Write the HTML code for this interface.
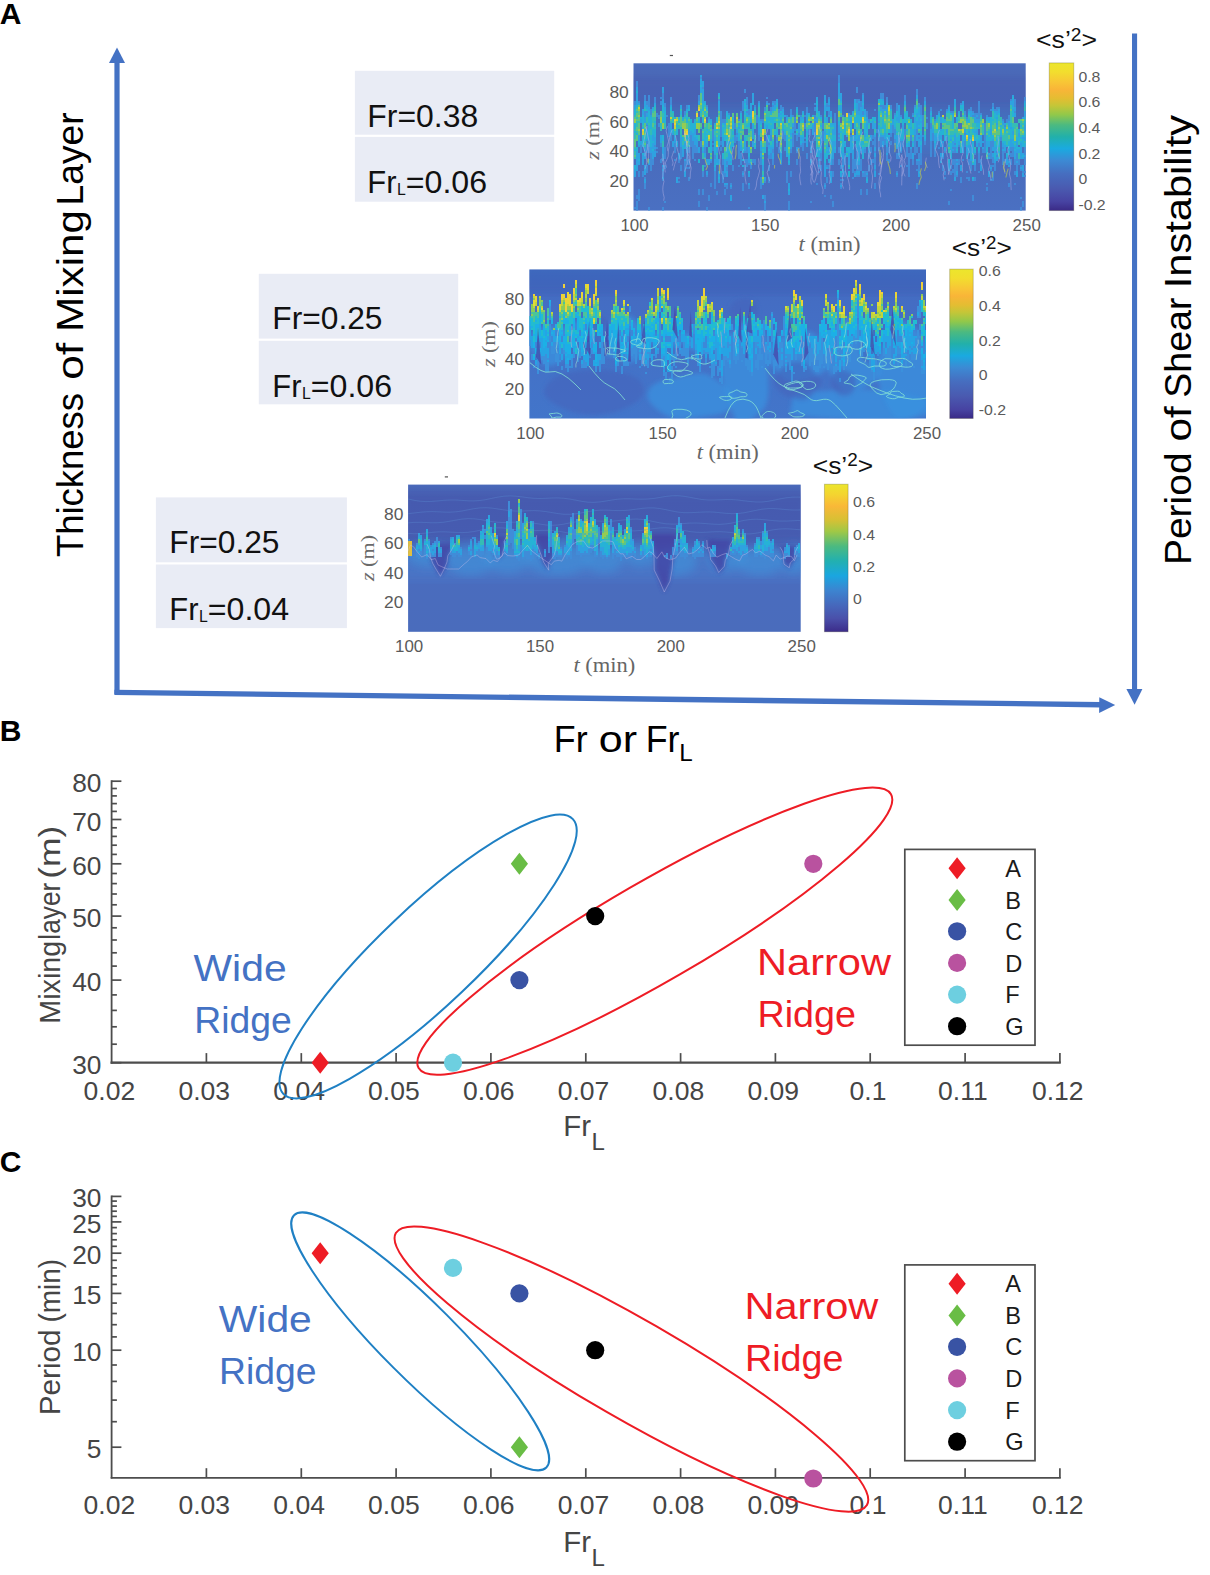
<!DOCTYPE html>
<html lang="en"><head><meta charset="utf-8"><title>Figure</title>
<style>html,body{margin:0;padding:0;background:#fff;}body{width:1210px;height:1575px;overflow:hidden;}svg{display:block;font-family:"Liberation Sans",sans-serif;}</style>
</head><body>
<svg width="1210" height="1575" viewBox="0 0 1210 1575">
<rect width="1210" height="1575" fill="#fff"/>
<defs>
<linearGradient id="cb1" x1="0" y1="0" x2="0" y2="1">
<stop offset="0%" stop-color="#ece62c"/>
<stop offset="6%" stop-color="#f2de2e"/>
<stop offset="13%" stop-color="#f8c636"/>
<stop offset="18%" stop-color="#f9b538"/>
<stop offset="24%" stop-color="#e4bd32"/>
<stop offset="29%" stop-color="#c4c638"/>
<stop offset="35%" stop-color="#92c84a"/>
<stop offset="42%" stop-color="#4cba80"/>
<stop offset="50%" stop-color="#22b0aa"/>
<stop offset="58%" stop-color="#1aaae0"/>
<stop offset="66%" stop-color="#3c8ad4"/>
<stop offset="75%" stop-color="#466ec0"/>
<stop offset="85%" stop-color="#4a5ab0"/>
<stop offset="94%" stop-color="#4743a2"/>
<stop offset="100%" stop-color="#3a2a86"/>
</linearGradient>
<linearGradient id="cb2" x1="0" y1="0" x2="0" y2="1">
<stop offset="0%" stop-color="#ece62c"/>
<stop offset="6%" stop-color="#f2de2e"/>
<stop offset="13%" stop-color="#f8c636"/>
<stop offset="18%" stop-color="#f9b538"/>
<stop offset="24%" stop-color="#e4bd32"/>
<stop offset="29%" stop-color="#c4c638"/>
<stop offset="35%" stop-color="#92c84a"/>
<stop offset="42%" stop-color="#4cba80"/>
<stop offset="50%" stop-color="#22b0aa"/>
<stop offset="58%" stop-color="#1aaae0"/>
<stop offset="66%" stop-color="#3c8ad4"/>
<stop offset="75%" stop-color="#466ec0"/>
<stop offset="85%" stop-color="#4a5ab0"/>
<stop offset="94%" stop-color="#4743a2"/>
<stop offset="100%" stop-color="#3a2a86"/>
</linearGradient>
<linearGradient id="cb3" x1="0" y1="0" x2="0" y2="1">
<stop offset="0%" stop-color="#ece62c"/>
<stop offset="7%" stop-color="#f4d430"/>
<stop offset="15%" stop-color="#f9b838"/>
<stop offset="24%" stop-color="#d8c034"/>
<stop offset="32%" stop-color="#a0c846"/>
<stop offset="42%" stop-color="#4cba80"/>
<stop offset="52%" stop-color="#22b0b0"/>
<stop offset="62%" stop-color="#1aa6e0"/>
<stop offset="72%" stop-color="#3c84d0"/>
<stop offset="82%" stop-color="#4668bc"/>
<stop offset="91%" stop-color="#4a50aa"/>
<stop offset="100%" stop-color="#3c2c8a"/>
</linearGradient>
<filter id="soft" x="-5%" y="-5%" width="110%" height="110%"><feGaussianBlur stdDeviation="0.7"/></filter>
<filter id="soft2" x="-5%" y="-5%" width="110%" height="110%"><feGaussianBlur stdDeviation="2.2"/></filter>
<filter id="soft3" x="-10%" y="-10%" width="120%" height="120%"><feGaussianBlur stdDeviation="5"/></filter>
</defs>
<text x="-0.3" y="24" font-size="30" fill="#000" font-weight="bold">A</text>
<text x="-0.2" y="740.9" font-size="30" fill="#000" font-weight="bold">B</text>
<text x="-0.3" y="1172.3" font-size="30" fill="#000" font-weight="bold">C</text>
<rect x="114.4" y="60" width="5.2" height="634" fill="#4472c4"/>
<polygon points="117,47.5 109,63 125,63" fill="#4472c4"/>
<line x1="114.4" y1="692.4" x2="1101" y2="704.7" stroke="#4472c4" stroke-width="5.4"/>
<polygon points="1115.2,705.1 1099.3,697.2 1099.1,712.9" fill="#4472c4"/>
<rect x="1132" y="33.5" width="5.1" height="657" fill="#4472c4"/>
<polygon points="1134.6,704.8 1126.4,689 1142.4,689" fill="#4472c4"/>
<text x="83.3" y="557.0" font-size="37" fill="#000" textLength="164.0" lengthAdjust="spacingAndGlyphs" transform="rotate(-90 83.3 557.0)">Thickness</text>
<text x="83.3" y="379.8" font-size="37" fill="#000" textLength="37.0" lengthAdjust="spacingAndGlyphs" transform="rotate(-90 83.3 379.8)">of</text>
<text x="83.3" y="332.0" font-size="37" fill="#000" textLength="122.0" lengthAdjust="spacingAndGlyphs" transform="rotate(-90 83.3 332.0)">Mixing</text>
<text x="83.3" y="205.4" font-size="37" fill="#000" textLength="93.0" lengthAdjust="spacingAndGlyphs" transform="rotate(-90 83.3 205.4)">Layer</text>
<text x="1191" y="565.1" font-size="37" fill="#000" textLength="112.7" lengthAdjust="spacingAndGlyphs" transform="rotate(-90 1191 565.1)">Period</text>
<text x="1191" y="441.6" font-size="37" fill="#000" textLength="35.4" lengthAdjust="spacingAndGlyphs" transform="rotate(-90 1191 441.6)">of</text>
<text x="1191" y="397.8" font-size="37" fill="#000" textLength="100.2" lengthAdjust="spacingAndGlyphs" transform="rotate(-90 1191 397.8)">Shear</text>
<text x="1191" y="288.3" font-size="37" fill="#000" textLength="173.4" lengthAdjust="spacingAndGlyphs" transform="rotate(-90 1191 288.3)">Instability</text>
<text x="553.8" y="752.3" font-size="36.2" fill="#000" textLength="33.8" lengthAdjust="spacingAndGlyphs">Fr</text>
<text x="598.8" y="752.3" font-size="36.2" fill="#000" textLength="38.3" lengthAdjust="spacingAndGlyphs">or</text>
<text x="645.7" y="752.3" font-size="36.2" fill="#000" textLength="33.8" lengthAdjust="spacingAndGlyphs">Fr</text>
<text x="679.3" y="761.2" font-size="24.2" fill="#000">L</text>
<rect x="354.9" y="70.8" width="199.3" height="63.9" fill="#e9ecf5"/>
<rect x="354.9" y="136.89999999999998" width="199.3" height="64.8" fill="#e9ecf5"/>
<text x="367.3" y="127" font-size="31.2" fill="#111" textLength="110.9" lengthAdjust="spacingAndGlyphs">Fr=0.38</text>
<text x="367.3" y="193.2" font-size="31.2" fill="#111" textLength="29.2" lengthAdjust="spacingAndGlyphs">Fr</text>
<text x="396.90000000000003" y="194.79999999999998" font-size="15.8" fill="#111">L</text>
<text x="405.8" y="193.2" font-size="31.2" fill="#111" textLength="81.3" lengthAdjust="spacingAndGlyphs">=0.06</text>
<rect x="258.8" y="273.8" width="199.4" height="64.8" fill="#e9ecf5"/>
<rect x="258.8" y="340.8" width="199.4" height="63.5" fill="#e9ecf5"/>
<text x="272.3" y="328.7" font-size="31.2" fill="#111" textLength="110.2" lengthAdjust="spacingAndGlyphs">Fr=0.25</text>
<text x="272.3" y="397.2" font-size="31.2" fill="#111" textLength="29.2" lengthAdjust="spacingAndGlyphs">Fr</text>
<text x="301.90000000000003" y="398.8" font-size="15.8" fill="#111">L</text>
<text x="310.8" y="397.2" font-size="31.2" fill="#111" textLength="81.3" lengthAdjust="spacingAndGlyphs">=0.06</text>
<rect x="155.9" y="497.4" width="191.0" height="64.9" fill="#e9ecf5"/>
<rect x="155.9" y="564.5" width="191.0" height="63.6" fill="#e9ecf5"/>
<text x="169.3" y="553.3" font-size="31.2" fill="#111" textLength="110.2" lengthAdjust="spacingAndGlyphs">Fr=0.25</text>
<text x="169.3" y="620.2" font-size="31.2" fill="#111" textLength="29.2" lengthAdjust="spacingAndGlyphs">Fr</text>
<text x="198.9" y="621.8000000000001" font-size="15.8" fill="#111">L</text>
<text x="207.8" y="620.2" font-size="31.2" fill="#111" textLength="81.3" lengthAdjust="spacingAndGlyphs">=0.04</text>
<clipPath id="clip1"><rect x="633.5" y="63.3" width="392.2" height="147.3"/></clipPath>
<linearGradient id="bg1" x1="0" y1="0" x2="0" y2="1">
<stop offset="0%" stop-color="#4a6cba"/>
<stop offset="12%" stop-color="#4a66b6"/>
<stop offset="40%" stop-color="#4966b8"/>
<stop offset="60%" stop-color="#496bbc"/>
<stop offset="100%" stop-color="#4a70c2"/>
</linearGradient>
<rect x="633.5" y="63.3" width="392.2" height="147.3" fill="url(#bg1)"/>
<g clip-path="url(#clip1)"><g transform="translate(634 63)">
<rect x="-8" y="14" width="408" height="40" fill="#4356ac" fill-opacity="0.28" filter="url(#soft3)"/>
<rect x="-8" y="44" width="408" height="44" fill="#3a90d4" fill-opacity="0.22" filter="url(#soft3)"/>
<g filter="url(#soft)">
<path d="M0 38h2v4h-2zM0 144h2v2h-2zM2 18h2v6h-2zM2 132h2v4h-2zM2 138h2v10h-2zM4 38h2v2h-2zM4 108h2v6h-2zM4 126h2v12h-2zM6 82h2v8h-2zM8 108h2v6h-2zM10 32h2v6h-2zM10 48h2v6h-2zM10 88h2v2h-2zM10 114h2v2h-2zM10 120h2v6h-2zM12 38h2v4h-2zM12 48h2v2h-2zM12 62h2v4h-2zM12 78h2v12h-2zM12 102h2v8h-2zM14 32h2v12h-2zM14 84h2v6h-2zM14 144h2v4h-2zM16 46h2v6h-2zM16 90h2v18h-2zM18 96h2v6h-2zM20 34h2v6h-2zM20 82h2v2h-2zM20 86h2v2h-2zM22 50h2v4h-2zM22 84h2v2h-2zM22 88h2v2h-2zM24 52h2v4h-2zM24 60h2v4h-2zM26 34h2v2h-2zM26 38h2v4h-2zM26 80h2v4h-2zM26 96h2v4h-2zM28 30h2v6h-2zM28 96h2v2h-2zM28 104h2v2h-2zM28 108h2v6h-2zM28 116h2v2h-2zM28 144h2v4h-2zM30 40h2v4h-2zM30 84h2v12h-2zM30 102h2v4h-2zM30 138h2v2h-2zM32 52h2v2h-2zM34 60h2v14h-2zM36 34h2v8h-2zM36 70h2v8h-2zM40 80h2v10h-2zM40 96h2v2h-2zM44 96h2v4h-2zM44 114h2v2h-2zM44 118h2v2h-2zM46 84h2v12h-2zM46 102h2v6h-2zM50 48h2v4h-2zM50 98h2v10h-2zM52 42h2v4h-2zM52 90h2v12h-2zM52 104h2v2h-2zM54 84h2v6h-2zM54 96h2v6h-2zM54 104h2v2h-2zM54 114h2v4h-2zM56 72h2v12h-2zM58 78h2v18h-2zM60 82h2v8h-2zM60 96h2v2h-2zM62 84h2v6h-2zM64 32h2v6h-2zM64 126h2v6h-2zM64 138h2v6h-2zM66 14h2v2h-2zM66 78h2v6h-2zM68 24h2v2h-2zM68 108h2v6h-2zM68 126h2v6h-2zM70 84h2v6h-2zM70 102h2v2h-2zM72 42h2v2h-2zM72 112h2v2h-2zM72 144h2v4h-2zM74 54h2v2h-2zM74 132h2v6h-2zM76 98h2v2h-2zM76 120h2v4h-2zM78 66h2v12h-2zM78 80h2v2h-2zM78 84h2v4h-2zM80 92h2v4h-2zM80 108h2v18h-2zM82 128h2v4h-2zM84 36h2v2h-2zM86 48h2v26h-2zM86 78h2v4h-2zM86 84h2v4h-2zM88 56h2v4h-2zM88 96h2v6h-2zM88 108h2v12h-2zM90 56h2v4h-2zM90 110h2v4h-2zM90 122h2v2h-2zM90 126h2v6h-2zM92 98h2v4h-2zM92 104h2v4h-2zM92 122h2v4h-2zM94 50h2v2h-2zM96 120h2v2h-2zM96 124h2v2h-2zM98 102h2v6h-2zM100 60h2v6h-2zM100 72h2v8h-2zM102 70h2v2h-2zM102 74h2v4h-2zM104 56h2v2h-2zM104 78h2v18h-2zM104 102h2v2h-2zM106 48h2v2h-2zM106 90h2v12h-2zM108 38h2v10h-2zM108 108h2v2h-2zM108 112h2v2h-2zM108 120h2v8h-2zM110 26h2v4h-2zM110 88h2v2h-2zM110 96h2v4h-2zM110 102h2v6h-2zM112 34h2v8h-2zM112 48h2v2h-2zM112 84h2v6h-2zM112 96h2v8h-2zM114 46h2v6h-2zM114 100h2v2h-2zM114 122h2v4h-2zM114 144h2v2h-2zM116 102h2v4h-2zM118 96h2v4h-2zM120 42h2v2h-2zM120 96h2v6h-2zM122 52h2v8h-2zM124 38h2v2h-2zM124 72h2v6h-2zM126 56h2v2h-2zM126 88h2v2h-2zM126 94h2v8h-2zM126 114h2v12h-2zM128 56h2v4h-2zM130 44h2v4h-2zM130 118h2v2h-2zM130 132h2v6h-2zM130 140h2v8h-2zM132 34h2v2h-2zM132 38h2v2h-2zM132 72h2v12h-2zM134 40h2v2h-2zM134 80h2v2h-2zM134 92h2v4h-2zM134 102h2v6h-2zM134 114h2v6h-2zM136 44h2v4h-2zM136 72h2v6h-2zM136 90h2v6h-2zM138 38h2v2h-2zM138 42h2v2h-2zM138 86h2v4h-2zM138 96h2v6h-2zM140 38h2v4h-2zM142 74h2v4h-2zM142 80h2v4h-2zM144 46h2v4h-2zM144 84h2v6h-2zM146 42h2v6h-2zM146 100h2v2h-2zM148 44h2v2h-2zM148 68h2v8h-2zM150 72h2v6h-2zM150 84h2v4h-2zM152 52h2v2h-2zM152 108h2v12h-2zM154 138h2v10h-2zM156 46h2v6h-2zM156 86h2v4h-2zM156 108h2v6h-2zM158 52h2v2h-2zM158 64h2v2h-2zM158 70h2v14h-2zM160 54h2v14h-2zM160 70h2v2h-2zM162 72h2v6h-2zM162 88h2v2h-2zM162 96h2v6h-2zM164 70h2v4h-2zM164 84h2v2h-2zM166 52h2v2h-2zM166 82h2v2h-2zM168 80h2v8h-2zM170 52h2v2h-2zM170 60h2v6h-2zM170 74h2v2h-2zM170 78h2v2h-2zM172 44h2v6h-2zM172 90h2v6h-2zM174 66h2v6h-2zM176 78h2v6h-2zM176 86h2v2h-2zM176 100h2v2h-2zM176 138h2v2h-2zM178 78h2v2h-2zM180 40h2v2h-2zM180 44h2v4h-2zM180 52h2v4h-2zM180 58h2v20h-2zM182 120h2v2h-2zM184 94h2v2h-2zM184 98h2v4h-2zM184 104h2v2h-2zM184 108h2v2h-2zM186 52h2v2h-2zM186 90h2v8h-2zM186 102h2v6h-2zM188 60h2v6h-2zM188 68h2v10h-2zM190 120h2v2h-2zM190 124h2v2h-2zM190 132h2v2h-2zM192 40h2v4h-2zM192 102h2v2h-2zM192 114h2v6h-2zM194 34h2v2h-2zM194 42h2v2h-2zM194 48h2v4h-2zM194 102h2v4h-2zM194 108h2v2h-2zM196 132h2v4h-2zM198 96h2v6h-2zM198 108h2v6h-2zM198 138h2v6h-2zM200 50h2v10h-2zM204 12h2v8h-2zM204 70h2v2h-2zM204 74h2v2h-2zM204 84h2v6h-2zM204 96h2v6h-2zM206 102h2v4h-2zM206 116h2v2h-2zM206 120h2v2h-2zM206 124h2v2h-2zM208 52h2v2h-2zM208 96h2v6h-2zM208 104h2v2h-2zM208 110h2v4h-2zM208 116h2v2h-2zM210 90h2v12h-2zM210 108h2v6h-2zM214 50h2v2h-2zM216 68h2v2h-2zM216 72h2v2h-2zM218 96h2v14h-2zM218 114h2v2h-2zM220 96h2v10h-2zM220 108h2v2h-2zM222 24h2v6h-2zM222 36h2v4h-2zM222 88h2v8h-2zM222 102h2v6h-2zM222 112h2v2h-2zM224 36h2v2h-2zM224 40h2v8h-2zM224 102h2v6h-2zM224 112h2v2h-2zM226 38h2v6h-2zM226 84h2v2h-2zM226 88h2v2h-2zM226 96h2v12h-2zM226 126h2v6h-2zM228 30h2v2h-2zM228 48h2v4h-2zM228 110h2v4h-2zM230 86h2v4h-2zM230 108h2v6h-2zM232 48h2v6h-2zM232 108h2v2h-2zM232 112h2v2h-2zM232 126h2v6h-2zM234 56h2v4h-2zM234 90h2v6h-2zM234 102h2v6h-2zM236 84h2v6h-2zM236 96h2v6h-2zM238 72h2v4h-2zM238 78h2v4h-2zM238 96h2v4h-2zM240 46h2v2h-2zM240 74h2v10h-2zM240 88h2v2h-2zM240 94h2v8h-2zM240 106h2v2h-2zM240 120h2v6h-2zM242 66h2v4h-2zM244 84h2v4h-2zM244 110h2v2h-2zM246 30h2v6h-2zM246 42h2v2h-2zM246 74h2v10h-2zM248 30h2v6h-2zM248 42h2v4h-2zM248 74h2v4h-2zM250 42h2v4h-2zM250 76h2v6h-2zM252 34h2v6h-2zM252 84h2v6h-2zM252 92h2v6h-2zM254 84h2v6h-2zM254 96h2v4h-2zM256 42h2v4h-2zM256 70h2v4h-2zM256 78h2v4h-2zM258 62h2v8h-2zM260 50h2v2h-2zM260 66h2v6h-2zM260 76h2v6h-2zM262 40h2v8h-2zM262 90h2v6h-2zM262 108h2v2h-2zM262 112h2v2h-2zM264 84h2v6h-2zM264 92h2v4h-2zM266 52h2v2h-2zM266 78h2v6h-2zM266 88h2v2h-2zM266 102h2v2h-2zM268 78h2v6h-2zM270 32h2v6h-2zM270 66h2v6h-2zM272 84h2v10h-2zM272 102h2v2h-2zM274 90h2v24h-2zM276 72h2v6h-2zM276 86h2v10h-2zM278 50h2v2h-2zM278 96h2v6h-2zM280 42h2v2h-2zM280 72h2v20h-2zM282 26h2v6h-2zM282 66h2v6h-2zM282 84h2v6h-2zM282 98h2v4h-2zM282 106h2v2h-2zM282 120h2v6h-2zM284 40h2v4h-2zM284 74h2v2h-2zM284 90h2v6h-2zM284 98h2v10h-2zM286 42h2v10h-2zM286 90h2v12h-2zM288 52h2v12h-2zM288 72h2v2h-2zM290 34h2v4h-2zM290 78h2v4h-2zM292 54h2v2h-2zM292 60h2v6h-2zM296 44h2v4h-2zM296 60h2v6h-2zM296 78h2v16h-2zM298 70h2v8h-2zM300 56h2v2h-2zM300 86h2v8h-2zM302 78h2v4h-2zM304 48h2v2h-2zM304 84h2v2h-2zM306 46h2v2h-2zM306 94h2v4h-2zM308 80h2v4h-2zM308 94h2v2h-2zM308 102h2v6h-2zM310 88h2v2h-2zM310 108h2v4h-2zM310 114h2v2h-2zM312 46h2v2h-2zM312 74h2v4h-2zM314 42h2v2h-2zM314 138h2v4h-2zM316 48h2v2h-2zM316 102h2v4h-2zM316 108h2v4h-2zM316 126h2v2h-2zM318 48h2v2h-2zM318 84h2v2h-2zM318 88h2v2h-2zM318 96h2v6h-2zM318 106h2v4h-2zM320 80h2v2h-2zM320 84h2v6h-2zM320 96h2v18h-2zM322 98h2v2h-2zM322 102h2v6h-2zM322 112h2v2h-2zM324 82h2v2h-2zM324 96h2v6h-2zM326 40h2v2h-2zM326 114h2v6h-2zM328 96h2v2h-2zM330 48h2v4h-2zM330 70h2v2h-2zM330 78h2v6h-2zM332 54h2v2h-2zM332 108h2v2h-2zM332 114h2v2h-2zM334 46h2v2h-2zM334 96h2v6h-2zM334 114h2v4h-2zM336 44h2v4h-2zM336 78h2v6h-2zM336 98h2v10h-2zM338 48h2v2h-2zM338 52h2v2h-2zM338 132h2v6h-2zM340 50h2v4h-2zM340 90h2v2h-2zM340 102h2v6h-2zM340 114h2v4h-2zM342 50h2v2h-2zM342 54h2v2h-2zM344 38h2v18h-2zM344 80h2v4h-2zM344 90h2v10h-2zM344 108h2v2h-2zM346 50h2v2h-2zM346 96h2v6h-2zM348 86h2v4h-2zM350 60h2v30h-2zM352 52h2v2h-2zM352 120h2v2h-2zM352 124h2v4h-2zM354 92h2v2h-2zM356 46h2v2h-2zM356 78h2v18h-2zM356 102h2v2h-2zM356 106h2v2h-2zM356 116h2v2h-2zM358 40h2v4h-2zM358 78h2v6h-2zM358 94h2v6h-2zM358 102h2v2h-2zM358 108h2v10h-2zM360 46h2v2h-2zM360 100h2v8h-2zM362 44h2v4h-2zM362 88h2v2h-2zM362 92h2v2h-2zM364 44h2v2h-2zM366 74h2v4h-2zM368 56h2v2h-2zM368 84h2v2h-2zM368 88h2v14h-2zM370 62h2v2h-2zM370 88h2v2h-2zM370 96h2v4h-2zM372 56h2v4h-2zM374 52h2v6h-2zM374 96h2v2h-2zM374 100h2v2h-2zM374 120h2v4h-2zM376 36h2v2h-2zM376 84h2v4h-2zM376 90h2v4h-2zM376 96h2v6h-2zM378 84h2v10h-2zM380 36h2v8h-2zM380 48h2v2h-2zM380 96h2v6h-2zM380 108h2v4h-2zM380 120h2v2h-2zM382 90h2v8h-2zM382 100h2v8h-2zM384 96h2v6h-2zM386 102h2v2h-2zM386 106h2v2h-2zM386 134h2v2h-2zM386 144h2v4h-2zM388 108h2v2h-2zM388 138h2v6h-2zM390 34h2v4h-2zM390 84h2v8h-2zM390 94h2v8h-2zM390 108h2v2h-2zM390 112h2v2h-2z" fill="#3f8cd8"/>
<path d="M0 42h2v4h-2zM0 106h2v8h-2zM2 24h2v4h-2zM2 30h2v12h-2zM2 88h2v20h-2zM4 40h2v2h-2zM4 72h2v6h-2zM4 82h2v2h-2zM4 90h2v6h-2zM4 98h2v4h-2zM6 56h2v4h-2zM6 78h2v4h-2zM8 46h2v6h-2zM8 92h2v10h-2zM10 38h2v6h-2zM10 54h2v6h-2zM10 84h2v4h-2zM10 90h2v6h-2zM10 102h2v10h-2zM10 116h2v4h-2zM12 42h2v4h-2zM12 50h2v4h-2zM12 60h2v2h-2zM12 66h2v6h-2zM12 76h2v2h-2zM14 44h2v4h-2zM14 72h2v12h-2zM14 96h2v6h-2zM16 52h2v2h-2zM16 84h2v6h-2zM18 44h2v2h-2zM18 72h2v6h-2zM18 80h2v6h-2zM18 88h2v8h-2zM20 40h2v2h-2zM20 74h2v8h-2zM20 84h2v2h-2zM20 88h2v6h-2zM26 72h2v8h-2zM28 24h2v6h-2zM28 36h2v6h-2zM28 84h2v12h-2zM28 102h2v2h-2zM28 106h2v2h-2zM28 114h2v2h-2zM30 44h2v4h-2zM36 42h2v2h-2zM36 60h2v10h-2zM38 70h2v2h-2zM38 78h2v6h-2zM40 72h2v8h-2zM42 78h2v2h-2zM42 82h2v2h-2zM42 114h2v6h-2zM44 90h2v6h-2zM46 42h2v4h-2zM46 74h2v10h-2zM48 54h2v2h-2zM48 86h2v8h-2zM50 52h2v2h-2zM50 80h2v4h-2zM50 96h2v2h-2zM50 108h2v6h-2zM52 46h2v2h-2zM52 84h2v6h-2zM54 42h2v4h-2zM54 66h2v6h-2zM54 74h2v4h-2zM56 68h2v4h-2zM58 70h2v8h-2zM60 56h2v2h-2zM60 66h2v6h-2zM60 74h2v8h-2zM62 76h2v8h-2zM64 38h2v4h-2zM64 84h2v6h-2zM66 12h2v2h-2zM66 16h2v6h-2zM66 24h2v6h-2zM68 18h2v6h-2zM68 26h2v14h-2zM68 88h2v2h-2zM70 38h2v2h-2zM70 78h2v6h-2zM70 90h2v6h-2zM72 44h2v2h-2zM72 80h2v4h-2zM72 96h2v6h-2zM72 108h2v4h-2zM74 56h2v2h-2zM74 96h2v6h-2zM76 56h2v2h-2zM76 96h2v2h-2zM80 60h2v2h-2zM80 74h2v4h-2zM80 90h2v2h-2zM80 96h2v6h-2zM80 104h2v4h-2zM82 84h2v6h-2zM82 96h2v4h-2zM84 30h2v2h-2zM84 38h2v10h-2zM84 96h2v6h-2zM84 108h2v6h-2zM84 116h2v4h-2zM88 74h2v10h-2zM90 60h2v2h-2zM90 96h2v14h-2zM90 120h2v2h-2zM92 48h2v2h-2zM92 82h2v2h-2zM92 96h2v2h-2zM92 102h2v2h-2zM92 108h2v6h-2zM92 120h2v2h-2zM94 78h2v6h-2zM94 90h2v12h-2zM96 90h2v6h-2zM96 98h2v2h-2zM96 122h2v2h-2zM96 132h2v6h-2zM98 62h2v4h-2zM102 66h2v4h-2zM102 72h2v2h-2zM104 60h2v2h-2zM104 64h2v2h-2zM106 82h2v6h-2zM108 110h2v2h-2zM110 38h2v2h-2zM110 78h2v10h-2zM112 42h2v4h-2zM112 50h2v4h-2zM114 52h2v2h-2zM114 84h2v6h-2zM114 94h2v6h-2zM114 110h2v4h-2zM114 120h2v2h-2zM116 40h2v12h-2zM116 54h2v2h-2zM116 58h2v2h-2zM116 100h2v2h-2zM118 30h2v10h-2zM118 62h2v14h-2zM118 78h2v6h-2zM120 44h2v2h-2zM124 40h2v2h-2zM124 54h2v18h-2zM126 58h2v2h-2zM126 82h2v6h-2zM126 90h2v4h-2zM128 102h2v6h-2zM128 120h2v2h-2zM128 132h2v4h-2zM130 114h2v4h-2zM130 138h2v2h-2zM132 40h2v2h-2zM132 62h2v4h-2zM134 78h2v2h-2zM134 82h2v4h-2zM134 88h2v4h-2zM136 48h2v2h-2zM136 66h2v6h-2zM136 84h2v6h-2zM138 40h2v2h-2zM138 44h2v4h-2zM138 84h2v2h-2zM138 90h2v6h-2zM140 42h2v4h-2zM142 36h2v4h-2zM142 72h2v2h-2zM142 78h2v2h-2zM144 50h2v4h-2zM146 50h2v2h-2zM146 54h2v4h-2zM146 90h2v10h-2zM148 46h2v4h-2zM148 66h2v2h-2zM150 52h2v2h-2zM150 70h2v2h-2zM152 54h2v4h-2zM152 90h2v4h-2zM154 96h2v2h-2zM154 100h2v2h-2zM154 120h2v6h-2zM154 128h2v4h-2zM156 52h2v2h-2zM156 70h2v2h-2zM156 76h2v2h-2zM156 84h2v2h-2zM158 60h2v4h-2zM158 66h2v4h-2zM162 44h2v2h-2zM162 84h2v4h-2zM164 60h2v10h-2zM166 54h2v4h-2zM166 74h2v4h-2zM166 80h2v2h-2zM168 48h2v2h-2zM168 54h2v2h-2zM168 74h2v6h-2zM172 50h2v10h-2zM172 68h2v2h-2zM172 78h2v6h-2zM174 50h2v2h-2zM176 84h2v2h-2zM176 88h2v2h-2zM176 96h2v4h-2zM178 62h2v10h-2zM180 56h2v2h-2zM182 34h2v4h-2zM182 42h2v2h-2zM182 54h2v6h-2zM182 86h2v4h-2zM184 48h2v2h-2zM184 88h2v6h-2zM184 96h2v2h-2zM184 102h2v2h-2zM186 74h2v10h-2zM186 88h2v2h-2zM190 32h2v6h-2zM190 42h2v6h-2zM190 68h2v4h-2zM190 100h2v14h-2zM190 122h2v2h-2zM192 44h2v4h-2zM192 54h2v6h-2zM192 84h2v2h-2zM192 88h2v2h-2zM192 94h2v2h-2zM192 104h2v2h-2zM194 36h2v6h-2zM194 44h2v4h-2zM194 52h2v2h-2zM194 84h2v6h-2zM194 98h2v2h-2zM196 48h2v6h-2zM196 96h2v6h-2zM196 108h2v12h-2zM198 60h2v2h-2zM198 66h2v6h-2zM198 78h2v18h-2zM200 60h2v12h-2zM200 78h2v6h-2zM200 86h2v4h-2zM204 20h2v14h-2zM204 62h2v8h-2zM204 72h2v2h-2zM204 76h2v2h-2zM206 30h2v8h-2zM206 42h2v6h-2zM206 88h2v2h-2zM206 110h2v4h-2zM206 122h2v2h-2zM208 90h2v6h-2zM208 102h2v2h-2zM208 106h2v4h-2zM210 80h2v4h-2zM212 72h2v2h-2zM212 88h2v2h-2zM214 52h2v2h-2zM214 90h2v12h-2zM216 54h2v6h-2zM216 64h2v4h-2zM216 74h2v16h-2zM218 48h2v2h-2zM218 72h2v2h-2zM218 76h2v2h-2zM218 84h2v12h-2zM220 36h2v4h-2zM220 72h2v6h-2zM220 110h2v4h-2zM222 40h2v12h-2zM222 76h2v2h-2zM222 84h2v4h-2zM222 96h2v6h-2zM222 108h2v4h-2zM224 38h2v2h-2zM224 48h2v4h-2zM224 72h2v6h-2zM224 82h2v12h-2zM224 98h2v4h-2zM224 108h2v4h-2zM226 44h2v10h-2zM226 86h2v2h-2zM228 32h2v8h-2zM228 42h2v4h-2zM228 52h2v2h-2zM228 86h2v4h-2zM228 108h2v2h-2zM230 46h2v6h-2zM230 70h2v4h-2zM230 84h2v2h-2zM232 54h2v4h-2zM232 60h2v6h-2zM232 110h2v2h-2zM232 114h2v2h-2zM232 118h2v2h-2zM234 84h2v6h-2zM236 72h2v6h-2zM238 58h2v8h-2zM240 60h2v6h-2zM240 72h2v2h-2zM240 84h2v4h-2zM240 90h2v4h-2zM240 102h2v4h-2zM240 108h2v6h-2zM244 58h2v2h-2zM244 66h2v6h-2zM244 74h2v4h-2zM246 44h2v4h-2zM246 72h2v2h-2zM248 36h2v2h-2zM248 46h2v4h-2zM248 52h2v2h-2zM248 72h2v2h-2zM248 78h2v6h-2zM250 46h2v2h-2zM250 70h2v6h-2zM252 40h2v14h-2zM252 76h2v2h-2zM252 80h2v4h-2zM252 90h2v2h-2zM254 74h2v4h-2zM256 62h2v8h-2zM258 56h2v6h-2zM260 52h2v2h-2zM260 64h2v2h-2zM260 72h2v4h-2zM262 54h2v4h-2zM262 72h2v10h-2zM262 84h2v2h-2zM262 110h2v2h-2zM264 42h2v18h-2zM264 72h2v12h-2zM264 90h2v2h-2zM266 76h2v2h-2zM266 84h2v4h-2zM268 62h2v4h-2zM268 76h2v2h-2zM270 38h2v4h-2zM272 48h2v2h-2zM274 80h2v4h-2zM276 64h2v2h-2zM276 84h2v2h-2zM278 52h2v2h-2zM278 78h2v2h-2zM278 90h2v6h-2zM280 44h2v2h-2zM280 54h2v6h-2zM280 66h2v6h-2zM282 32h2v4h-2zM282 50h2v4h-2zM282 58h2v8h-2zM282 72h2v6h-2zM282 96h2v2h-2zM284 44h2v8h-2zM284 54h2v8h-2zM284 64h2v2h-2zM284 72h2v2h-2zM284 76h2v8h-2zM284 96h2v2h-2zM284 108h2v6h-2zM286 52h2v4h-2zM286 58h2v2h-2zM286 72h2v6h-2zM286 82h2v8h-2zM290 38h2v4h-2zM290 76h2v2h-2zM296 48h2v2h-2zM296 52h2v2h-2zM296 66h2v12h-2zM298 66h2v4h-2zM300 58h2v2h-2zM300 72h2v6h-2zM300 80h2v6h-2zM302 52h2v4h-2zM302 74h2v4h-2zM304 50h2v2h-2zM304 72h2v6h-2zM306 54h2v6h-2zM306 66h2v2h-2zM306 72h2v4h-2zM306 78h2v6h-2zM306 90h2v4h-2zM306 98h2v2h-2zM308 78h2v2h-2zM308 90h2v4h-2zM310 56h2v2h-2zM310 84h2v4h-2zM312 48h2v2h-2zM312 66h2v4h-2zM312 72h2v2h-2zM314 44h2v4h-2zM314 100h2v8h-2zM316 76h2v2h-2zM316 86h2v2h-2zM316 94h2v2h-2zM318 50h2v2h-2zM318 78h2v6h-2zM318 86h2v2h-2zM320 36h2v6h-2zM320 72h2v8h-2zM320 82h2v2h-2zM320 114h2v4h-2zM322 56h2v2h-2zM322 84h2v2h-2zM322 88h2v2h-2zM322 96h2v2h-2zM322 100h2v2h-2zM322 108h2v4h-2zM324 48h2v2h-2zM324 78h2v4h-2zM326 102h2v6h-2zM328 38h2v4h-2zM328 78h2v12h-2zM330 52h2v2h-2zM330 66h2v4h-2zM330 72h2v6h-2zM332 56h2v2h-2zM332 84h2v8h-2zM332 94h2v2h-2zM334 48h2v2h-2zM334 68h2v2h-2zM334 74h2v4h-2zM334 82h2v8h-2zM336 48h2v6h-2zM336 84h2v14h-2zM338 50h2v2h-2zM338 84h2v6h-2zM338 116h2v2h-2zM340 54h2v6h-2zM340 68h2v2h-2zM340 96h2v6h-2zM342 52h2v2h-2zM342 56h2v4h-2zM342 66h2v6h-2zM342 80h2v4h-2zM344 56h2v4h-2zM344 78h2v2h-2zM344 88h2v2h-2zM346 72h2v12h-2zM346 102h2v6h-2zM348 78h2v2h-2zM348 84h2v2h-2zM352 54h2v2h-2zM352 78h2v6h-2zM354 54h2v4h-2zM354 78h2v6h-2zM354 90h2v2h-2zM354 94h2v2h-2zM354 108h2v6h-2zM356 66h2v6h-2zM356 104h2v2h-2zM358 44h2v4h-2zM358 76h2v2h-2zM358 84h2v4h-2zM358 90h2v4h-2zM360 48h2v2h-2zM360 84h2v6h-2zM360 96h2v4h-2zM362 48h2v4h-2zM362 54h2v2h-2zM362 60h2v2h-2zM362 84h2v4h-2zM362 90h2v2h-2zM362 94h2v4h-2zM364 46h2v4h-2zM366 72h2v2h-2zM368 58h2v4h-2zM368 80h2v4h-2zM368 86h2v2h-2zM370 60h2v2h-2zM370 64h2v2h-2zM370 82h2v6h-2zM372 94h2v8h-2zM374 58h2v6h-2zM374 86h2v2h-2zM374 90h2v2h-2zM374 98h2v2h-2zM374 102h2v2h-2zM376 38h2v4h-2zM376 64h2v2h-2zM376 76h2v8h-2zM378 32h2v2h-2zM378 36h2v8h-2zM378 46h2v2h-2zM378 68h2v4h-2zM378 76h2v2h-2zM378 80h2v4h-2zM380 44h2v4h-2zM380 50h2v4h-2zM380 84h2v2h-2zM380 88h2v8h-2zM382 78h2v6h-2zM382 86h2v4h-2zM382 98h2v2h-2zM382 108h2v6h-2zM384 70h2v4h-2zM384 86h2v4h-2zM386 80h2v16h-2zM386 104h2v2h-2zM388 54h2v2h-2zM388 74h2v2h-2zM388 90h2v2h-2zM388 94h2v2h-2zM388 102h2v6h-2zM388 110h2v4h-2zM390 38h2v2h-2zM390 48h2v6h-2zM390 62h2v6h-2zM390 74h2v4h-2zM390 92h2v2h-2z" fill="#2ea2e0"/>
<path d="M0 46h2v6h-2zM0 60h2v6h-2zM0 68h2v2h-2zM0 86h2v2h-2zM0 102h2v4h-2zM2 28h2v2h-2zM2 42h2v2h-2zM2 70h2v2h-2zM2 84h2v4h-2zM4 78h2v4h-2zM4 96h2v2h-2zM6 54h2v2h-2zM8 52h2v10h-2zM8 64h2v2h-2zM8 74h2v10h-2zM8 90h2v2h-2zM10 44h2v2h-2zM10 66h2v2h-2zM10 76h2v2h-2zM12 46h2v2h-2zM12 72h2v4h-2zM14 48h2v12h-2zM14 62h2v10h-2zM16 54h2v12h-2zM16 72h2v12h-2zM18 46h2v2h-2zM18 66h2v6h-2zM18 78h2v2h-2zM18 86h2v2h-2zM20 42h2v2h-2zM20 58h2v2h-2zM20 62h2v2h-2zM20 66h2v8h-2zM26 64h2v2h-2zM28 42h2v8h-2zM28 54h2v6h-2zM28 72h2v6h-2zM30 48h2v12h-2zM36 44h2v4h-2zM38 48h2v2h-2zM38 56h2v2h-2zM38 66h2v4h-2zM40 54h2v2h-2zM42 62h2v2h-2zM42 66h2v6h-2zM42 80h2v2h-2zM44 54h2v2h-2zM44 58h2v2h-2zM46 48h2v4h-2zM46 72h2v2h-2zM48 56h2v2h-2zM48 74h2v4h-2zM48 82h2v4h-2zM50 78h2v2h-2zM50 84h2v2h-2zM52 48h2v2h-2zM52 54h2v6h-2zM52 74h2v2h-2zM54 46h2v2h-2zM54 72h2v2h-2zM54 80h2v2h-2zM56 56h2v12h-2zM58 60h2v10h-2zM60 58h2v8h-2zM60 72h2v2h-2zM62 72h2v4h-2zM64 54h2v6h-2zM64 96h2v4h-2zM66 22h2v2h-2zM66 48h2v2h-2zM68 40h2v8h-2zM68 56h2v4h-2zM68 76h2v2h-2zM68 84h2v4h-2zM70 40h2v2h-2zM70 48h2v2h-2zM70 52h2v2h-2zM70 68h2v10h-2zM72 46h2v2h-2zM72 66h2v2h-2zM72 70h2v2h-2zM72 74h2v2h-2zM72 78h2v2h-2zM74 58h2v2h-2zM74 68h2v2h-2zM76 58h2v4h-2zM76 76h2v14h-2zM80 66h2v2h-2zM80 72h2v2h-2zM80 78h2v12h-2zM80 102h2v2h-2zM82 54h2v4h-2zM82 92h2v4h-2zM82 100h2v2h-2zM84 32h2v2h-2zM84 72h2v12h-2zM84 114h2v2h-2zM88 60h2v2h-2zM88 64h2v10h-2zM88 90h2v6h-2zM90 62h2v4h-2zM90 72h2v6h-2zM92 50h2v4h-2zM92 74h2v2h-2zM92 78h2v4h-2zM92 84h2v6h-2zM92 94h2v2h-2zM94 52h2v4h-2zM94 86h2v4h-2zM96 76h2v12h-2zM96 96h2v2h-2zM96 100h2v2h-2zM98 54h2v8h-2zM98 68h2v4h-2zM98 74h2v4h-2zM98 80h2v4h-2zM104 62h2v2h-2zM104 70h2v8h-2zM106 50h2v6h-2zM106 78h2v4h-2zM108 86h2v4h-2zM108 96h2v2h-2zM108 102h2v2h-2zM110 36h2v2h-2zM110 40h2v6h-2zM110 48h2v4h-2zM110 54h2v6h-2zM110 74h2v4h-2zM112 46h2v2h-2zM112 62h2v2h-2zM114 60h2v4h-2zM114 90h2v4h-2zM114 108h2v2h-2zM116 52h2v2h-2zM116 56h2v2h-2zM116 98h2v2h-2zM118 40h2v2h-2zM118 60h2v2h-2zM120 46h2v2h-2zM120 80h2v2h-2zM120 84h2v2h-2zM124 42h2v2h-2zM126 60h2v2h-2zM126 64h2v2h-2zM126 78h2v4h-2zM128 84h2v2h-2zM128 96h2v6h-2zM128 112h2v2h-2zM130 60h2v6h-2zM130 84h2v6h-2zM132 54h2v8h-2zM134 54h2v4h-2zM134 60h2v6h-2zM134 72h2v6h-2zM134 86h2v2h-2zM136 50h2v2h-2zM136 54h2v6h-2zM136 62h2v4h-2zM136 82h2v2h-2zM138 54h2v12h-2zM138 78h2v6h-2zM140 46h2v2h-2zM140 54h2v2h-2zM140 58h2v2h-2zM140 68h2v4h-2zM142 40h2v4h-2zM142 66h2v6h-2zM144 54h2v2h-2zM144 58h2v2h-2zM146 48h2v2h-2zM146 52h2v2h-2zM146 58h2v2h-2zM146 88h2v2h-2zM148 50h2v4h-2zM148 60h2v6h-2zM150 66h2v4h-2zM152 58h2v2h-2zM152 72h2v18h-2zM154 60h2v2h-2zM154 92h2v4h-2zM154 98h2v2h-2zM154 126h2v2h-2zM156 54h2v2h-2zM156 66h2v4h-2zM156 72h2v2h-2zM156 78h2v6h-2zM162 46h2v4h-2zM162 66h2v2h-2zM162 70h2v2h-2zM166 58h2v2h-2zM166 72h2v2h-2zM166 78h2v2h-2zM168 50h2v2h-2zM168 56h2v4h-2zM168 72h2v2h-2zM172 66h2v2h-2zM172 70h2v8h-2zM176 64h2v2h-2zM178 52h2v2h-2zM178 60h2v2h-2zM182 38h2v4h-2zM182 44h2v6h-2zM182 84h2v2h-2zM182 90h2v4h-2zM184 50h2v4h-2zM184 84h2v4h-2zM186 54h2v2h-2zM186 62h2v2h-2zM186 72h2v2h-2zM186 84h2v4h-2zM190 38h2v4h-2zM190 48h2v4h-2zM190 54h2v6h-2zM190 66h2v2h-2zM190 72h2v6h-2zM190 90h2v10h-2zM192 70h2v2h-2zM192 82h2v2h-2zM192 86h2v2h-2zM192 90h2v4h-2zM194 66h2v6h-2zM194 90h2v2h-2zM194 96h2v2h-2zM196 60h2v4h-2zM196 76h2v6h-2zM196 90h2v6h-2zM198 62h2v2h-2zM198 72h2v6h-2zM200 72h2v6h-2zM200 84h2v2h-2zM204 34h2v2h-2zM204 42h2v6h-2zM204 58h2v4h-2zM206 38h2v2h-2zM206 48h2v2h-2zM206 68h2v2h-2zM206 76h2v2h-2zM206 84h2v4h-2zM206 90h2v4h-2zM206 108h2v2h-2zM208 70h2v20h-2zM210 62h2v10h-2zM210 78h2v2h-2zM212 84h2v4h-2zM212 92h2v2h-2zM214 54h2v2h-2zM214 58h2v2h-2zM214 84h2v6h-2zM214 104h2v2h-2zM214 108h2v6h-2zM216 60h2v4h-2zM218 50h2v2h-2zM218 74h2v2h-2zM218 80h2v4h-2zM220 40h2v6h-2zM220 54h2v12h-2zM222 52h2v8h-2zM222 68h2v8h-2zM222 78h2v6h-2zM224 52h2v10h-2zM224 78h2v4h-2zM224 94h2v4h-2zM226 54h2v4h-2zM226 68h2v4h-2zM226 78h2v6h-2zM228 40h2v2h-2zM228 46h2v2h-2zM228 78h2v4h-2zM228 84h2v2h-2zM228 90h2v6h-2zM230 52h2v2h-2zM230 56h2v2h-2zM230 60h2v10h-2zM230 74h2v4h-2zM232 58h2v2h-2zM232 66h2v8h-2zM232 76h2v2h-2zM232 116h2v2h-2zM234 60h2v2h-2zM234 82h2v2h-2zM236 58h2v2h-2zM238 54h2v4h-2zM240 54h2v4h-2zM240 70h2v2h-2zM244 36h2v2h-2zM244 42h2v2h-2zM244 48h2v10h-2zM244 62h2v4h-2zM244 72h2v2h-2zM246 36h2v6h-2zM246 64h2v2h-2zM246 70h2v2h-2zM248 38h2v4h-2zM248 50h2v2h-2zM248 56h2v10h-2zM250 62h2v8h-2zM252 70h2v6h-2zM252 78h2v2h-2zM254 66h2v4h-2zM254 72h2v2h-2zM256 46h2v2h-2zM256 60h2v2h-2zM260 54h2v10h-2zM262 48h2v6h-2zM262 58h2v2h-2zM262 68h2v2h-2zM262 82h2v2h-2zM266 54h2v2h-2zM266 68h2v8h-2zM268 56h2v6h-2zM268 66h2v10h-2zM270 50h2v10h-2zM272 50h2v6h-2zM272 58h2v2h-2zM272 66h2v2h-2zM272 80h2v4h-2zM274 54h2v2h-2zM274 60h2v6h-2zM274 78h2v2h-2zM276 56h2v8h-2zM276 66h2v6h-2zM278 66h2v6h-2zM278 80h2v4h-2zM280 46h2v6h-2zM280 60h2v6h-2zM282 46h2v4h-2zM282 54h2v4h-2zM284 52h2v2h-2zM284 62h2v2h-2zM286 56h2v2h-2zM286 60h2v6h-2zM286 68h2v4h-2zM286 78h2v4h-2zM290 72h2v4h-2zM296 50h2v2h-2zM296 54h2v6h-2zM298 64h2v2h-2zM300 70h2v2h-2zM300 78h2v2h-2zM302 56h2v2h-2zM302 70h2v4h-2zM304 52h2v2h-2zM304 64h2v8h-2zM306 68h2v4h-2zM306 76h2v2h-2zM308 56h2v4h-2zM308 66h2v6h-2zM310 58h2v2h-2zM310 72h2v6h-2zM312 70h2v2h-2zM314 48h2v2h-2zM314 78h2v2h-2zM314 82h2v2h-2zM314 96h2v4h-2zM316 50h2v2h-2zM316 72h2v4h-2zM316 80h2v6h-2zM316 88h2v6h-2zM318 52h2v14h-2zM318 72h2v2h-2zM320 42h2v2h-2zM320 70h2v2h-2zM322 54h2v2h-2zM322 58h2v2h-2zM322 74h2v10h-2zM322 86h2v2h-2zM324 50h2v2h-2zM324 72h2v6h-2zM326 42h2v4h-2zM326 84h2v6h-2zM328 42h2v6h-2zM328 72h2v6h-2zM332 58h2v2h-2zM332 70h2v2h-2zM332 82h2v2h-2zM332 92h2v2h-2zM334 50h2v2h-2zM334 56h2v4h-2zM334 66h2v2h-2zM334 70h2v4h-2zM334 78h2v4h-2zM336 72h2v6h-2zM338 66h2v4h-2zM338 78h2v6h-2zM338 96h2v2h-2zM338 100h2v2h-2zM338 114h2v2h-2zM340 66h2v2h-2zM340 70h2v8h-2zM340 86h2v4h-2zM342 60h2v4h-2zM342 76h2v4h-2zM344 60h2v6h-2zM344 72h2v6h-2zM344 84h2v4h-2zM346 52h2v2h-2zM348 60h2v2h-2zM352 56h2v2h-2zM352 72h2v6h-2zM352 84h2v6h-2zM354 58h2v2h-2zM354 68h2v4h-2zM354 74h2v4h-2zM356 54h2v12h-2zM356 72h2v6h-2zM358 56h2v2h-2zM358 72h2v4h-2zM360 50h2v6h-2zM360 78h2v6h-2zM360 90h2v6h-2zM362 52h2v2h-2zM362 56h2v4h-2zM362 62h2v4h-2zM362 76h2v2h-2zM362 82h2v2h-2zM364 50h2v2h-2zM364 74h2v2h-2zM364 78h2v6h-2zM364 88h2v2h-2zM364 94h2v2h-2zM366 62h2v2h-2zM366 66h2v6h-2zM368 78h2v2h-2zM370 66h2v4h-2zM370 78h2v4h-2zM372 82h2v2h-2zM372 90h2v4h-2zM374 64h2v2h-2zM374 70h2v2h-2zM374 78h2v8h-2zM374 88h2v2h-2zM376 60h2v4h-2zM376 66h2v10h-2zM378 34h2v2h-2zM378 44h2v2h-2zM378 48h2v6h-2zM378 64h2v4h-2zM378 72h2v4h-2zM378 78h2v2h-2zM380 78h2v2h-2zM380 82h2v2h-2zM380 86h2v2h-2zM382 74h2v4h-2zM382 84h2v2h-2zM384 66h2v4h-2zM384 74h2v4h-2zM384 84h2v2h-2zM386 62h2v2h-2zM386 74h2v2h-2zM386 78h2v2h-2zM388 72h2v2h-2zM388 76h2v8h-2zM388 92h2v2h-2zM390 40h2v4h-2zM390 54h2v2h-2zM390 58h2v4h-2zM390 68h2v6h-2zM390 80h2v4h-2z" fill="#25b2d6"/>
<path d="M0 52h2v2h-2zM0 66h2v2h-2zM0 70h2v6h-2zM0 84h2v2h-2zM0 88h2v4h-2zM0 94h2v2h-2zM2 44h2v2h-2zM2 48h2v2h-2zM2 54h2v2h-2zM2 58h2v6h-2zM2 68h2v2h-2zM4 58h2v2h-2zM8 62h2v2h-2zM8 72h2v2h-2zM10 46h2v2h-2zM10 68h2v2h-2zM10 72h2v4h-2zM10 78h2v2h-2zM10 82h2v2h-2zM12 54h2v6h-2zM14 60h2v2h-2zM16 66h2v6h-2zM18 48h2v2h-2zM18 54h2v6h-2zM18 64h2v2h-2zM20 44h2v4h-2zM20 54h2v4h-2zM20 60h2v2h-2zM20 64h2v2h-2zM26 60h2v4h-2zM26 66h2v2h-2zM28 50h2v4h-2zM28 78h2v6h-2zM30 60h2v6h-2zM36 48h2v6h-2zM36 58h2v2h-2zM38 50h2v6h-2zM38 58h2v2h-2zM40 68h2v4h-2zM42 60h2v2h-2zM42 64h2v2h-2zM44 56h2v2h-2zM44 62h2v4h-2zM46 46h2v2h-2zM46 52h2v2h-2zM46 64h2v8h-2zM48 78h2v4h-2zM50 54h2v2h-2zM52 50h2v4h-2zM52 72h2v2h-2zM52 76h2v2h-2zM52 82h2v2h-2zM54 54h2v2h-2zM54 58h2v8h-2zM54 78h2v2h-2zM54 82h2v2h-2zM62 58h2v2h-2zM64 72h2v6h-2zM66 46h2v2h-2zM66 50h2v4h-2zM66 64h2v2h-2zM68 54h2v2h-2zM68 66h2v2h-2zM68 70h2v6h-2zM68 90h2v6h-2zM68 102h2v6h-2zM70 42h2v2h-2zM70 50h2v2h-2zM70 64h2v4h-2zM72 50h2v4h-2zM72 60h2v6h-2zM72 68h2v2h-2zM72 72h2v2h-2zM72 76h2v2h-2zM74 66h2v2h-2zM74 70h2v2h-2zM74 84h2v6h-2zM76 64h2v2h-2zM76 68h2v8h-2zM76 92h2v2h-2zM80 62h2v4h-2zM80 68h2v4h-2zM82 58h2v2h-2zM82 66h2v2h-2zM82 70h2v2h-2zM82 74h2v4h-2zM82 90h2v2h-2zM84 34h2v2h-2zM84 50h2v2h-2zM84 66h2v6h-2zM88 62h2v2h-2zM90 66h2v4h-2zM90 88h2v8h-2zM92 54h2v6h-2zM92 72h2v2h-2zM92 76h2v2h-2zM92 90h2v4h-2zM94 62h2v4h-2zM94 84h2v2h-2zM96 66h2v10h-2zM96 88h2v2h-2zM98 66h2v2h-2zM98 72h2v2h-2zM98 78h2v2h-2zM102 64h2v2h-2zM104 66h2v4h-2zM106 56h2v12h-2zM106 70h2v2h-2zM106 76h2v2h-2zM108 66h2v2h-2zM108 84h2v2h-2zM110 46h2v2h-2zM110 52h2v2h-2zM110 60h2v6h-2zM110 72h2v2h-2zM112 60h2v2h-2zM112 64h2v2h-2zM112 72h2v6h-2zM114 54h2v6h-2zM114 64h2v6h-2zM114 72h2v2h-2zM114 78h2v4h-2zM116 66h2v2h-2zM116 96h2v2h-2zM120 48h2v2h-2zM120 52h2v2h-2zM120 62h2v4h-2zM120 72h2v8h-2zM120 82h2v2h-2zM124 44h2v10h-2zM126 62h2v2h-2zM126 66h2v4h-2zM128 86h2v4h-2zM128 92h2v2h-2zM128 108h2v4h-2zM130 48h2v2h-2zM130 58h2v2h-2zM130 80h2v4h-2zM132 44h2v10h-2zM134 48h2v6h-2zM134 58h2v2h-2zM136 60h2v2h-2zM136 78h2v4h-2zM138 48h2v2h-2zM138 76h2v2h-2zM140 56h2v2h-2zM140 66h2v2h-2zM142 44h2v2h-2zM142 54h2v2h-2zM142 58h2v2h-2zM142 64h2v2h-2zM144 56h2v2h-2zM144 60h2v4h-2zM146 84h2v4h-2zM148 54h2v2h-2zM148 58h2v2h-2zM150 62h2v4h-2zM152 64h2v4h-2zM154 54h2v2h-2zM154 62h2v10h-2zM154 74h2v2h-2zM154 78h2v6h-2zM154 90h2v2h-2zM156 56h2v8h-2zM156 74h2v2h-2zM162 50h2v2h-2zM162 68h2v2h-2zM164 52h2v2h-2zM166 66h2v2h-2zM168 52h2v2h-2zM168 68h2v4h-2zM172 64h2v2h-2zM174 52h2v2h-2zM174 58h2v2h-2zM174 62h2v4h-2zM176 60h2v4h-2zM182 50h2v4h-2zM182 72h2v2h-2zM182 76h2v8h-2zM184 54h2v2h-2zM184 72h2v2h-2zM184 76h2v2h-2zM186 56h2v2h-2zM186 60h2v2h-2zM186 64h2v2h-2zM186 68h2v4h-2zM190 52h2v2h-2zM190 78h2v2h-2zM190 82h2v2h-2zM190 86h2v4h-2zM192 66h2v4h-2zM192 76h2v6h-2zM194 72h2v2h-2zM196 54h2v2h-2zM196 64h2v6h-2zM196 72h2v4h-2zM196 82h2v8h-2zM198 64h2v2h-2zM204 54h2v4h-2zM206 40h2v2h-2zM206 52h2v2h-2zM206 64h2v4h-2zM206 70h2v6h-2zM206 80h2v4h-2zM208 66h2v4h-2zM210 54h2v8h-2zM212 58h2v2h-2zM212 90h2v2h-2zM214 56h2v2h-2zM214 102h2v2h-2zM216 52h2v2h-2zM218 52h2v2h-2zM218 78h2v2h-2zM220 46h2v2h-2zM222 64h2v4h-2zM224 62h2v4h-2zM226 58h2v2h-2zM226 66h2v2h-2zM228 82h2v2h-2zM230 54h2v2h-2zM230 80h2v4h-2zM232 74h2v2h-2zM232 80h2v4h-2zM234 62h2v4h-2zM234 74h2v8h-2zM236 56h2v2h-2zM240 58h2v2h-2zM240 66h2v4h-2zM244 38h2v2h-2zM244 44h2v4h-2zM244 60h2v2h-2zM246 48h2v2h-2zM246 54h2v10h-2zM246 66h2v4h-2zM248 54h2v2h-2zM248 70h2v2h-2zM250 50h2v2h-2zM250 60h2v2h-2zM252 54h2v2h-2zM252 66h2v4h-2zM256 48h2v10h-2zM262 60h2v8h-2zM262 70h2v2h-2zM264 60h2v12h-2zM266 56h2v4h-2zM266 66h2v2h-2zM270 42h2v2h-2zM270 48h2v2h-2zM272 56h2v2h-2zM272 60h2v2h-2zM272 68h2v4h-2zM272 76h2v4h-2zM278 60h2v6h-2zM278 74h2v4h-2zM280 52h2v2h-2zM282 36h2v2h-2zM282 42h2v4h-2zM284 68h2v2h-2zM286 66h2v2h-2zM290 42h2v2h-2zM290 48h2v4h-2zM290 64h2v2h-2zM290 68h2v4h-2zM298 54h2v2h-2zM298 62h2v2h-2zM300 60h2v2h-2zM300 66h2v4h-2zM302 58h2v2h-2zM302 66h2v4h-2zM304 54h2v10h-2zM308 54h2v2h-2zM308 62h2v2h-2zM310 66h2v6h-2zM312 50h2v4h-2zM312 58h2v4h-2zM314 50h2v6h-2zM314 58h2v4h-2zM314 72h2v6h-2zM314 80h2v2h-2zM314 86h2v4h-2zM316 58h2v8h-2zM316 68h2v4h-2zM316 78h2v2h-2zM318 68h2v4h-2zM318 74h2v4h-2zM320 44h2v4h-2zM320 66h2v4h-2zM322 64h2v10h-2zM324 52h2v6h-2zM324 70h2v2h-2zM326 46h2v2h-2zM326 80h2v4h-2zM328 48h2v2h-2zM328 52h2v2h-2zM330 54h2v2h-2zM332 66h2v4h-2zM332 78h2v4h-2zM334 52h2v4h-2zM336 66h2v6h-2zM338 54h2v2h-2zM338 60h2v4h-2zM338 70h2v2h-2zM338 90h2v6h-2zM338 98h2v2h-2zM340 60h2v6h-2zM340 84h2v2h-2zM342 64h2v2h-2zM342 72h2v4h-2zM346 54h2v4h-2zM348 62h2v10h-2zM352 58h2v2h-2zM352 68h2v2h-2zM352 90h2v2h-2zM352 94h2v2h-2zM354 66h2v2h-2zM354 72h2v2h-2zM358 48h2v8h-2zM358 58h2v4h-2zM360 56h2v4h-2zM362 66h2v2h-2zM362 72h2v4h-2zM362 78h2v4h-2zM364 52h2v6h-2zM364 72h2v2h-2zM364 76h2v2h-2zM364 84h2v4h-2zM364 90h2v4h-2zM366 54h2v6h-2zM366 64h2v2h-2zM368 62h2v4h-2zM368 72h2v6h-2zM370 70h2v8h-2zM372 60h2v2h-2zM372 66h2v2h-2zM372 70h2v12h-2zM374 66h2v4h-2zM374 76h2v2h-2zM376 42h2v4h-2zM376 48h2v12h-2zM378 60h2v4h-2zM380 60h2v6h-2zM380 80h2v2h-2zM382 60h2v4h-2zM382 66h2v8h-2zM384 56h2v4h-2zM384 78h2v4h-2zM384 90h2v6h-2zM386 58h2v4h-2zM386 64h2v2h-2zM386 72h2v2h-2zM386 76h2v2h-2zM388 60h2v2h-2zM388 64h2v2h-2zM390 44h2v4h-2zM390 56h2v2h-2zM390 78h2v2h-2z" fill="#34bcb4"/>
<path d="M0 54h2v2h-2zM0 76h2v8h-2zM0 92h2v2h-2zM2 46h2v2h-2zM2 50h2v4h-2zM2 56h2v2h-2zM2 64h2v4h-2zM2 72h2v6h-2zM4 42h2v2h-2zM4 48h2v4h-2zM4 54h2v4h-2zM4 60h2v6h-2zM4 68h2v4h-2zM10 60h2v6h-2zM10 70h2v2h-2zM10 80h2v2h-2zM18 50h2v4h-2zM18 60h2v4h-2zM20 48h2v6h-2zM26 48h2v6h-2zM36 56h2v2h-2zM40 66h2v2h-2zM42 58h2v2h-2zM44 60h2v2h-2zM46 54h2v10h-2zM48 58h2v2h-2zM48 72h2v2h-2zM50 56h2v4h-2zM50 74h2v4h-2zM52 60h2v6h-2zM52 80h2v2h-2zM54 56h2v2h-2zM62 48h2v2h-2zM62 54h2v4h-2zM64 66h2v4h-2zM66 30h2v10h-2zM66 42h2v4h-2zM66 60h2v4h-2zM68 48h2v4h-2zM68 68h2v2h-2zM68 82h2v2h-2zM70 44h2v2h-2zM70 60h2v4h-2zM72 48h2v2h-2zM74 60h2v6h-2zM76 62h2v2h-2zM76 66h2v2h-2zM76 90h2v2h-2zM76 94h2v2h-2zM82 68h2v2h-2zM82 72h2v2h-2zM84 48h2v2h-2zM84 52h2v2h-2zM84 62h2v2h-2zM90 70h2v2h-2zM90 84h2v4h-2zM92 62h2v4h-2zM94 56h2v6h-2zM94 66h2v6h-2zM94 74h2v4h-2zM98 50h2v4h-2zM102 50h2v4h-2zM102 60h2v4h-2zM104 58h2v2h-2zM106 68h2v2h-2zM106 72h2v4h-2zM108 60h2v2h-2zM108 68h2v4h-2zM108 80h2v4h-2zM112 54h2v2h-2zM112 58h2v2h-2zM114 70h2v2h-2zM114 74h2v4h-2zM114 82h2v2h-2zM116 68h2v6h-2zM116 86h2v4h-2zM120 50h2v2h-2zM120 54h2v8h-2zM126 70h2v4h-2zM128 80h2v4h-2zM128 94h2v2h-2zM128 116h2v4h-2zM130 52h2v4h-2zM130 70h2v2h-2zM130 78h2v2h-2zM132 42h2v2h-2zM136 52h2v2h-2zM138 50h2v4h-2zM138 66h2v6h-2zM138 74h2v2h-2zM140 48h2v6h-2zM142 46h2v8h-2zM142 56h2v2h-2zM142 60h2v4h-2zM144 64h2v2h-2zM144 72h2v2h-2zM146 66h2v4h-2zM146 72h2v2h-2zM146 76h2v4h-2zM146 82h2v2h-2zM148 56h2v2h-2zM150 60h2v2h-2zM152 60h2v4h-2zM152 68h2v4h-2zM154 56h2v4h-2zM154 72h2v2h-2zM154 76h2v2h-2zM154 86h2v4h-2zM156 64h2v2h-2zM158 54h2v6h-2zM162 52h2v2h-2zM162 56h2v2h-2zM166 60h2v6h-2zM166 68h2v4h-2zM172 60h2v4h-2zM174 54h2v2h-2zM176 54h2v4h-2zM178 56h2v2h-2zM182 74h2v2h-2zM184 56h2v2h-2zM184 66h2v6h-2zM184 82h2v2h-2zM186 58h2v2h-2zM186 66h2v2h-2zM190 60h2v6h-2zM190 80h2v2h-2zM190 84h2v2h-2zM192 60h2v2h-2zM194 62h2v2h-2zM194 74h2v4h-2zM196 56h2v4h-2zM196 70h2v2h-2zM204 36h2v6h-2zM206 50h2v2h-2zM206 60h2v2h-2zM206 78h2v2h-2zM208 54h2v4h-2zM212 54h2v4h-2zM212 62h2v6h-2zM212 70h2v2h-2zM214 60h2v4h-2zM220 48h2v2h-2zM220 52h2v2h-2zM222 60h2v4h-2zM224 66h2v2h-2zM224 70h2v2h-2zM226 72h2v2h-2zM226 76h2v2h-2zM228 60h2v6h-2zM228 72h2v6h-2zM230 58h2v2h-2zM230 78h2v2h-2zM232 78h2v2h-2zM234 72h2v2h-2zM246 50h2v2h-2zM248 66h2v4h-2zM250 48h2v2h-2zM250 52h2v4h-2zM250 58h2v2h-2zM252 56h2v10h-2zM254 52h2v4h-2zM254 58h2v2h-2zM256 58h2v2h-2zM270 44h2v4h-2zM272 62h2v4h-2zM272 74h2v2h-2zM274 56h2v2h-2zM274 66h2v6h-2zM274 74h2v4h-2zM278 72h2v2h-2zM282 38h2v4h-2zM284 66h2v2h-2zM290 44h2v4h-2zM290 52h2v12h-2zM290 66h2v2h-2zM298 56h2v6h-2zM300 62h2v4h-2zM308 60h2v2h-2zM308 64h2v2h-2zM310 60h2v6h-2zM312 54h2v4h-2zM312 62h2v4h-2zM314 56h2v2h-2zM314 62h2v10h-2zM314 84h2v2h-2zM316 52h2v6h-2zM316 66h2v2h-2zM318 66h2v2h-2zM320 48h2v2h-2zM320 60h2v6h-2zM322 60h2v4h-2zM324 58h2v2h-2zM324 68h2v2h-2zM326 54h2v2h-2zM326 68h2v4h-2zM326 78h2v2h-2zM328 50h2v2h-2zM328 54h2v2h-2zM328 58h2v4h-2zM328 64h2v2h-2zM328 70h2v2h-2zM330 56h2v2h-2zM330 64h2v2h-2zM332 60h2v2h-2zM334 62h2v4h-2zM336 54h2v10h-2zM338 56h2v4h-2zM338 64h2v2h-2zM346 58h2v4h-2zM346 64h2v6h-2zM352 60h2v8h-2zM352 70h2v2h-2zM352 92h2v2h-2zM354 64h2v2h-2zM358 62h2v6h-2zM358 70h2v2h-2zM360 60h2v6h-2zM360 70h2v2h-2zM360 74h2v4h-2zM362 68h2v4h-2zM364 58h2v6h-2zM364 66h2v6h-2zM366 60h2v2h-2zM368 70h2v2h-2zM372 62h2v2h-2zM372 68h2v2h-2zM374 72h2v4h-2zM376 46h2v2h-2zM378 54h2v6h-2zM380 66h2v6h-2zM382 64h2v2h-2zM386 56h2v2h-2zM386 68h2v4h-2zM388 58h2v2h-2zM388 62h2v2h-2zM388 66h2v2h-2zM388 70h2v2h-2z" fill="#5cc486"/>
<path d="M0 56h2v4h-2zM4 46h2v2h-2zM4 52h2v2h-2zM4 66h2v2h-2zM26 54h2v6h-2zM28 60h2v6h-2zM42 54h2v2h-2zM48 60h2v6h-2zM50 60h2v6h-2zM50 72h2v2h-2zM52 78h2v2h-2zM62 60h2v6h-2zM64 42h2v2h-2zM64 60h2v6h-2zM66 40h2v2h-2zM68 52h2v2h-2zM68 78h2v4h-2zM70 46h2v2h-2zM70 54h2v2h-2zM74 76h2v2h-2zM82 62h2v2h-2zM82 78h2v4h-2zM84 54h2v4h-2zM84 60h2v2h-2zM84 64h2v2h-2zM92 60h2v2h-2zM92 66h2v4h-2zM96 58h2v2h-2zM96 62h2v2h-2zM102 56h2v4h-2zM108 62h2v4h-2zM108 78h2v2h-2zM112 56h2v2h-2zM116 74h2v2h-2zM116 84h2v2h-2zM118 56h2v4h-2zM128 72h2v2h-2zM128 78h2v2h-2zM128 90h2v2h-2zM128 114h2v2h-2zM130 50h2v2h-2zM130 56h2v2h-2zM130 66h2v4h-2zM138 72h2v2h-2zM144 74h2v4h-2zM146 62h2v4h-2zM146 70h2v2h-2zM146 74h2v2h-2zM146 80h2v2h-2zM154 84h2v2h-2zM162 54h2v2h-2zM162 58h2v2h-2zM168 60h2v2h-2zM168 64h2v4h-2zM174 56h2v2h-2zM174 60h2v2h-2zM178 58h2v2h-2zM182 60h2v2h-2zM184 58h2v4h-2zM184 64h2v2h-2zM184 74h2v2h-2zM184 80h2v2h-2zM192 62h2v4h-2zM192 72h2v4h-2zM194 60h2v2h-2zM194 64h2v2h-2zM204 48h2v6h-2zM206 62h2v2h-2zM208 58h2v2h-2zM208 62h2v2h-2zM212 60h2v2h-2zM212 68h2v2h-2zM214 64h2v2h-2zM214 72h2v6h-2zM218 54h2v4h-2zM218 68h2v2h-2zM220 50h2v2h-2zM224 68h2v2h-2zM226 74h2v2h-2zM244 40h2v2h-2zM246 52h2v2h-2zM250 56h2v2h-2zM254 42h2v2h-2zM254 48h2v4h-2zM254 56h2v2h-2zM254 60h2v6h-2zM272 72h2v2h-2zM274 58h2v2h-2zM274 72h2v2h-2zM302 60h2v6h-2zM320 50h2v2h-2zM326 56h2v4h-2zM326 66h2v2h-2zM328 56h2v2h-2zM328 62h2v2h-2zM330 58h2v6h-2zM332 62h2v4h-2zM332 76h2v2h-2zM334 60h2v2h-2zM336 64h2v2h-2zM338 72h2v2h-2zM346 62h2v2h-2zM346 70h2v2h-2zM348 56h2v4h-2zM354 60h2v4h-2zM358 68h2v2h-2zM360 68h2v2h-2zM360 72h2v2h-2zM364 64h2v2h-2zM368 66h2v4h-2zM372 64h2v2h-2zM380 72h2v6h-2zM386 66h2v2h-2zM388 56h2v2h-2zM388 68h2v2h-2z" fill="#94cc52"/>
<path d="M4 44h2v2h-2zM8 68h2v4h-2zM36 54h2v2h-2zM40 58h2v2h-2zM40 62h2v4h-2zM42 56h2v2h-2zM50 66h2v4h-2zM52 66h2v2h-2zM64 44h2v2h-2zM70 58h2v2h-2zM74 72h2v4h-2zM82 60h2v2h-2zM82 82h2v2h-2zM84 58h2v2h-2zM92 70h2v2h-2zM94 72h2v2h-2zM96 54h2v4h-2zM96 60h2v2h-2zM96 64h2v2h-2zM102 54h2v2h-2zM116 76h2v2h-2zM118 54h2v2h-2zM128 74h2v2h-2zM146 60h2v2h-2zM168 62h2v2h-2zM178 54h2v2h-2zM182 62h2v4h-2zM184 62h2v2h-2zM184 78h2v2h-2zM208 60h2v2h-2zM208 64h2v2h-2zM214 70h2v2h-2zM218 58h2v2h-2zM218 66h2v2h-2zM218 70h2v2h-2zM228 54h2v2h-2zM228 58h2v2h-2zM254 44h2v4h-2zM308 52h2v2h-2zM320 52h2v2h-2zM324 66h2v2h-2zM328 66h2v4h-2zM332 74h2v2h-2zM338 74h2v2h-2zM360 66h2v2h-2z" fill="#c8d23c"/>
<path d="M8 66h2v2h-2zM40 56h2v2h-2zM40 60h2v2h-2zM50 70h2v2h-2zM52 68h2v4h-2zM62 50h2v4h-2zM64 46h2v2h-2zM70 56h2v2h-2zM82 64h2v2h-2zM118 48h2v6h-2zM128 66h2v6h-2zM128 76h2v2h-2zM182 66h2v6h-2zM212 50h2v4h-2zM214 66h2v4h-2zM228 56h2v2h-2zM332 72h2v2h-2zM338 76h2v2h-2z" fill="#ecd03a"/>
</g>
<g filter="url(#soft)">
<path d="M55.5,81.9 L55.8,86.5 L55.8,90.3 L56.1,96.0 L55.7,99.5 L57.2,104.9 L56.4,109.9 L56.1,115.8" fill="none" stroke="#b9b4e6" stroke-width="0.9" stroke-opacity="0.5"/>
<path d="M371.8,95.7 L371.3,99.7 L369.9,105.0 L371.1,110.7" fill="none" stroke="#b9b4e6" stroke-width="0.9" stroke-opacity="0.5"/>
<path d="M314.0,94.4 L313.6,98.6 L313.8,102.0 L314.4,105.9 L314.9,111.8" fill="none" stroke="#b9b4e6" stroke-width="0.9" stroke-opacity="0.5"/>
<path d="M176.0,66.5 L175.9,72.2 L174.9,76.1 L176.3,79.5" fill="none" stroke="#b9b4e6" stroke-width="0.9" stroke-opacity="0.5"/>
<path d="M185.9,95.7 L186.0,100.9 L186.1,105.1 L187.4,109.6 L186.9,115.0 L187.3,120.9 L189.1,126.9 L188.7,131.0" fill="none" stroke="#b9b4e6" stroke-width="0.9" stroke-opacity="0.5"/>
<path d="M178.5,80.0 L179.1,84.4 L180.4,87.4 L181.1,92.9 L182.7,97.3 L183.0,100.6 L184.5,106.6 L184.0,111.8" fill="none" stroke="#b9b4e6" stroke-width="0.9" stroke-opacity="0.5"/>
<path d="M84.1,83.1 L85.2,88.9 L86.4,93.0 L86.2,96.2 L86.0,100.4 L86.6,104.0 L87.1,109.4 L88.8,112.5 L89.5,116.4" fill="none" stroke="#b9b4e6" stroke-width="0.9" stroke-opacity="0.5"/>
<path d="M40.0,87.8 L38.6,91.4 L37.7,94.4 L39.1,99.8 L38.3,102.8" fill="none" stroke="#b9b4e6" stroke-width="0.9" stroke-opacity="0.5"/>
<path d="M306.7,76.9 L308.4,82.2 L308.9,87.9 L308.4,92.7 L307.0,98.1 L308.8,101.7 L310.4,106.7 L309.2,111.9 L310.1,117.3" fill="none" stroke="#b9b4e6" stroke-width="0.9" stroke-opacity="0.5"/>
<path d="M185.7,63.4 L185.8,66.7 L187.3,69.8 L186.8,74.1 L188.0,79.1 L186.6,83.8 L185.4,87.2" fill="none" stroke="#b9b4e6" stroke-width="0.9" stroke-opacity="0.5"/>
<path d="M28.7,90.8 L29.1,94.7 L30.2,99.9 L29.4,104.9 L29.0,109.9 L28.7,114.9 L30.0,118.3 L29.0,123.0 L28.8,126.6 L29.2,130.3 L30.2,134.5 L29.7,137.7" fill="none" stroke="#b9b4e6" stroke-width="0.9" stroke-opacity="0.5"/>
<path d="M236.4,74.7 L234.9,80.6 L234.6,84.1 L235.5,88.5 L234.5,91.8 L234.2,97.6 L235.2,103.0 L235.0,108.8" fill="none" stroke="#b9b4e6" stroke-width="0.9" stroke-opacity="0.5"/>
<path d="M249.0,95.6 L247.7,100.5 L247.1,104.3" fill="none" stroke="#b9b4e6" stroke-width="0.9" stroke-opacity="0.5"/>
<path d="M178.8,92.2 L179.5,95.4 L178.6,98.5 L180.2,102.0 L181.9,107.0 L183.1,110.0 L181.7,115.9 L180.4,119.6" fill="none" stroke="#b9b4e6" stroke-width="0.9" stroke-opacity="0.5"/>
<path d="M364.0,72.7 L364.4,78.4 L363.8,83.8 L363.2,86.9 L364.6,92.1 L365.4,95.4 L364.3,99.3" fill="none" stroke="#b9b4e6" stroke-width="0.9" stroke-opacity="0.5"/>
<path d="M236.7,88.7 L235.6,93.3 L237.3,97.4 L237.7,100.8 L238.2,105.0 L237.5,108.3 L238.5,112.9 L238.3,117.8 L237.8,121.3 L237.4,125.4" fill="none" stroke="#b9b4e6" stroke-width="0.9" stroke-opacity="0.5"/>
<path d="M95.6,64.0 L95.9,67.1 L96.1,72.0 L95.6,75.1 L94.2,79.2 L93.1,82.8 L92.2,88.6" fill="none" stroke="#b9b4e6" stroke-width="0.9" stroke-opacity="0.5"/>
<path d="M12.9,63.0 L12.6,66.3 L11.3,71.1 L10.1,76.7 L8.9,82.5 L10.0,86.0 L11.2,89.4 L10.9,93.3" fill="none" stroke="#b9b4e6" stroke-width="0.9" stroke-opacity="0.5"/>
<path d="M247.4,89.4 L247.8,92.6 L246.6,97.4 L247.6,101.9 L246.3,106.6 L245.9,111.4 L247.6,114.5 L246.0,120.3 L245.7,124.7 L245.7,127.8 L246.5,131.0 L246.7,134.3" fill="none" stroke="#b9b4e6" stroke-width="0.9" stroke-opacity="0.5"/>
<path d="M41.4,72.4 L42.5,77.7 L42.4,82.6 L43.8,88.1 L45.5,93.3 L46.2,97.4" fill="none" stroke="#b9b4e6" stroke-width="0.9" stroke-opacity="0.5"/>
<path d="M211.3,92.4 L210.7,95.9 L210.8,99.6 L211.5,103.7 L211.6,108.4 L213.0,112.5 L214.6,117.9 L215.7,123.3 L215.6,127.2" fill="none" stroke="#b9b4e6" stroke-width="0.9" stroke-opacity="0.5"/>
<path d="M109.5,86.0 L108.0,90.0 L109.3,95.0 L111.0,100.7 L111.4,105.9 L110.7,110.0 L111.3,115.7 L112.3,121.3" fill="none" stroke="#b9b4e6" stroke-width="0.9" stroke-opacity="0.5"/>
<path d="M53.8,70.5 L54.9,75.7 L53.8,79.7 L54.1,82.8" fill="none" stroke="#b9b4e6" stroke-width="0.9" stroke-opacity="0.5"/>
<path d="M305.4,66.9 L303.9,71.1 L303.8,74.7 L304.1,78.0 L302.6,82.8 L301.4,86.6 L303.2,90.4 L304.4,94.0 L304.6,99.3 L305.6,105.1" fill="none" stroke="#b9b4e6" stroke-width="0.9" stroke-opacity="0.5"/>
<path d="M336.0,75.9 L336.6,80.3 L338.2,84.8 L338.2,89.9 L339.9,92.9 L339.1,98.9" fill="none" stroke="#b9b4e6" stroke-width="0.9" stroke-opacity="0.5"/>
<path d="M183.8,85.9 L182.3,91.7 L180.9,94.8 L179.7,98.4 L178.6,102.4 L178.0,107.1 L178.9,110.1 L178.2,115.0 L179.7,119.3" fill="none" stroke="#b9b4e6" stroke-width="0.9" stroke-opacity="0.5"/>
<path d="M207.8,80.5 L206.4,85.5 L206.5,89.9 L207.9,95.2 L206.9,98.6 L207.6,101.8 L208.2,105.5 L209.4,110.7 L208.3,114.1 L208.8,118.0 L208.2,121.4 L209.5,125.6" fill="none" stroke="#b9b4e6" stroke-width="0.9" stroke-opacity="0.5"/>
<path d="M180.7,69.2 L180.7,72.8 L179.1,76.3 L178.3,80.8 L177.1,85.8 L177.1,90.4 L176.5,96.1 L177.7,100.3 L176.6,103.5 L177.7,109.1 L176.4,112.4" fill="none" stroke="#b9b4e6" stroke-width="0.9" stroke-opacity="0.5"/>
<path d="M316.4,87.1 L315.9,90.1 L316.4,94.4 L317.6,97.8 L316.9,102.5 L315.6,107.8 L314.3,111.5" fill="none" stroke="#b9b4e6" stroke-width="0.9" stroke-opacity="0.5"/>
<path d="M268.1,91.4 L267.5,95.7 L266.9,99.5 L268.1,104.2 L268.1,108.1 L267.9,113.2 L267.8,116.7 L267.7,122.4" fill="none" stroke="#b9b4e6" stroke-width="0.9" stroke-opacity="0.5"/>
<path d="M327.7,77.8 L327.4,81.5 L328.6,86.7 L328.9,90.6 L327.6,93.8 L327.1,97.3 L328.5,100.3 L328.4,104.8 L328.4,109.4" fill="none" stroke="#b9b4e6" stroke-width="0.9" stroke-opacity="0.5"/>
<path d="M38.0,66.9 L36.9,70.0 L35.8,73.7 L35.1,78.2 L35.3,82.4 L34.4,87.7 L34.2,93.4 L32.8,96.8 L31.3,99.9 L32.5,104.6" fill="none" stroke="#b9b4e6" stroke-width="0.9" stroke-opacity="0.5"/>
<path d="M11.7,64.0 L13.3,69.6 L14.0,73.9 L15.1,78.7 L14.8,84.6 L14.7,90.3 L14.5,95.3 L13.8,98.8" fill="none" stroke="#b9b4e6" stroke-width="0.9" stroke-opacity="0.5"/>
<path d="M100.2,82.7 L98.7,87.3 L98.1,91.4 L99.1,97.1" fill="none" stroke="#b9b4e6" stroke-width="0.9" stroke-opacity="0.5"/>
<path d="M195.3,74.6 L197.0,79.7 L196.4,84.1 L195.6,87.7 L197.1,90.8 L196.5,96.5 L195.9,100.7 L196.0,105.1 L195.2,111.0 L196.3,116.2 L195.5,120.9" fill="none" stroke="#b9b4e6" stroke-width="0.9" stroke-opacity="0.5"/>
<path d="M253.0,74.2 L254.6,77.8 L255.7,81.4 L255.4,85.6 L255.3,89.2 L257.1,94.4 L256.5,98.5" fill="none" stroke="#b9b4e6" stroke-width="0.9" stroke-opacity="0.5"/>
<path d="M27.9,95.3 L29.1,99.3 L30.6,104.6 L31.3,109.4" fill="none" stroke="#b9b4e6" stroke-width="0.9" stroke-opacity="0.5"/>
<path d="M51.3,70.8 L51.7,76.2 L52.6,80.5 L53.8,85.5 L53.7,90.6 L53.0,96.4 L53.4,100.1 L52.1,103.9 L50.6,108.5" fill="none" stroke="#b9b4e6" stroke-width="0.9" stroke-opacity="0.5"/>
<path d="M178.1,82.6 L177.9,86.4 L178.6,91.3 L177.7,96.1 L178.1,100.1 L176.8,103.9 L178.4,108.4 L177.2,113.1 L176.8,117.9 L177.4,121.5" fill="none" stroke="#b9b4e6" stroke-width="0.9" stroke-opacity="0.5"/>
<path d="M312.1,73.1 L312.0,77.0 L313.3,82.4 L312.3,88.4 L313.5,94.1" fill="none" stroke="#b9b4e6" stroke-width="0.9" stroke-opacity="0.5"/>
<path d="M267.1,91.7 L268.7,95.2 L268.9,99.9 L268.5,103.4 L269.2,107.7 L267.9,113.3" fill="none" stroke="#b9b4e6" stroke-width="0.9" stroke-opacity="0.5"/>
<path d="M134.0,95.7 L135.7,101.6 L134.5,105.9 L133.1,109.6 L134.4,113.9 L135.7,118.2" fill="none" stroke="#b9b4e6" stroke-width="0.9" stroke-opacity="0.5"/>
<path d="M147.7,67.5 L148.2,71.0 L147.5,75.2 L145.9,80.7 L145.9,85.6 L147.2,89.9" fill="none" stroke="#b9b4e6" stroke-width="0.9" stroke-opacity="0.5"/>
<path d="M248.4,82.0 L249.3,87.2 L249.6,90.8 L248.9,96.3 L247.8,102.1 L247.3,106.8 L246.3,111.7 L245.4,115.0 L244.9,120.6 L245.8,125.6" fill="none" stroke="#b9b4e6" stroke-width="0.9" stroke-opacity="0.5"/>
<path d="M348.1,92.6 L347.0,98.1 L348.4,103.8 L349.4,107.5 L349.6,111.8" fill="none" stroke="#b9b4e6" stroke-width="0.9" stroke-opacity="0.5"/>
<path d="M244.4,66.5 L245.4,72.1 L244.6,76.0 L244.9,79.2 L244.9,84.5 L244.7,87.7 L245.8,92.2 L246.0,98.0 L245.0,103.3" fill="none" stroke="#b9b4e6" stroke-width="0.9" stroke-opacity="0.5"/>
<path d="M374.8,83.2 L373.7,86.4 L374.4,91.5 L375.9,97.4 L376.6,101.3 L376.3,106.2 L375.4,110.9 L376.8,116.7 L376.9,122.2 L377.2,127.1" fill="none" stroke="#b9b4e6" stroke-width="0.9" stroke-opacity="0.5"/>
<path d="M50.4,68.0 L50.8,73.3 L52.6,79.0 L52.3,84.4 L53.2,89.6 L55.0,93.2 L55.0,97.8 L56.5,101.1 L55.8,105.4" fill="none" stroke="#b9b4e6" stroke-width="0.9" stroke-opacity="0.5"/>
<path d="M42.8,94.5 L42.2,97.5 L40.7,101.5 L39.3,107.4" fill="none" stroke="#b9b4e6" stroke-width="0.9" stroke-opacity="0.5"/>
<path d="M13.5,81.2 L13.4,86.1 L12.3,89.8 L12.2,93.8 L12.8,99.0 L12.2,102.0 L10.9,106.2" fill="none" stroke="#b9b4e6" stroke-width="0.9" stroke-opacity="0.5"/>
<path d="M292.3,94.7 L291.5,99.8 L293.3,104.9" fill="none" stroke="#b9b4e6" stroke-width="0.9" stroke-opacity="0.5"/>
<path d="M163.2,86.4 L164.7,90.1 L166.3,94.3 L166.2,99.6 L166.2,102.6 L166.6,108.6 L165.6,112.2 L165.9,116.4 L166.9,122.2" fill="none" stroke="#b9b4e6" stroke-width="0.9" stroke-opacity="0.5"/>
<path d="M333.9,84.5 L335.2,88.9 L333.7,93.4 L333.2,97.3 L335.0,102.2 L336.1,107.0 L336.9,110.5" fill="none" stroke="#b9b4e6" stroke-width="0.9" stroke-opacity="0.5"/>
<path d="M228.9,68.7 L227.4,72.5 L226.6,76.7 L225.7,81.1 L226.7,85.3 L227.5,91.3" fill="none" stroke="#b9b4e6" stroke-width="0.9" stroke-opacity="0.5"/>
<path d="M219.4,73.0 L219.2,79.0 L219.9,82.7 L219.1,86.6" fill="none" stroke="#b9b4e6" stroke-width="0.9" stroke-opacity="0.5"/>
<path d="M270.9,71.9 L270.5,75.5 L268.9,80.9 L270.0,86.2 L270.9,89.3 L271.6,94.2 L270.1,97.3 L271.2,101.2 L269.9,105.2 L269.5,109.8 L271.1,113.4" fill="none" stroke="#b9b4e6" stroke-width="0.9" stroke-opacity="0.5"/>
<path d="M33.4,63.2 L32.1,67.9 L33.3,72.4 L34.6,78.3 L33.1,83.3 L33.8,88.2" fill="none" stroke="#b9b4e6" stroke-width="0.9" stroke-opacity="0.5"/>
<path d="M124.5,95.4 L125.1,100.3 L124.5,103.4 L125.6,108.1 L124.4,112.8 L122.8,117.9 L122.3,123.1 L120.8,127.2" fill="none" stroke="#b9b4e6" stroke-width="0.9" stroke-opacity="0.5"/>
<path d="M264.9,69.0 L264.4,73.6 L264.8,76.8 L266.3,80.7 L266.6,85.0 L266.7,88.8" fill="none" stroke="#b9b4e6" stroke-width="0.9" stroke-opacity="0.5"/>
<path d="M267.3,64.6 L267.4,68.7 L265.9,74.2 L264.6,79.2 L263.8,82.5 L264.5,87.3 L265.2,92.7 L267.0,96.2 L265.9,99.3 L265.4,105.0" fill="none" stroke="#b9b4e6" stroke-width="0.9" stroke-opacity="0.5"/>
<path d="M354.0,89.0 L352.7,92.2 L353.9,97.2 L355.6,102.8 L354.5,106.5 L356.2,112.0 L357.1,117.3" fill="none" stroke="#b9b4e6" stroke-width="0.9" stroke-opacity="0.5"/>
<path d="M121.0,69.9 L121.7,74.6 L120.6,80.0" fill="none" stroke="#b9b4e6" stroke-width="0.9" stroke-opacity="0.5"/>
<path d="M133.8,65.9 L132.2,71.5 L133.5,74.9 L135.2,79.2" fill="none" stroke="#b9b4e6" stroke-width="0.9" stroke-opacity="0.5"/>
<path d="M221.5,80.9 L222.0,84.3 L223.8,89.4 L224.1,94.0 L223.2,98.7 L223.0,101.8 L223.8,106.4" fill="none" stroke="#b9b4e6" stroke-width="0.9" stroke-opacity="0.5"/>
<path d="M85.5,101.6 L85.3,105.8 L85.7,110.7" fill="none" stroke="#c4d048" stroke-width="1.1" stroke-opacity="0.6"/>
<path d="M70.8,94.6 L71.9,99.5 L73.5,103.6 L71.9,107.0" fill="none" stroke="#c4d048" stroke-width="1.1" stroke-opacity="0.6"/>
<path d="M140.6,101.9 L140.5,105.5" fill="none" stroke="#c4d048" stroke-width="1.1" stroke-opacity="0.6"/>
<path d="M96.8,78.8 L95.3,83.4 L96.0,87.6 L97.6,91.2" fill="none" stroke="#c4d048" stroke-width="1.1" stroke-opacity="0.6"/>
<path d="M358.3,108.7 L358.2,114.4" fill="none" stroke="#c4d048" stroke-width="1.1" stroke-opacity="0.6"/>
<path d="M374.2,105.7 L373.1,109.1 L371.9,114.5" fill="none" stroke="#c4d048" stroke-width="1.1" stroke-opacity="0.6"/>
<path d="M291.4,98.8 L292.0,103.3 L290.5,107.8" fill="none" stroke="#c4d048" stroke-width="1.1" stroke-opacity="0.6"/>
<path d="M102.6,81.8 L101.9,85.8 L102.0,91.2 L101.1,96.1" fill="none" stroke="#c4d048" stroke-width="1.1" stroke-opacity="0.6"/>
<path d="M164.6,85.3 L165.2,90.7 L164.6,95.7" fill="none" stroke="#c4d048" stroke-width="1.1" stroke-opacity="0.6"/>
<path d="M261.0,80.0 L261.2,85.5 L260.8,89.3" fill="none" stroke="#c4d048" stroke-width="1.1" stroke-opacity="0.6"/>
<path d="M287.4,105.3 L286.2,109.6 L287.3,114.3 L285.8,117.6 L284.8,121.8" fill="none" stroke="#c4d048" stroke-width="1.1" stroke-opacity="0.6"/>
<path d="M245.9,86.7 L246.2,92.5 L246.0,98.0 L247.2,101.5" fill="none" stroke="#c4d048" stroke-width="1.1" stroke-opacity="0.6"/>
<path d="M370.2,98.4 L369.5,104.1 L371.0,109.0" fill="none" stroke="#c4d048" stroke-width="1.1" stroke-opacity="0.6"/>
<path d="M116.9,98.8 L118.0,101.9" fill="none" stroke="#c4d048" stroke-width="1.1" stroke-opacity="0.6"/>
<path d="M14.0,95.6 L14.2,100.5" fill="none" stroke="#c4d048" stroke-width="1.1" stroke-opacity="0.6"/>
<path d="M253.7,98.1 L254.6,101.9 L255.8,105.7 L256.4,111.0" fill="none" stroke="#c4d048" stroke-width="1.1" stroke-opacity="0.6"/>
<path d="M144.1,90.7 L144.5,94.2 L146.1,97.3 L146.7,101.0" fill="none" stroke="#c4d048" stroke-width="1.1" stroke-opacity="0.6"/>
<path d="M194.2,76.5 L195.7,80.4 L197.3,86.1 L196.0,91.1" fill="none" stroke="#c4d048" stroke-width="1.1" stroke-opacity="0.6"/>
</g>
</g></g>
<rect x="1049.2" y="62.9" width="24.6" height="147.7" fill="url(#cb1)" stroke="#3a3a20" stroke-opacity="0.28" stroke-width="0.9"/>
<text x="1078.4" y="82.1" font-size="14.4" fill="#5a5a5a" textLength="22.0" lengthAdjust="spacingAndGlyphs">0.8</text>
<text x="1078.4" y="107.4" font-size="14.4" fill="#5a5a5a" textLength="22.0" lengthAdjust="spacingAndGlyphs">0.6</text>
<text x="1078.4" y="133.1" font-size="14.4" fill="#5a5a5a" textLength="22.0" lengthAdjust="spacingAndGlyphs">0.4</text>
<text x="1078.4" y="158.5" font-size="14.4" fill="#5a5a5a" textLength="22.0" lengthAdjust="spacingAndGlyphs">0.2</text>
<text x="1078.4" y="183.9" font-size="14.4" fill="#5a5a5a" textLength="8.8" lengthAdjust="spacingAndGlyphs">0</text>
<text x="1078.4" y="209.7" font-size="14.4" fill="#5a5a5a" textLength="27.3" lengthAdjust="spacingAndGlyphs">-0.2</text>
<text x="1036" y="48.3" font-size="24.5" fill="#111" textLength="61" lengthAdjust="spacingAndGlyphs">&lt;s&#8217;<tspan dy="-7.5" font-size="17.5">2</tspan><tspan dy="7.5">&gt;</tspan></text>
<text x="628.8000000000001" y="98.2" font-size="15.6" fill="#5a5a5a" text-anchor="end" textLength="19.4" lengthAdjust="spacingAndGlyphs">80</text>
<text x="628.8000000000001" y="127.8" font-size="15.6" fill="#5a5a5a" text-anchor="end" textLength="19.4" lengthAdjust="spacingAndGlyphs">60</text>
<text x="628.8000000000001" y="157.3" font-size="15.6" fill="#5a5a5a" text-anchor="end" textLength="19.4" lengthAdjust="spacingAndGlyphs">40</text>
<text x="628.8000000000001" y="186.9" font-size="15.6" fill="#5a5a5a" text-anchor="end" textLength="19.4" lengthAdjust="spacingAndGlyphs">20</text>
<text x="634.5" y="230.6" font-size="15.6" fill="#5a5a5a" text-anchor="middle" textLength="28.2" lengthAdjust="spacingAndGlyphs">100</text>
<text x="765.2" y="230.6" font-size="15.6" fill="#5a5a5a" text-anchor="middle" textLength="28.2" lengthAdjust="spacingAndGlyphs">150</text>
<text x="896.0" y="230.6" font-size="15.6" fill="#5a5a5a" text-anchor="middle" textLength="28.2" lengthAdjust="spacingAndGlyphs">200</text>
<text x="1026.7" y="230.6" font-size="15.6" fill="#5a5a5a" text-anchor="middle" textLength="28.2" lengthAdjust="spacingAndGlyphs">250</text>
<text x='798.6' y='250.9' font-size='20' fill='#666' font-family='"Liberation Serif", serif' textLength='62' lengthAdjust='spacingAndGlyphs'><tspan font-style='italic'>t</tspan> (min)</text>
<text x='599.3' y='159.8' font-size='19' fill='#6a6a6a' font-family='"Liberation Serif", serif' textLength='46' lengthAdjust='spacingAndGlyphs' transform='rotate(-90 599.3 159.8)'><tspan font-style='italic'>z</tspan> (m)</text>
<rect x="669.8" y="54.9" width="3.2" height="1.2" fill="#555"/>
<clipPath id="clip2"><rect x="529.4" y="269.5" width="396.6" height="149.0"/></clipPath>
<linearGradient id="bg2" x1="0" y1="0" x2="0" y2="1">
<stop offset="0%" stop-color="#3f72c6"/>
<stop offset="15%" stop-color="#446cc2"/>
<stop offset="45%" stop-color="#4470c6"/>
<stop offset="100%" stop-color="#4275ca"/>
</linearGradient>
<rect x="529.4" y="269.5" width="396.6" height="149.0" fill="url(#bg2)"/>
<g clip-path="url(#clip2)"><g transform="translate(529 270)">
<rect x="-8" y="-6" width="413" height="30" fill="#3d58ae" fill-opacity="0.38" filter="url(#soft3)"/>
<g filter="url(#soft2)">
<path d="M38.4,66.0 Q40.0,74.0 37.9,81.5 Q35.8,89.1 30.0,92.6 Q24.2,96.1 18.3,95.2 Q12.4,94.3 8.5,89.8 Q4.6,85.4 1.8,79.7 Q-1.0,74.0 0.8,67.4 Q2.5,60.9 7.7,58.2 Q12.9,55.6 18.0,55.6 Q23.1,55.6 30.0,56.8 Q36.9,58.0 38.4,66.0Z" fill="#3a94e2" fill-opacity="0.68"/>
<path d="M71.2,57.4 Q74.9,60.0 71.7,62.8 Q68.5,65.6 64.2,67.7 Q60.0,69.8 53.4,70.7 Q46.8,71.7 41.3,69.4 Q35.7,67.1 33.7,63.5 Q31.7,60.0 35.2,57.0 Q38.6,54.1 43.2,52.1 Q47.9,50.0 54.2,49.7 Q60.5,49.4 64.0,52.1 Q67.5,54.8 71.2,57.4Z" fill="#3a94e2" fill-opacity="0.68"/>
<path d="M116.4,64.4 Q120.8,70.0 117.3,76.2 Q113.8,82.5 108.8,88.7 Q103.9,95.0 96.1,91.7 Q88.4,88.5 80.8,86.5 Q73.2,84.5 69.8,77.2 Q66.3,70.0 71.4,63.9 Q76.5,57.8 81.3,51.3 Q86.1,44.9 95.0,45.0 Q103.9,45.1 107.9,51.9 Q111.9,58.8 116.4,64.4Z" fill="#3a94e2" fill-opacity="0.68"/>
<path d="M159.4,66.0 Q161.6,69.0 157.1,71.3 Q152.6,73.6 148.7,75.8 Q144.8,78.0 138.1,77.9 Q131.4,77.8 126.7,75.9 Q122.1,74.0 119.7,71.5 Q117.4,69.0 117.8,65.9 Q118.2,62.8 124.9,61.7 Q131.7,60.6 137.8,60.9 Q143.9,61.1 150.5,62.1 Q157.1,63.0 159.4,66.0Z" fill="#3a94e2" fill-opacity="0.68"/>
<path d="M201.1,65.0 Q201.7,70.0 200.7,74.8 Q199.7,79.6 192.6,81.1 Q185.5,82.6 178.9,82.9 Q172.3,83.1 165.3,81.3 Q158.3,79.6 157.1,74.8 Q155.8,70.0 158.1,65.7 Q160.3,61.3 166.4,59.3 Q172.5,57.3 178.7,57.9 Q184.9,58.5 192.7,59.2 Q200.6,60.0 201.1,65.0Z" fill="#3a94e2" fill-opacity="0.68"/>
<path d="M238.7,83.6 Q238.6,100.0 239.3,117.3 Q240.0,134.7 232.6,141.1 Q225.1,147.6 217.2,152.8 Q209.3,158.0 204.2,143.9 Q199.1,129.7 194.6,114.9 Q190.0,100.0 194.0,84.3 Q198.0,68.5 204.6,61.6 Q211.2,54.7 218.7,50.2 Q226.1,45.7 232.5,56.5 Q238.8,67.2 238.7,83.6Z" fill="#3a94e2" fill-opacity="0.68"/>
<path d="M299.5,80.1 Q305.2,87.0 300.8,94.6 Q296.3,102.2 287.8,105.8 Q279.2,109.5 269.2,111.3 Q259.3,113.2 253.2,106.7 Q247.1,100.2 240.9,93.6 Q234.7,87.0 238.4,78.9 Q242.0,70.8 251.1,67.0 Q260.3,63.1 270.8,61.2 Q281.3,59.4 287.5,66.3 Q293.8,73.3 299.5,80.1Z" fill="#3a94e2" fill-opacity="0.68"/>
<path d="M349.9,75.5 Q353.5,85.0 352.5,97.0 Q351.6,108.9 343.0,113.7 Q334.5,118.4 325.5,120.5 Q316.5,122.6 309.2,115.1 Q301.9,107.5 297.4,96.2 Q292.9,85.0 295.8,72.3 Q298.8,59.6 307.6,53.4 Q316.5,47.2 326.1,46.7 Q335.8,46.2 341.0,56.1 Q346.2,66.1 349.9,75.5Z" fill="#3a94e2" fill-opacity="0.68"/>
<path d="M400.6,82.4 Q404.4,98.0 402.2,116.1 Q400.0,134.1 391.9,141.1 Q383.9,148.1 375.8,149.5 Q367.7,150.9 361.2,140.4 Q354.8,129.9 350.0,113.9 Q345.2,98.0 350.6,83.0 Q356.0,68.0 362.1,58.0 Q368.1,47.9 375.4,51.7 Q382.7,55.4 389.7,61.1 Q396.7,66.8 400.6,82.4Z" fill="#3a94e2" fill-opacity="0.68"/>
<path d="M396.7,129.8 Q410.5,134.0 406.3,139.7 Q402.0,145.4 380.0,148.9 Q358.0,152.4 333.5,150.7 Q309.0,149.0 283.9,147.3 Q258.8,145.6 261.2,139.8 Q263.6,134.0 263.0,128.5 Q262.4,123.0 286.4,121.5 Q310.4,120.0 332.0,119.3 Q353.7,118.6 368.3,122.1 Q383.0,125.6 396.7,129.8Z" fill="#3a94e2" fill-opacity="0.68"/>
<path d="M201.2,120.5 Q209.7,127.0 204.7,134.9 Q199.8,142.9 185.8,144.9 Q171.8,147.0 159.1,148.6 Q146.3,150.2 136.9,145.1 Q127.5,140.0 121.8,133.5 Q116.1,127.0 119.9,119.8 Q123.7,112.5 136.0,109.9 Q148.3,107.3 161.9,104.2 Q175.4,101.0 184.1,107.5 Q192.8,113.9 201.2,120.5Z" fill="#3a94e2" fill-opacity="0.68"/>
<path d="M114.1,115.8 Q117.0,124.0 109.3,130.3 Q101.6,136.6 91.4,140.2 Q81.1,143.8 68.4,144.8 Q55.7,145.7 43.8,142.0 Q31.9,138.3 21.7,131.2 Q11.6,124.0 17.4,115.2 Q23.2,106.3 38.6,102.9 Q54.0,99.5 68.9,99.6 Q83.9,99.7 97.6,103.7 Q111.3,107.7 114.1,115.8Z" fill="#4562ba" fill-opacity="0.6"/>
<path d="M289.6,106.5 Q295.3,111.0 290.8,116.2 Q286.4,121.4 281.7,126.3 Q276.9,131.2 269.6,129.8 Q262.2,128.3 255.9,125.5 Q249.7,122.6 246.8,116.8 Q243.8,111.0 247.1,105.4 Q250.4,99.8 255.9,95.7 Q261.4,91.6 269.0,91.5 Q276.7,91.5 280.3,96.8 Q283.9,102.0 289.6,106.5Z" fill="#4562ba" fill-opacity="0.6"/>
<path d="M326.9,110.1 Q327.2,114.0 326.3,117.5 Q325.4,121.1 322.3,123.4 Q319.1,125.8 315.0,125.8 Q310.9,125.7 308.0,123.2 Q305.1,120.7 303.4,117.4 Q301.7,114.0 302.0,109.7 Q302.4,105.4 306.0,102.0 Q309.6,98.6 314.5,100.1 Q319.4,101.5 322.9,103.8 Q326.5,106.2 326.9,110.1Z" fill="#4562ba" fill-opacity="0.6"/>
<path d="M81.4,57.2 Q81.6,64.0 81.1,70.3 Q80.5,76.6 77.7,80.9 Q74.8,85.2 70.9,85.8 Q67.0,86.4 64.8,80.8 Q62.5,75.2 60.8,69.6 Q59.1,64.0 60.9,58.5 Q62.7,53.0 64.9,47.8 Q67.2,42.5 70.6,44.8 Q74.0,47.0 77.6,48.8 Q81.2,50.5 81.4,57.2Z" fill="#4562ba" fill-opacity="0.6"/>
<path d="M351.6,66.7 Q352.0,74.0 351.4,81.0 Q350.7,88.1 347.6,91.7 Q344.4,95.2 341.1,94.3 Q337.9,93.4 335.0,90.1 Q332.1,86.9 332.0,80.5 Q332.0,74.0 332.9,68.7 Q333.7,63.4 335.6,58.1 Q337.6,52.8 341.0,53.0 Q344.4,53.3 347.7,56.3 Q351.1,59.3 351.6,66.7Z" fill="#4562ba" fill-opacity="0.6"/>
<path d="M228.3,36.8 Q228.9,40.0 229.1,43.6 Q229.2,47.2 225.1,49.3 Q220.9,51.4 215.9,51.6 Q210.9,51.9 206.4,49.8 Q201.9,47.7 200.9,43.9 Q199.8,40.0 201.3,36.4 Q202.7,32.8 206.9,30.7 Q211.1,28.6 216.1,28.3 Q221.2,28.1 224.4,30.9 Q227.6,33.7 228.3,36.8Z" fill="#4562ba" fill-opacity="0.6"/>
</g>
<g filter="url(#soft)">
<path d="M0 70h2v6h-2zM2 84h2v6h-2zM4 96h2v2h-2zM6 94h2v2h-2zM8 90h2v14h-2zM10 84h2v6h-2zM12 86h2v4h-2zM14 86h2v8h-2zM16 84h2v18h-2zM18 88h2v2h-2zM18 92h2v10h-2zM20 36h2v14h-2zM20 54h2v6h-2zM20 66h2v6h-2zM22 76h2v8h-2zM24 72h2v12h-2zM26 72h2v6h-2zM26 84h2v8h-2zM28 72h2v6h-2zM28 84h2v12h-2zM30 90h2v2h-2zM32 96h2v4h-2zM34 80h2v4h-2zM36 94h2v4h-2zM38 94h2v8h-2zM40 96h2v2h-2zM42 88h2v10h-2zM44 82h2v6h-2zM48 86h2v6h-2zM50 78h2v10h-2zM52 94h2v4h-2zM54 90h2v8h-2zM56 92h2v6h-2zM60 84h2v4h-2zM62 72h2v6h-2zM62 80h2v4h-2zM66 96h2v6h-2zM70 90h2v12h-2zM72 72h2v22h-2zM74 78h2v16h-2zM78 66h2v4h-2zM80 76h2v8h-2zM84 82h2v6h-2zM86 88h2v2h-2zM86 96h2v6h-2zM88 92h2v4h-2zM90 84h2v6h-2zM92 96h2v8h-2zM94 92h2v4h-2zM96 80h2v2h-2zM96 84h2v12h-2zM98 90h2v6h-2zM100 36h2v6h-2zM100 48h2v8h-2zM102 78h2v8h-2zM104 76h2v8h-2zM106 76h2v18h-2zM110 78h2v2h-2zM110 82h2v2h-2zM110 96h2v2h-2zM112 70h2v2h-2zM112 84h2v12h-2zM114 66h2v28h-2zM116 88h2v2h-2zM116 94h2v2h-2zM116 102h2v2h-2zM118 82h2v2h-2zM118 90h2v8h-2zM120 82h2v6h-2zM122 90h2v6h-2zM124 84h2v2h-2zM126 84h2v4h-2zM128 80h2v4h-2zM130 34h2v2h-2zM130 48h2v24h-2zM132 88h2v8h-2zM134 86h2v4h-2zM134 98h2v2h-2zM134 102h2v4h-2zM136 102h2v8h-2zM140 108h2v4h-2zM142 86h2v4h-2zM142 96h2v16h-2zM144 84h2v12h-2zM146 64h2v2h-2zM146 78h2v12h-2zM146 96h2v2h-2zM148 76h2v2h-2zM148 84h2v2h-2zM150 72h2v6h-2zM150 80h2v4h-2zM152 78h2v8h-2zM154 72h2v14h-2zM156 78h2v12h-2zM158 78h2v16h-2zM160 66h2v4h-2zM160 72h2v4h-2zM162 84h2v6h-2zM164 54h2v10h-2zM166 80h2v8h-2zM168 88h2v8h-2zM170 96h2v6h-2zM172 84h2v2h-2zM174 80h2v4h-2zM176 82h2v2h-2zM176 88h2v6h-2zM178 82h2v2h-2zM180 88h2v2h-2zM180 96h2v2h-2zM182 94h2v14h-2zM184 92h2v14h-2zM186 78h2v14h-2zM186 94h2v2h-2zM188 96h2v10h-2zM190 90h2v8h-2zM190 100h2v2h-2zM190 108h2v4h-2zM192 106h2v8h-2zM194 76h2v2h-2zM194 86h2v10h-2zM196 86h2v4h-2zM198 72h2v6h-2zM198 88h2v4h-2zM200 74h2v2h-2zM200 82h2v8h-2zM200 94h2v4h-2zM202 54h2v6h-2zM204 72h2v18h-2zM206 86h2v8h-2zM208 84h2v6h-2zM212 66h2v6h-2zM212 76h2v2h-2zM212 90h2v2h-2zM216 72h2v6h-2zM216 80h2v16h-2zM218 90h2v10h-2zM220 90h2v12h-2zM222 102h2v4h-2zM226 72h2v6h-2zM226 90h2v8h-2zM228 72h2v2h-2zM228 76h2v2h-2zM228 84h2v16h-2zM230 78h2v12h-2zM232 72h2v6h-2zM232 84h2v6h-2zM232 96h2v2h-2zM234 50h2v16h-2zM236 74h2v20h-2zM238 66h2v10h-2zM238 80h2v4h-2zM238 90h2v6h-2zM240 78h2v2h-2zM240 82h2v12h-2zM242 42h2v2h-2zM242 46h2v26h-2zM244 90h2v14h-2zM246 78h2v18h-2zM248 78h2v2h-2zM248 82h2v10h-2zM250 72h2v26h-2zM252 72h2v6h-2zM252 82h2v2h-2zM252 90h2v6h-2zM254 46h2v20h-2zM256 84h2v2h-2zM256 88h2v2h-2zM256 92h2v2h-2zM256 96h2v6h-2zM258 84h2v8h-2zM260 84h2v16h-2zM262 102h2v10h-2zM264 102h2v2h-2zM266 84h2v6h-2zM272 90h2v6h-2zM274 84h2v6h-2zM274 98h2v4h-2zM276 78h2v6h-2zM276 86h2v4h-2zM276 96h2v4h-2zM278 76h2v8h-2zM280 72h2v2h-2zM280 78h2v18h-2zM282 78h2v14h-2zM284 84h2v16h-2zM286 74h2v10h-2zM286 86h2v4h-2zM286 96h2v6h-2zM288 84h2v6h-2zM288 96h2v6h-2zM290 80h2v18h-2zM292 68h2v26h-2zM294 96h2v2h-2zM296 86h2v4h-2zM298 90h2v10h-2zM300 82h2v2h-2zM300 90h2v2h-2zM302 86h2v6h-2zM304 96h2v8h-2zM306 92h2v2h-2zM306 96h2v6h-2zM308 28h2v2h-2zM308 40h2v40h-2zM308 82h2v6h-2zM308 96h2v4h-2zM310 108h2v4h-2zM312 86h2v2h-2zM312 90h2v6h-2zM314 96h2v4h-2zM316 82h2v2h-2zM316 86h2v6h-2zM318 74h2v14h-2zM320 82h2v10h-2zM322 74h2v4h-2zM324 66h2v4h-2zM326 68h2v6h-2zM328 30h2v18h-2zM328 54h2v18h-2zM330 84h2v4h-2zM332 80h2v6h-2zM334 78h2v4h-2zM338 82h2v2h-2zM338 86h2v2h-2zM340 86h2v10h-2zM342 100h2v2h-2zM344 86h2v4h-2zM344 102h2v8h-2zM346 90h2v8h-2zM348 82h2v4h-2zM354 78h2v8h-2zM356 84h2v4h-2zM358 78h2v10h-2zM360 76h2v12h-2zM362 50h2v12h-2zM364 94h2v2h-2zM366 86h2v6h-2zM368 76h2v8h-2zM368 90h2v6h-2zM370 78h2v6h-2zM370 90h2v2h-2zM372 94h2v8h-2zM374 82h2v2h-2zM376 82h2v2h-2zM376 86h2v12h-2zM378 84h2v6h-2zM380 76h2v2h-2zM380 90h2v2h-2zM382 78h2v2h-2zM382 82h2v8h-2zM384 76h2v2h-2zM384 84h2v6h-2zM384 96h2v2h-2zM386 68h2v10h-2zM386 84h2v6h-2zM388 36h2v6h-2zM388 46h2v2h-2zM388 60h2v10h-2zM390 36h2v12h-2zM390 54h2v6h-2zM390 66h2v2h-2zM390 70h2v4h-2zM390 80h2v4h-2zM392 90h2v6h-2zM392 98h2v6h-2zM394 100h2v4h-2zM396 80h2v2h-2zM396 88h2v2h-2zM396 96h2v4h-2zM398 78h2v8h-2z" fill="#3a90dc"/>
<path d="M0 56h2v14h-2zM2 66h2v12h-2zM6 90h2v4h-2zM8 66h2v24h-2zM10 54h2v6h-2zM10 68h2v4h-2zM10 82h2v2h-2zM12 68h2v18h-2zM14 78h2v8h-2zM16 60h2v6h-2zM16 70h2v2h-2zM16 76h2v8h-2zM18 66h2v4h-2zM18 78h2v10h-2zM18 90h2v2h-2zM20 32h2v4h-2zM22 60h2v2h-2zM22 64h2v2h-2zM22 72h2v4h-2zM24 60h2v12h-2zM26 58h2v2h-2zM26 66h2v6h-2zM28 66h2v6h-2zM30 70h2v2h-2zM30 74h2v10h-2zM32 60h2v2h-2zM32 64h2v2h-2zM32 84h2v6h-2zM34 74h2v6h-2zM36 82h2v2h-2zM36 86h2v8h-2zM38 84h2v4h-2zM38 90h2v4h-2zM40 84h2v6h-2zM42 84h2v4h-2zM44 76h2v6h-2zM46 76h2v2h-2zM48 66h2v2h-2zM48 70h2v2h-2zM48 78h2v8h-2zM50 72h2v6h-2zM52 82h2v4h-2zM52 90h2v4h-2zM54 58h2v2h-2zM54 64h2v2h-2zM54 68h2v4h-2zM54 78h2v12h-2zM56 72h2v6h-2zM56 84h2v8h-2zM58 72h2v6h-2zM58 84h2v12h-2zM60 66h2v4h-2zM60 74h2v4h-2zM62 64h2v8h-2zM62 78h2v2h-2zM64 66h2v8h-2zM64 82h2v2h-2zM64 90h2v6h-2zM66 82h2v2h-2zM66 92h2v2h-2zM68 84h2v12h-2zM70 62h2v2h-2zM70 72h2v6h-2zM70 84h2v6h-2zM72 60h2v6h-2zM72 70h2v2h-2zM74 70h2v2h-2zM76 72h2v6h-2zM80 66h2v10h-2zM82 60h2v6h-2zM82 68h2v10h-2zM84 66h2v16h-2zM86 74h2v4h-2zM86 82h2v6h-2zM86 94h2v2h-2zM88 64h2v2h-2zM88 70h2v2h-2zM88 86h2v6h-2zM90 66h2v18h-2zM92 74h2v2h-2zM92 78h2v12h-2zM94 90h2v2h-2zM96 58h2v2h-2zM96 66h2v6h-2zM96 78h2v2h-2zM96 82h2v2h-2zM98 58h2v2h-2zM98 64h2v2h-2zM98 72h2v6h-2zM98 80h2v2h-2zM98 84h2v6h-2zM102 72h2v6h-2zM104 62h2v2h-2zM104 66h2v10h-2zM106 66h2v10h-2zM108 68h2v10h-2zM110 62h2v6h-2zM110 70h2v8h-2zM110 80h2v2h-2zM110 84h2v6h-2zM112 66h2v4h-2zM112 72h2v6h-2zM114 62h2v2h-2zM116 50h2v2h-2zM116 72h2v16h-2zM116 90h2v4h-2zM118 64h2v2h-2zM118 68h2v4h-2zM118 78h2v4h-2zM118 84h2v6h-2zM120 66h2v16h-2zM122 70h2v2h-2zM122 84h2v6h-2zM124 64h2v2h-2zM124 68h2v2h-2zM124 72h2v6h-2zM126 52h2v2h-2zM126 74h2v10h-2zM128 68h2v4h-2zM128 78h2v2h-2zM130 26h2v8h-2zM130 36h2v6h-2zM132 84h2v4h-2zM134 84h2v2h-2zM134 90h2v8h-2zM134 100h2v2h-2zM136 64h2v2h-2zM136 76h2v16h-2zM136 94h2v2h-2zM138 100h2v2h-2zM140 84h2v18h-2zM142 66h2v20h-2zM144 62h2v10h-2zM146 60h2v4h-2zM146 66h2v12h-2zM148 62h2v2h-2zM148 72h2v4h-2zM150 78h2v2h-2zM152 60h2v2h-2zM152 64h2v8h-2zM154 64h2v8h-2zM156 66h2v12h-2zM158 74h2v4h-2zM162 58h2v2h-2zM162 66h2v12h-2zM166 74h2v6h-2zM168 68h2v2h-2zM168 84h2v4h-2zM170 92h2v4h-2zM172 72h2v12h-2zM174 68h2v4h-2zM174 78h2v2h-2zM176 78h2v4h-2zM176 84h2v4h-2zM178 66h2v6h-2zM178 74h2v8h-2zM180 78h2v10h-2zM182 84h2v10h-2zM184 72h2v2h-2zM184 76h2v4h-2zM184 84h2v8h-2zM186 64h2v14h-2zM186 92h2v2h-2zM188 64h2v2h-2zM188 72h2v18h-2zM190 74h2v2h-2zM190 84h2v6h-2zM190 98h2v2h-2zM192 66h2v18h-2zM192 90h2v16h-2zM194 60h2v16h-2zM194 78h2v8h-2zM196 62h2v4h-2zM196 72h2v14h-2zM198 66h2v6h-2zM198 78h2v10h-2zM200 72h2v2h-2zM200 76h2v6h-2zM200 90h2v4h-2zM204 66h2v6h-2zM206 62h2v4h-2zM206 72h2v14h-2zM208 60h2v2h-2zM208 68h2v2h-2zM208 72h2v2h-2zM208 76h2v2h-2zM208 82h2v2h-2zM212 64h2v2h-2zM212 72h2v4h-2zM214 62h2v4h-2zM214 72h2v12h-2zM216 68h2v4h-2zM216 78h2v2h-2zM218 62h2v22h-2zM220 74h2v4h-2zM220 84h2v2h-2zM220 88h2v2h-2zM222 78h2v6h-2zM222 88h2v14h-2zM224 66h2v6h-2zM226 56h2v2h-2zM226 66h2v6h-2zM226 78h2v6h-2zM228 66h2v6h-2zM228 74h2v2h-2zM230 66h2v12h-2zM232 58h2v2h-2zM232 64h2v2h-2zM236 72h2v2h-2zM238 60h2v6h-2zM238 76h2v4h-2zM240 72h2v6h-2zM240 80h2v2h-2zM242 44h2v2h-2zM244 66h2v2h-2zM244 70h2v14h-2zM246 56h2v2h-2zM246 66h2v6h-2zM248 66h2v12h-2zM248 80h2v2h-2zM252 64h2v2h-2zM252 78h2v4h-2zM252 84h2v6h-2zM256 58h2v2h-2zM256 66h2v6h-2zM256 74h2v2h-2zM256 78h2v6h-2zM256 86h2v2h-2zM256 90h2v2h-2zM256 94h2v2h-2zM258 68h2v4h-2zM258 74h2v2h-2zM258 78h2v6h-2zM260 64h2v8h-2zM260 78h2v6h-2zM262 66h2v2h-2zM262 70h2v2h-2zM262 78h2v12h-2zM262 96h2v6h-2zM266 72h2v6h-2zM266 80h2v2h-2zM268 78h2v6h-2zM270 76h2v2h-2zM272 78h2v6h-2zM274 70h2v14h-2zM274 94h2v4h-2zM276 64h2v2h-2zM276 72h2v6h-2zM276 84h2v2h-2zM278 68h2v8h-2zM280 66h2v6h-2zM282 66h2v12h-2zM284 66h2v18h-2zM286 68h2v6h-2zM286 84h2v2h-2zM288 72h2v12h-2zM290 62h2v18h-2zM292 52h2v2h-2zM292 66h2v2h-2zM294 60h2v2h-2zM294 64h2v2h-2zM294 72h2v12h-2zM296 66h2v20h-2zM298 60h2v6h-2zM300 60h2v22h-2zM302 66h2v10h-2zM302 84h2v2h-2zM304 72h2v6h-2zM306 80h2v12h-2zM306 94h2v2h-2zM308 24h2v4h-2zM308 30h2v10h-2zM310 76h2v2h-2zM310 90h2v12h-2zM312 74h2v4h-2zM312 84h2v2h-2zM312 88h2v2h-2zM314 84h2v6h-2zM314 92h2v4h-2zM316 78h2v4h-2zM316 84h2v2h-2zM318 66h2v8h-2zM320 66h2v8h-2zM320 78h2v4h-2zM322 66h2v8h-2zM324 64h2v2h-2zM326 60h2v8h-2zM328 28h2v2h-2zM330 66h2v2h-2zM330 70h2v2h-2zM330 78h2v6h-2zM332 60h2v12h-2zM332 78h2v2h-2zM334 72h2v6h-2zM336 60h2v2h-2zM336 64h2v2h-2zM336 68h2v4h-2zM338 66h2v16h-2zM338 84h2v2h-2zM338 88h2v2h-2zM340 60h2v6h-2zM340 78h2v8h-2zM342 70h2v2h-2zM342 84h2v16h-2zM344 74h2v2h-2zM344 82h2v4h-2zM344 90h2v12h-2zM346 74h2v10h-2zM348 66h2v6h-2zM348 76h2v6h-2zM350 80h2v4h-2zM354 64h2v14h-2zM356 66h2v6h-2zM356 78h2v6h-2zM358 66h2v12h-2zM360 56h2v4h-2zM360 62h2v14h-2zM362 46h2v4h-2zM364 74h2v2h-2zM364 84h2v10h-2zM366 66h2v6h-2zM366 74h2v12h-2zM368 72h2v4h-2zM370 64h2v2h-2zM370 72h2v6h-2zM372 84h2v4h-2zM372 90h2v4h-2zM374 78h2v4h-2zM374 84h2v6h-2zM376 66h2v6h-2zM376 78h2v4h-2zM376 84h2v2h-2zM378 60h2v20h-2zM380 62h2v2h-2zM380 66h2v10h-2zM380 78h2v6h-2zM382 62h2v10h-2zM382 74h2v4h-2zM382 80h2v2h-2zM384 66h2v10h-2zM384 78h2v6h-2zM386 66h2v2h-2zM386 78h2v6h-2zM388 42h2v4h-2zM390 32h2v4h-2zM392 84h2v6h-2zM392 96h2v2h-2zM394 88h2v2h-2zM394 92h2v8h-2zM396 72h2v8h-2zM396 82h2v6h-2zM398 62h2v2h-2zM398 66h2v6h-2z" fill="#28a4e4"/>
<path d="M0 50h2v6h-2zM2 56h2v2h-2zM4 64h2v2h-2zM4 72h2v6h-2zM4 86h2v4h-2zM6 50h2v2h-2zM6 54h2v18h-2zM6 78h2v6h-2zM8 54h2v4h-2zM10 42h2v12h-2zM10 60h2v8h-2zM10 78h2v4h-2zM12 66h2v2h-2zM14 56h2v10h-2zM14 68h2v10h-2zM16 66h2v4h-2zM16 72h2v4h-2zM18 62h2v2h-2zM18 70h2v2h-2zM20 30h2v2h-2zM22 50h2v4h-2zM22 62h2v2h-2zM26 54h2v4h-2zM30 60h2v10h-2zM30 72h2v2h-2zM32 62h2v2h-2zM32 72h2v2h-2zM34 46h2v2h-2zM34 50h2v4h-2zM34 66h2v8h-2zM36 48h2v6h-2zM36 64h2v18h-2zM36 84h2v2h-2zM38 50h2v4h-2zM38 74h2v10h-2zM38 88h2v2h-2zM40 56h2v6h-2zM40 64h2v2h-2zM40 74h2v10h-2zM42 64h2v14h-2zM44 48h2v10h-2zM44 62h2v14h-2zM46 44h2v4h-2zM46 64h2v2h-2zM46 72h2v4h-2zM48 42h2v2h-2zM48 46h2v16h-2zM48 64h2v2h-2zM48 68h2v2h-2zM50 58h2v2h-2zM50 66h2v6h-2zM52 62h2v4h-2zM52 68h2v14h-2zM54 54h2v4h-2zM54 60h2v4h-2zM54 66h2v2h-2zM56 48h2v6h-2zM56 60h2v10h-2zM58 42h2v6h-2zM58 52h2v10h-2zM58 64h2v2h-2zM58 78h2v6h-2zM60 48h2v8h-2zM60 58h2v8h-2zM60 70h2v4h-2zM62 54h2v10h-2zM64 74h2v8h-2zM66 72h2v10h-2zM66 84h2v8h-2zM66 94h2v2h-2zM68 60h2v6h-2zM70 56h2v6h-2zM70 64h2v2h-2zM72 54h2v6h-2zM72 66h2v4h-2zM74 66h2v4h-2zM80 56h2v10h-2zM82 54h2v6h-2zM82 66h2v2h-2zM84 54h2v12h-2zM86 60h2v14h-2zM86 78h2v4h-2zM86 90h2v4h-2zM88 50h2v14h-2zM88 66h2v4h-2zM88 78h2v8h-2zM90 56h2v4h-2zM92 54h2v6h-2zM92 62h2v4h-2zM92 72h2v2h-2zM92 76h2v2h-2zM94 66h2v18h-2zM96 52h2v6h-2zM96 60h2v6h-2zM98 54h2v4h-2zM98 60h2v4h-2zM98 78h2v2h-2zM98 82h2v2h-2zM102 52h2v8h-2zM102 66h2v6h-2zM104 58h2v4h-2zM104 64h2v2h-2zM108 60h2v8h-2zM110 60h2v2h-2zM110 68h2v2h-2zM114 56h2v6h-2zM114 64h2v2h-2zM116 48h2v2h-2zM116 52h2v2h-2zM116 56h2v4h-2zM116 62h2v10h-2zM118 56h2v2h-2zM118 60h2v4h-2zM118 66h2v2h-2zM118 72h2v6h-2zM120 56h2v4h-2zM120 62h2v4h-2zM122 54h2v2h-2zM122 58h2v2h-2zM122 62h2v8h-2zM124 54h2v10h-2zM124 66h2v2h-2zM124 70h2v2h-2zM126 48h2v4h-2zM126 68h2v6h-2zM128 42h2v10h-2zM128 54h2v6h-2zM128 64h2v4h-2zM132 46h2v2h-2zM132 64h2v2h-2zM132 78h2v6h-2zM134 52h2v2h-2zM134 60h2v8h-2zM134 70h2v2h-2zM134 74h2v2h-2zM134 78h2v6h-2zM136 58h2v6h-2zM136 72h2v4h-2zM136 92h2v2h-2zM138 62h2v4h-2zM138 72h2v2h-2zM138 76h2v2h-2zM138 84h2v6h-2zM138 96h2v4h-2zM140 54h2v6h-2zM140 62h2v4h-2zM140 72h2v2h-2zM140 76h2v2h-2zM142 48h2v6h-2zM142 62h2v2h-2zM144 60h2v2h-2zM146 50h2v10h-2zM148 48h2v6h-2zM148 56h2v6h-2zM148 64h2v2h-2zM150 54h2v6h-2zM152 52h2v8h-2zM152 62h2v2h-2zM154 60h2v4h-2zM158 68h2v6h-2zM162 54h2v4h-2zM162 62h2v4h-2zM166 60h2v14h-2zM168 52h2v2h-2zM168 64h2v4h-2zM168 70h2v14h-2zM170 64h2v18h-2zM170 90h2v2h-2zM172 60h2v12h-2zM174 66h2v2h-2zM176 44h2v4h-2zM176 50h2v2h-2zM176 60h2v2h-2zM176 64h2v2h-2zM178 54h2v2h-2zM178 58h2v8h-2zM178 72h2v2h-2zM180 56h2v4h-2zM180 64h2v2h-2zM180 68h2v4h-2zM182 44h2v4h-2zM182 50h2v4h-2zM182 66h2v6h-2zM182 76h2v8h-2zM184 66h2v6h-2zM184 74h2v2h-2zM186 56h2v8h-2zM188 60h2v4h-2zM188 66h2v6h-2zM190 54h2v6h-2zM190 72h2v2h-2zM190 76h2v8h-2zM192 54h2v6h-2zM192 62h2v4h-2zM196 52h2v2h-2zM196 58h2v4h-2zM196 68h2v4h-2zM198 52h2v2h-2zM198 60h2v6h-2zM200 50h2v4h-2zM200 56h2v4h-2zM200 66h2v6h-2zM204 62h2v4h-2zM206 54h2v8h-2zM208 50h2v4h-2zM208 56h2v4h-2zM208 62h2v4h-2zM208 70h2v2h-2zM208 74h2v2h-2zM208 78h2v4h-2zM212 60h2v4h-2zM214 54h2v8h-2zM214 66h2v6h-2zM216 56h2v4h-2zM216 62h2v6h-2zM218 52h2v10h-2zM220 48h2v12h-2zM220 66h2v8h-2zM220 78h2v6h-2zM220 86h2v2h-2zM222 42h2v6h-2zM222 72h2v6h-2zM222 84h2v4h-2zM224 50h2v4h-2zM224 56h2v4h-2zM224 62h2v4h-2zM226 54h2v2h-2zM226 58h2v8h-2zM228 58h2v2h-2zM230 52h2v2h-2zM230 60h2v6h-2zM232 54h2v4h-2zM232 60h2v4h-2zM236 54h2v6h-2zM238 56h2v4h-2zM240 60h2v6h-2zM244 48h2v6h-2zM244 68h2v2h-2zM246 54h2v2h-2zM246 58h2v8h-2zM246 72h2v2h-2zM250 66h2v6h-2zM252 60h2v4h-2zM256 54h2v4h-2zM256 60h2v6h-2zM256 72h2v2h-2zM256 76h2v2h-2zM258 58h2v10h-2zM258 72h2v2h-2zM258 76h2v2h-2zM260 48h2v4h-2zM260 56h2v8h-2zM260 72h2v6h-2zM262 68h2v2h-2zM262 74h2v4h-2zM264 72h2v6h-2zM266 62h2v4h-2zM266 70h2v2h-2zM266 78h2v2h-2zM266 82h2v2h-2zM268 50h2v2h-2zM268 60h2v6h-2zM268 68h2v10h-2zM270 56h2v4h-2zM270 72h2v4h-2zM270 78h2v6h-2zM272 54h2v12h-2zM274 54h2v16h-2zM274 90h2v4h-2zM276 58h2v6h-2zM276 66h2v6h-2zM278 66h2v2h-2zM286 66h2v2h-2zM290 56h2v6h-2zM292 50h2v2h-2zM292 54h2v12h-2zM294 48h2v12h-2zM294 62h2v2h-2zM294 66h2v2h-2zM296 54h2v6h-2zM296 62h2v4h-2zM298 66h2v12h-2zM300 48h2v2h-2zM302 52h2v4h-2zM302 58h2v8h-2zM302 76h2v2h-2zM304 58h2v2h-2zM304 62h2v10h-2zM304 80h2v2h-2zM306 60h2v6h-2zM306 78h2v2h-2zM308 22h2v2h-2zM310 58h2v2h-2zM310 68h2v4h-2zM310 74h2v2h-2zM312 60h2v14h-2zM314 60h2v6h-2zM314 70h2v2h-2zM314 78h2v6h-2zM314 90h2v2h-2zM316 60h2v16h-2zM318 56h2v4h-2zM320 54h2v12h-2zM322 54h2v10h-2zM324 52h2v4h-2zM324 58h2v6h-2zM326 36h2v6h-2zM326 44h2v2h-2zM326 48h2v6h-2zM326 56h2v4h-2zM328 24h2v4h-2zM330 42h2v6h-2zM330 50h2v10h-2zM330 68h2v2h-2zM332 40h2v2h-2zM332 50h2v6h-2zM332 58h2v2h-2zM334 54h2v6h-2zM334 64h2v8h-2zM336 62h2v2h-2zM336 66h2v2h-2zM336 72h2v6h-2zM338 52h2v14h-2zM340 58h2v2h-2zM340 66h2v12h-2zM342 66h2v4h-2zM342 74h2v4h-2zM344 58h2v2h-2zM344 66h2v8h-2zM344 76h2v6h-2zM346 56h2v4h-2zM346 64h2v2h-2zM346 72h2v2h-2zM348 50h2v2h-2zM348 72h2v4h-2zM350 72h2v2h-2zM350 76h2v4h-2zM352 66h2v6h-2zM354 60h2v4h-2zM356 52h2v6h-2zM356 60h2v6h-2zM358 56h2v2h-2zM360 54h2v2h-2zM360 60h2v2h-2zM364 46h2v2h-2zM364 68h2v6h-2zM364 76h2v2h-2zM366 48h2v2h-2zM366 58h2v8h-2zM366 72h2v2h-2zM368 50h2v2h-2zM368 54h2v6h-2zM370 48h2v6h-2zM370 58h2v6h-2zM372 64h2v2h-2zM372 72h2v12h-2zM374 54h2v6h-2zM374 66h2v6h-2zM376 58h2v8h-2zM376 72h2v6h-2zM378 56h2v4h-2zM380 56h2v6h-2zM380 64h2v2h-2zM382 60h2v2h-2zM382 72h2v2h-2zM384 54h2v2h-2zM384 58h2v2h-2zM390 30h2v2h-2zM392 62h2v2h-2zM392 72h2v4h-2zM392 78h2v6h-2zM394 56h2v4h-2zM394 84h2v4h-2zM394 90h2v2h-2zM396 48h2v6h-2zM396 60h2v12h-2zM398 56h2v6h-2zM398 64h2v2h-2z" fill="#1eb0e6"/>
<path d="M0 46h2v4h-2zM2 48h2v8h-2zM2 58h2v2h-2zM4 52h2v12h-2zM4 66h2v6h-2zM4 84h2v2h-2zM6 46h2v4h-2zM6 52h2v2h-2zM8 48h2v6h-2zM8 58h2v8h-2zM10 38h2v4h-2zM12 44h2v8h-2zM12 60h2v6h-2zM14 54h2v2h-2zM14 66h2v2h-2zM16 58h2v2h-2zM18 46h2v2h-2zM18 50h2v4h-2zM18 56h2v6h-2zM18 64h2v2h-2zM22 48h2v2h-2zM28 52h2v2h-2zM28 58h2v2h-2zM30 46h2v2h-2zM30 58h2v2h-2zM32 50h2v2h-2zM32 54h2v6h-2zM32 74h2v4h-2zM34 42h2v4h-2zM34 48h2v2h-2zM36 54h2v10h-2zM38 48h2v2h-2zM38 54h2v6h-2zM38 62h2v4h-2zM38 72h2v2h-2zM40 46h2v10h-2zM40 62h2v2h-2zM40 72h2v2h-2zM42 42h2v12h-2zM42 60h2v4h-2zM44 58h2v4h-2zM46 32h2v2h-2zM46 42h2v2h-2zM46 60h2v4h-2zM46 66h2v2h-2zM46 78h2v6h-2zM48 44h2v2h-2zM48 62h2v2h-2zM50 46h2v12h-2zM52 36h2v6h-2zM52 48h2v14h-2zM52 66h2v2h-2zM54 38h2v4h-2zM54 46h2v2h-2zM54 50h2v2h-2zM56 36h2v6h-2zM56 70h2v2h-2zM58 36h2v6h-2zM58 48h2v4h-2zM58 62h2v2h-2zM60 56h2v2h-2zM62 48h2v6h-2zM64 38h2v4h-2zM64 46h2v2h-2zM64 60h2v6h-2zM66 38h2v10h-2zM66 52h2v2h-2zM68 54h2v6h-2zM70 48h2v2h-2zM70 54h2v2h-2zM80 54h2v2h-2zM82 48h2v2h-2zM82 52h2v2h-2zM84 48h2v6h-2zM86 36h2v6h-2zM86 44h2v4h-2zM86 50h2v10h-2zM88 46h2v4h-2zM90 46h2v10h-2zM92 46h2v2h-2zM92 50h2v4h-2zM92 60h2v2h-2zM94 40h2v2h-2zM94 46h2v6h-2zM94 56h2v4h-2zM96 48h2v4h-2zM102 50h2v2h-2zM108 48h2v12h-2zM110 54h2v6h-2zM114 54h2v2h-2zM116 54h2v2h-2zM116 60h2v2h-2zM118 46h2v2h-2zM118 54h2v2h-2zM118 58h2v2h-2zM120 32h2v4h-2zM120 46h2v10h-2zM120 60h2v2h-2zM122 46h2v2h-2zM122 52h2v2h-2zM122 56h2v2h-2zM122 60h2v2h-2zM124 50h2v4h-2zM126 66h2v2h-2zM128 52h2v2h-2zM128 60h2v4h-2zM132 34h2v2h-2zM132 42h2v4h-2zM132 60h2v4h-2zM132 72h2v6h-2zM134 36h2v6h-2zM134 44h2v2h-2zM134 48h2v4h-2zM134 54h2v6h-2zM134 68h2v2h-2zM134 72h2v2h-2zM134 76h2v2h-2zM136 46h2v2h-2zM136 54h2v4h-2zM138 60h2v2h-2zM138 74h2v2h-2zM140 46h2v2h-2zM140 50h2v2h-2zM140 60h2v2h-2zM140 74h2v2h-2zM142 54h2v8h-2zM142 64h2v2h-2zM146 48h2v2h-2zM148 54h2v2h-2zM150 44h2v4h-2zM150 50h2v2h-2zM152 48h2v4h-2zM158 66h2v2h-2zM162 60h2v2h-2zM166 46h2v2h-2zM166 54h2v2h-2zM166 58h2v2h-2zM168 48h2v4h-2zM168 60h2v4h-2zM170 50h2v2h-2zM170 54h2v2h-2zM170 58h2v6h-2zM174 48h2v18h-2zM176 42h2v2h-2zM176 48h2v2h-2zM176 52h2v4h-2zM176 62h2v2h-2zM178 56h2v2h-2zM180 54h2v2h-2zM180 60h2v4h-2zM180 66h2v2h-2zM180 72h2v6h-2zM182 42h2v2h-2zM182 48h2v2h-2zM182 54h2v12h-2zM182 72h2v4h-2zM184 52h2v6h-2zM186 52h2v4h-2zM188 50h2v2h-2zM188 58h2v2h-2zM190 60h2v12h-2zM192 44h2v2h-2zM192 48h2v6h-2zM192 60h2v2h-2zM194 48h2v12h-2zM196 54h2v4h-2zM196 66h2v2h-2zM198 48h2v4h-2zM198 54h2v6h-2zM200 48h2v2h-2zM200 54h2v2h-2zM206 48h2v6h-2zM208 46h2v4h-2zM208 54h2v2h-2zM208 66h2v2h-2zM214 46h2v8h-2zM216 60h2v2h-2zM218 48h2v4h-2zM222 50h2v10h-2zM222 66h2v6h-2zM224 44h2v6h-2zM224 54h2v2h-2zM224 60h2v2h-2zM226 52h2v2h-2zM228 50h2v4h-2zM228 56h2v2h-2zM230 50h2v2h-2zM230 54h2v6h-2zM240 58h2v2h-2zM244 60h2v6h-2zM246 52h2v2h-2zM256 44h2v10h-2zM258 46h2v2h-2zM258 50h2v8h-2zM260 52h2v4h-2zM262 46h2v2h-2zM262 58h2v8h-2zM262 72h2v2h-2zM264 48h2v6h-2zM264 66h2v6h-2zM266 54h2v2h-2zM266 60h2v2h-2zM266 66h2v4h-2zM268 48h2v2h-2zM268 52h2v8h-2zM268 66h2v2h-2zM270 44h2v4h-2zM270 50h2v2h-2zM270 54h2v2h-2zM270 60h2v10h-2zM272 38h2v4h-2zM274 50h2v4h-2zM276 54h2v4h-2zM290 54h2v2h-2zM296 44h2v2h-2zM296 60h2v2h-2zM298 48h2v6h-2zM300 44h2v4h-2zM300 50h2v8h-2zM302 48h2v4h-2zM302 56h2v2h-2zM304 44h2v4h-2zM304 54h2v4h-2zM304 60h2v2h-2zM304 78h2v2h-2zM304 82h2v2h-2zM306 48h2v6h-2zM308 20h2v2h-2zM310 54h2v4h-2zM310 66h2v2h-2zM310 72h2v2h-2zM312 48h2v6h-2zM312 58h2v2h-2zM314 56h2v4h-2zM314 66h2v4h-2zM316 54h2v6h-2zM316 76h2v2h-2zM318 54h2v2h-2zM322 30h2v6h-2zM322 38h2v2h-2zM322 52h2v2h-2zM324 40h2v2h-2zM324 46h2v6h-2zM324 56h2v2h-2zM326 28h2v2h-2zM326 32h2v2h-2zM326 42h2v2h-2zM326 46h2v2h-2zM326 54h2v2h-2zM330 36h2v6h-2zM330 48h2v2h-2zM332 36h2v4h-2zM332 46h2v4h-2zM332 56h2v2h-2zM334 48h2v2h-2zM334 60h2v4h-2zM336 50h2v10h-2zM338 44h2v8h-2zM340 48h2v2h-2zM340 52h2v6h-2zM342 54h2v12h-2zM342 72h2v2h-2zM344 54h2v4h-2zM346 52h2v4h-2zM346 62h2v2h-2zM348 48h2v2h-2zM348 52h2v2h-2zM348 60h2v2h-2zM348 64h2v2h-2zM350 68h2v4h-2zM350 74h2v2h-2zM352 40h2v2h-2zM352 56h2v2h-2zM352 60h2v6h-2zM354 42h2v12h-2zM356 44h2v8h-2zM356 58h2v2h-2zM358 42h2v8h-2zM358 52h2v4h-2zM358 58h2v8h-2zM360 48h2v6h-2zM364 42h2v4h-2zM364 50h2v4h-2zM364 60h2v2h-2zM364 64h2v4h-2zM366 44h2v4h-2zM366 50h2v8h-2zM368 40h2v2h-2zM368 46h2v4h-2zM368 52h2v2h-2zM370 54h2v4h-2zM372 50h2v4h-2zM372 56h2v8h-2zM376 54h2v4h-2zM378 50h2v6h-2zM380 54h2v2h-2zM382 46h2v2h-2zM382 56h2v4h-2zM384 50h2v4h-2zM384 56h2v2h-2zM386 50h2v4h-2zM392 30h2v12h-2zM392 56h2v6h-2zM392 64h2v2h-2zM392 70h2v2h-2zM394 42h2v4h-2zM394 50h2v2h-2zM394 54h2v2h-2zM394 60h2v6h-2zM396 42h2v6h-2zM398 48h2v8h-2z" fill="#24bcd0"/>
<path d="M2 42h2v2h-2zM2 46h2v2h-2zM4 42h2v10h-2zM6 42h2v4h-2zM8 42h2v6h-2zM10 36h2v2h-2zM12 32h2v4h-2zM12 42h2v2h-2zM12 52h2v2h-2zM14 42h2v8h-2zM14 52h2v2h-2zM16 54h2v4h-2zM18 38h2v8h-2zM18 48h2v2h-2zM18 54h2v2h-2zM22 46h2v2h-2zM28 54h2v4h-2zM30 42h2v4h-2zM30 48h2v10h-2zM32 40h2v2h-2zM32 44h2v4h-2zM32 52h2v2h-2zM34 32h2v2h-2zM34 40h2v2h-2zM36 42h2v4h-2zM38 40h2v2h-2zM38 46h2v2h-2zM38 60h2v2h-2zM38 66h2v6h-2zM40 40h2v6h-2zM44 32h2v4h-2zM44 38h2v10h-2zM46 18h2v6h-2zM46 26h2v2h-2zM46 30h2v2h-2zM46 34h2v2h-2zM48 36h2v2h-2zM48 40h2v2h-2zM50 36h2v10h-2zM54 42h2v4h-2zM54 48h2v2h-2zM54 52h2v2h-2zM56 32h2v4h-2zM56 42h2v6h-2zM60 44h2v4h-2zM62 46h2v2h-2zM64 36h2v2h-2zM64 42h2v4h-2zM66 30h2v8h-2zM66 48h2v4h-2zM68 34h2v2h-2zM68 40h2v8h-2zM70 40h2v2h-2zM70 50h2v4h-2zM82 44h2v4h-2zM82 50h2v2h-2zM84 36h2v6h-2zM86 42h2v2h-2zM86 48h2v2h-2zM88 36h2v6h-2zM88 44h2v2h-2zM90 42h2v4h-2zM92 42h2v4h-2zM92 48h2v2h-2zM94 36h2v2h-2zM94 44h2v2h-2zM94 52h2v4h-2zM96 46h2v2h-2zM98 46h2v8h-2zM118 44h2v2h-2zM118 48h2v6h-2zM120 38h2v8h-2zM122 40h2v2h-2zM122 44h2v2h-2zM122 48h2v4h-2zM124 48h2v2h-2zM126 34h2v2h-2zM126 46h2v2h-2zM126 54h2v6h-2zM128 40h2v2h-2zM132 26h2v2h-2zM132 30h2v4h-2zM134 34h2v2h-2zM134 42h2v2h-2zM134 46h2v2h-2zM136 32h2v4h-2zM136 38h2v8h-2zM138 40h2v2h-2zM138 48h2v12h-2zM140 36h2v10h-2zM140 48h2v2h-2zM140 52h2v2h-2zM148 36h2v2h-2zM148 40h2v8h-2zM150 42h2v2h-2zM150 48h2v2h-2zM150 52h2v2h-2zM166 42h2v4h-2zM166 50h2v4h-2zM166 56h2v2h-2zM168 40h2v2h-2zM168 54h2v4h-2zM170 48h2v2h-2zM170 52h2v2h-2zM170 56h2v2h-2zM172 46h2v2h-2zM172 54h2v6h-2zM174 36h2v2h-2zM174 42h2v6h-2zM176 32h2v4h-2zM176 56h2v4h-2zM178 44h2v4h-2zM184 46h2v6h-2zM184 58h2v2h-2zM188 52h2v6h-2zM190 48h2v6h-2zM192 42h2v2h-2zM192 46h2v2h-2zM200 46h2v2h-2zM206 46h2v2h-2zM208 44h2v2h-2zM214 44h2v2h-2zM220 42h2v2h-2zM220 46h2v2h-2zM222 48h2v2h-2zM228 48h2v2h-2zM228 54h2v2h-2zM236 46h2v8h-2zM240 52h2v6h-2zM256 42h2v2h-2zM258 42h2v4h-2zM258 48h2v2h-2zM260 46h2v2h-2zM262 42h2v4h-2zM262 54h2v4h-2zM264 34h2v8h-2zM264 54h2v8h-2zM266 38h2v10h-2zM266 56h2v4h-2zM270 32h2v12h-2zM270 52h2v2h-2zM272 36h2v2h-2zM272 44h2v2h-2zM274 46h2v4h-2zM294 40h2v6h-2zM296 46h2v2h-2zM298 40h2v2h-2zM298 44h2v4h-2zM300 42h2v2h-2zM302 42h2v2h-2zM302 46h2v2h-2zM304 42h2v2h-2zM304 48h2v6h-2zM306 42h2v4h-2zM310 38h2v4h-2zM312 54h2v2h-2zM314 48h2v8h-2zM318 52h2v2h-2zM320 46h2v2h-2zM322 36h2v2h-2zM322 40h2v2h-2zM322 48h2v4h-2zM324 32h2v8h-2zM324 42h2v4h-2zM326 24h2v2h-2zM326 30h2v2h-2zM326 34h2v2h-2zM330 26h2v4h-2zM332 42h2v4h-2zM334 34h2v2h-2zM334 50h2v4h-2zM336 44h2v6h-2zM338 42h2v2h-2zM340 50h2v2h-2zM342 50h2v2h-2zM344 48h2v6h-2zM346 50h2v2h-2zM346 60h2v2h-2zM348 56h2v4h-2zM348 62h2v2h-2zM350 48h2v10h-2zM350 66h2v2h-2zM352 34h2v2h-2zM352 54h2v2h-2zM356 38h2v2h-2zM356 42h2v2h-2zM358 34h2v2h-2zM358 40h2v2h-2zM358 50h2v2h-2zM360 46h2v2h-2zM364 40h2v2h-2zM364 48h2v2h-2zM364 56h2v2h-2zM364 62h2v2h-2zM366 42h2v2h-2zM368 36h2v4h-2zM368 42h2v4h-2zM372 48h2v2h-2zM374 40h2v2h-2zM380 46h2v8h-2zM382 54h2v2h-2zM392 54h2v2h-2zM392 66h2v4h-2zM394 40h2v2h-2zM394 48h2v2h-2zM394 52h2v2h-2z" fill="#4cc49a"/>
<path d="M2 34h2v8h-2zM2 44h2v2h-2zM4 28h2v2h-2zM4 38h2v4h-2zM10 28h2v8h-2zM12 30h2v2h-2zM12 40h2v2h-2zM14 40h2v2h-2zM14 50h2v2h-2zM22 44h2v2h-2zM24 58h2v2h-2zM32 36h2v4h-2zM32 42h2v2h-2zM32 48h2v2h-2zM34 30h2v2h-2zM34 34h2v6h-2zM36 46h2v2h-2zM38 36h2v4h-2zM38 44h2v2h-2zM40 36h2v4h-2zM44 30h2v2h-2zM44 36h2v2h-2zM46 24h2v2h-2zM48 38h2v2h-2zM52 32h2v4h-2zM54 36h2v2h-2zM56 20h2v4h-2zM56 28h2v4h-2zM60 36h2v8h-2zM62 40h2v2h-2zM62 44h2v2h-2zM64 34h2v2h-2zM66 60h2v2h-2zM68 32h2v2h-2zM68 36h2v4h-2zM70 46h2v2h-2zM82 42h2v2h-2zM84 34h2v2h-2zM84 44h2v4h-2zM86 26h2v4h-2zM86 32h2v4h-2zM88 42h2v2h-2zM92 40h2v2h-2zM94 38h2v2h-2zM94 42h2v2h-2zM96 44h2v2h-2zM98 44h2v2h-2zM110 46h2v2h-2zM110 50h2v4h-2zM116 46h2v2h-2zM118 42h2v2h-2zM120 36h2v2h-2zM122 30h2v10h-2zM122 42h2v2h-2zM124 44h2v2h-2zM126 42h2v4h-2zM128 26h2v4h-2zM128 34h2v6h-2zM132 24h2v2h-2zM132 28h2v2h-2zM132 52h2v2h-2zM134 24h2v2h-2zM134 28h2v6h-2zM136 36h2v2h-2zM136 50h2v4h-2zM138 36h2v4h-2zM148 38h2v2h-2zM166 48h2v2h-2zM168 36h2v4h-2zM168 42h2v6h-2zM170 46h2v2h-2zM172 42h2v4h-2zM174 30h2v6h-2zM174 38h2v2h-2zM176 28h2v4h-2zM178 42h2v2h-2zM180 34h2v2h-2zM180 38h2v2h-2zM182 40h2v2h-2zM184 40h2v6h-2zM214 42h2v2h-2zM220 44h2v2h-2zM222 32h2v4h-2zM240 50h2v2h-2zM256 40h2v2h-2zM258 36h2v2h-2zM258 40h2v2h-2zM260 44h2v2h-2zM264 26h2v2h-2zM264 32h2v2h-2zM264 42h2v6h-2zM266 36h2v2h-2zM268 38h2v4h-2zM268 44h2v4h-2zM270 30h2v2h-2zM270 48h2v2h-2zM272 42h2v2h-2zM272 46h2v2h-2zM294 38h2v2h-2zM294 46h2v2h-2zM296 28h2v2h-2zM296 42h2v2h-2zM298 34h2v6h-2zM298 42h2v2h-2zM302 40h2v2h-2zM306 46h2v2h-2zM310 36h2v2h-2zM310 44h2v4h-2zM312 56h2v2h-2zM316 46h2v2h-2zM320 44h2v2h-2zM320 50h2v4h-2zM322 44h2v4h-2zM324 30h2v2h-2zM326 16h2v2h-2zM326 26h2v2h-2zM330 24h2v2h-2zM330 32h2v2h-2zM334 30h2v4h-2zM334 36h2v6h-2zM336 34h2v2h-2zM336 40h2v4h-2zM338 40h2v2h-2zM342 34h2v2h-2zM342 48h2v2h-2zM342 52h2v2h-2zM346 46h2v4h-2zM348 42h2v2h-2zM348 54h2v2h-2zM350 44h2v2h-2zM350 58h2v2h-2zM352 28h2v6h-2zM352 36h2v4h-2zM358 32h2v2h-2zM358 38h2v2h-2zM364 38h2v2h-2zM364 54h2v2h-2zM364 58h2v2h-2zM366 32h2v6h-2zM366 40h2v2h-2zM372 54h2v2h-2zM374 44h2v4h-2zM382 44h2v2h-2zM392 24h2v2h-2zM394 30h2v6h-2zM394 38h2v2h-2zM396 40h2v2h-2z" fill="#8ccc5a"/>
<path d="M4 26h2v2h-2zM4 36h2v2h-2zM6 32h2v4h-2zM8 40h2v2h-2zM10 26h2v2h-2zM12 36h2v2h-2zM22 42h2v2h-2zM30 40h2v2h-2zM32 30h2v6h-2zM34 28h2v2h-2zM38 34h2v2h-2zM38 42h2v2h-2zM44 24h2v6h-2zM46 14h2v4h-2zM46 28h2v2h-2zM48 32h2v4h-2zM50 32h2v4h-2zM52 28h2v4h-2zM54 34h2v2h-2zM56 18h2v2h-2zM56 24h2v4h-2zM58 20h2v4h-2zM62 38h2v2h-2zM62 42h2v2h-2zM64 30h2v4h-2zM64 48h2v2h-2zM64 52h2v2h-2zM66 16h2v2h-2zM66 24h2v2h-2zM68 30h2v2h-2zM70 42h2v4h-2zM82 40h2v2h-2zM84 42h2v2h-2zM86 24h2v2h-2zM86 30h2v2h-2zM94 34h2v2h-2zM98 42h2v2h-2zM110 48h2v2h-2zM116 44h2v2h-2zM118 40h2v2h-2zM124 42h2v2h-2zM126 38h2v4h-2zM128 20h2v6h-2zM128 30h2v4h-2zM132 22h2v2h-2zM132 36h2v2h-2zM132 50h2v2h-2zM134 26h2v2h-2zM136 48h2v2h-2zM138 28h2v2h-2zM146 46h2v2h-2zM168 30h2v6h-2zM170 42h2v4h-2zM176 26h2v2h-2zM178 38h2v4h-2zM180 36h2v2h-2zM180 40h2v2h-2zM182 34h2v6h-2zM190 42h2v2h-2zM190 46h2v2h-2zM256 38h2v2h-2zM258 38h2v2h-2zM262 34h2v6h-2zM264 28h2v4h-2zM268 42h2v2h-2zM270 26h2v4h-2zM296 32h2v4h-2zM298 32h2v2h-2zM302 38h2v2h-2zM302 44h2v2h-2zM306 34h2v2h-2zM312 44h2v4h-2zM314 44h2v4h-2zM320 42h2v2h-2zM320 48h2v2h-2zM322 42h2v2h-2zM324 22h2v2h-2zM324 26h2v4h-2zM326 12h2v4h-2zM326 18h2v6h-2zM330 20h2v4h-2zM330 30h2v2h-2zM330 34h2v2h-2zM332 32h2v4h-2zM336 32h2v2h-2zM336 38h2v2h-2zM338 38h2v2h-2zM342 42h2v6h-2zM344 44h2v4h-2zM346 44h2v2h-2zM348 36h2v6h-2zM348 44h2v4h-2zM350 36h2v8h-2zM350 46h2v2h-2zM352 24h2v4h-2zM352 42h2v6h-2zM356 40h2v2h-2zM358 36h2v2h-2zM364 36h2v2h-2zM366 28h2v4h-2zM366 38h2v2h-2zM372 38h2v4h-2zM374 42h2v2h-2zM392 26h2v4h-2zM394 36h2v2h-2zM396 38h2v2h-2z" fill="#c2d43e"/>
<path d="M4 30h2v6h-2zM6 30h2v2h-2zM8 38h2v2h-2zM12 38h2v2h-2zM30 34h2v6h-2zM34 24h2v2h-2zM36 32h2v4h-2zM36 40h2v2h-2zM38 22h2v2h-2zM38 30h2v4h-2zM40 28h2v2h-2zM42 40h2v2h-2zM46 12h2v2h-2zM48 30h2v2h-2zM50 30h2v2h-2zM52 24h2v4h-2zM56 14h2v4h-2zM58 16h2v4h-2zM64 50h2v2h-2zM66 14h2v2h-2zM66 22h2v2h-2zM92 38h2v2h-2zM94 30h2v4h-2zM98 34h2v2h-2zM122 28h2v2h-2zM126 36h2v2h-2zM132 48h2v2h-2zM138 18h2v6h-2zM170 36h2v2h-2zM170 40h2v2h-2zM172 26h2v4h-2zM172 34h2v8h-2zM174 26h2v4h-2zM178 34h2v4h-2zM182 32h2v2h-2zM190 40h2v2h-2zM190 44h2v2h-2zM192 38h2v4h-2zM222 30h2v2h-2zM256 36h2v2h-2zM262 40h2v2h-2zM264 24h2v2h-2zM266 28h2v2h-2zM268 34h2v4h-2zM272 32h2v4h-2zM296 24h2v4h-2zM296 30h2v2h-2zM302 34h2v4h-2zM310 32h2v4h-2zM310 42h2v2h-2zM312 42h2v2h-2zM314 38h2v6h-2zM324 24h2v2h-2zM330 18h2v2h-2zM332 28h2v4h-2zM336 36h2v2h-2zM344 42h2v2h-2zM348 32h2v4h-2zM350 32h2v4h-2zM354 40h2v2h-2zM366 24h2v2h-2zM392 18h2v2h-2zM396 36h2v2h-2z" fill="#e2da36"/>
<path d="M4 24h2v2h-2zM6 26h2v4h-2zM8 36h2v2h-2zM32 24h2v6h-2zM34 14h2v4h-2zM34 26h2v2h-2zM36 28h2v4h-2zM36 36h2v4h-2zM38 24h2v6h-2zM40 24h2v4h-2zM40 30h2v6h-2zM42 34h2v6h-2zM44 18h2v6h-2zM46 10h2v2h-2zM50 28h2v2h-2zM52 22h2v2h-2zM58 14h2v2h-2zM60 28h2v8h-2zM64 24h2v6h-2zM66 10h2v4h-2zM66 18h2v4h-2zM68 28h2v2h-2zM86 20h2v4h-2zM128 18h2v2h-2zM132 18h2v4h-2zM134 20h2v4h-2zM138 24h2v4h-2zM170 38h2v2h-2zM172 30h2v4h-2zM174 18h2v8h-2zM264 20h2v4h-2zM266 24h2v4h-2zM272 30h2v2h-2zM304 36h2v6h-2zM310 30h2v2h-2zM314 36h2v2h-2zM322 24h2v6h-2zM324 18h2v4h-2zM326 10h2v2h-2zM330 14h2v4h-2zM334 24h2v6h-2zM350 20h2v12h-2zM352 22h2v2h-2zM366 22h2v2h-2zM366 26h2v2h-2zM372 36h2v2h-2zM392 12h2v6h-2z" fill="#f0d038"/>
<polygon points="257.9,72.3 260.6,38.7 263.2,67.6" fill="#4a3fa4" fill-opacity="0.7"/>
<polygon points="160.1,65.3 161.8,41.7 163.3,67.7" fill="#4a3fa4" fill-opacity="0.7"/>
<polygon points="217.6,61.4 221.3,32.0 223.1,63.4" fill="#4a3fa4" fill-opacity="0.7"/>
<polygon points="341.3,76.2 342.6,48.2 345.8,85.5" fill="#4a3fa4" fill-opacity="0.7"/>
<polygon points="244.3,84.2 247.8,58.8 249.6,95.3" fill="#4a3fa4" fill-opacity="0.7"/>
<polygon points="112.1,71.1 115.5,50.2 116.8,74.3" fill="#4a3fa4" fill-opacity="0.7"/>
<polygon points="87.2,86.4 89.3,52.1 91.8,91.8" fill="#4a3fa4" fill-opacity="0.7"/>
<polygon points="216.3,87.7 218.4,49.3 218.8,88.6" fill="#4a3fa4" fill-opacity="0.7"/>
<polygon points="99.0,91.5 101.0,58.3 101.9,91.7" fill="#4a3fa4" fill-opacity="0.7"/>
<polygon points="75.2,86.5 78.1,50.3 80.2,81.9" fill="#4a3fa4" fill-opacity="0.7"/>
<polygon points="361.2,59.7 363.7,37.8 367.2,76.7" fill="#4a3fa4" fill-opacity="0.7"/>
<polygon points="275.0,90.0 276.3,57.8 279.5,82.7" fill="#4a3fa4" fill-opacity="0.7"/>
<polygon points="143.4,59.2 146.0,36.0 149.0,69.2" fill="#4a3fa4" fill-opacity="0.7"/>
<polygon points="57.2,79.0 60.2,51.0 61.3,86.8" fill="#4a3fa4" fill-opacity="0.7"/>
<polygon points="209.1,65.3 211.2,36.8 212.8,72.9" fill="#4a3fa4" fill-opacity="0.7"/>
<polygon points="7.0,87.0 9.0,57.5 12.3,94.9" fill="#4a3fa4" fill-opacity="0.7"/>
</g>
<g filter="url(#soft)" fill="none" stroke="#86e2d4" stroke-opacity="0.8" stroke-width="1.0">
<path d="M31.8,144.3 Q33.0,145.1 32.9,146.3 Q32.7,147.5 30.0,147.1 Q27.3,146.8 24.8,147.7 Q22.3,148.6 22.5,147.2 Q22.6,145.8 20.8,144.8 Q18.9,143.7 21.9,143.6 Q24.8,143.5 26.2,143.2 Q27.5,142.8 29.0,143.2 Q30.5,143.6 31.8,144.3Z"/>
<path d="M367.1,113.5 Q366.1,117.1 364.3,119.0 Q362.5,120.9 357.1,123.5 Q351.7,126.1 347.7,123.0 Q343.8,119.9 341.6,116.6 Q339.4,113.3 345.8,111.2 Q352.2,109.2 360.1,109.6 Q368.1,110.0 367.1,113.5Z"/>
<path d="M162.1,143.3 Q162.4,145.3 160.2,146.4 Q158.1,147.5 155.8,148.9 Q153.4,150.2 147.4,150.6 Q141.4,151.0 143.0,148.1 Q144.6,145.3 143.1,142.5 Q141.6,139.7 147.5,139.3 Q153.4,138.9 157.7,140.1 Q161.9,141.3 162.1,143.3Z"/>
<path d="M246.2,143.9 Q247.1,145.4 246.4,147.1 Q245.8,148.7 242.0,149.1 Q238.3,149.6 234.9,148.5 Q231.5,147.4 233.1,145.8 Q234.6,144.2 236.3,142.5 Q238.0,140.8 241.7,141.6 Q245.4,142.5 246.2,143.9Z"/>
<path d="M94.8,80.0 Q98.5,80.8 94.8,81.6 Q91.0,82.4 90.4,84.0 Q89.7,85.6 86.9,84.9 Q84.0,84.2 80.5,84.1 Q76.9,84.1 78.5,82.4 Q80.1,80.8 78.2,79.1 Q76.2,77.3 80.3,77.8 Q84.5,78.2 86.4,78.1 Q88.2,78.1 89.6,78.6 Q91.0,79.2 94.8,80.0Z"/>
<path d="M96.8,88.2 Q97.7,88.8 97.8,89.8 Q97.8,90.8 95.7,90.8 Q93.6,90.8 91.0,91.0 Q88.4,91.2 87.1,90.0 Q85.9,88.8 87.0,87.5 Q88.1,86.2 90.8,86.4 Q93.6,86.5 94.7,87.1 Q95.9,87.7 96.8,88.2Z"/>
<path d="M172.5,85.6 Q172.2,86.7 172.8,87.8 Q173.3,89.0 170.8,89.1 Q168.4,89.2 166.9,88.6 Q165.4,88.1 163.2,87.4 Q160.9,86.7 163.1,85.9 Q165.2,85.2 166.8,84.8 Q168.4,84.5 170.6,84.5 Q172.8,84.5 172.5,85.6Z"/>
<path d="M354.2,91.0 Q358.6,92.3 357.2,94.5 Q355.8,96.7 350.2,96.1 Q344.6,95.6 342.1,96.9 Q339.6,98.2 338.2,96.5 Q336.7,94.8 335.2,94.1 Q333.6,93.4 330.3,91.8 Q326.9,90.3 328.8,88.4 Q330.7,86.5 335.5,87.7 Q340.3,88.8 342.6,88.7 Q344.9,88.6 347.4,89.2 Q349.9,89.7 354.2,91.0Z"/>
<path d="M273.2,113.9 Q274.9,116.4 271.1,117.6 Q267.4,118.9 264.3,119.7 Q261.2,120.5 258.3,119.3 Q255.4,118.1 256.8,116.7 Q258.1,115.2 260.0,114.5 Q261.9,113.7 266.7,112.6 Q271.5,111.5 273.2,113.9Z"/>
<path d="M130.1,71.8 Q129.0,74.0 127.9,75.3 Q126.8,76.7 124.3,77.8 Q121.9,79.0 118.2,78.8 Q114.4,78.6 109.9,77.6 Q105.3,76.6 109.4,74.7 Q113.5,72.9 113.3,70.6 Q113.1,68.3 117.8,67.8 Q122.6,67.3 126.9,68.5 Q131.2,69.6 130.1,71.8Z"/>
<path d="M144.2,110.9 Q144.9,111.8 144.0,112.7 Q143.1,113.6 141.2,113.4 Q139.4,113.3 137.1,113.6 Q134.9,114.0 134.4,112.9 Q133.8,111.8 134.2,110.7 Q134.5,109.6 136.9,109.5 Q139.4,109.5 141.4,109.7 Q143.5,109.9 144.2,110.9Z"/>
<path d="M323.0,78.7 Q323.8,80.8 322.5,82.7 Q321.3,84.6 317.3,85.5 Q313.3,86.4 309.2,85.5 Q305.0,84.7 305.6,82.8 Q306.1,80.8 305.8,79.0 Q305.5,77.2 309.4,77.1 Q313.3,77.1 317.8,76.8 Q322.3,76.6 323.0,78.7Z"/>
<path d="M273.2,113.5 Q275.0,114.7 273.9,116.2 Q272.7,117.6 269.6,117.8 Q266.4,118.0 264.1,118.0 Q261.8,118.1 258.6,117.9 Q255.3,117.7 255.1,116.2 Q254.9,114.7 257.1,113.9 Q259.4,113.1 260.9,112.7 Q262.5,112.3 264.7,111.5 Q266.9,110.6 269.1,111.4 Q271.3,112.2 273.2,113.5Z"/>
<path d="M135.0,91.4 Q135.5,93.1 135.5,95.1 Q135.5,97.0 131.4,96.4 Q127.3,95.9 125.0,95.6 Q122.6,95.3 122.2,94.2 Q121.8,93.1 122.5,92.2 Q123.2,91.2 125.3,90.4 Q127.3,89.6 130.9,89.7 Q134.6,89.7 135.0,91.4Z"/>
<path d="M373.7,124.1 Q375.6,124.9 375.4,126.1 Q375.3,127.3 372.3,127.1 Q369.2,126.9 367.5,128.0 Q365.9,129.0 363.3,128.7 Q360.8,128.3 358.4,127.4 Q356.0,126.4 358.8,125.2 Q361.6,124.1 361.4,122.9 Q361.3,121.7 363.7,121.5 Q366.1,121.3 368.4,121.2 Q370.8,121.1 371.3,122.3 Q371.8,123.4 373.7,124.1Z"/>
<path d="M336.3,109.4 Q333.9,111.1 333.6,112.1 Q333.3,113.0 331.7,113.6 Q330.2,114.2 327.7,115.9 Q325.2,117.5 323.8,115.6 Q322.5,113.7 317.8,113.4 Q313.1,113.1 316.6,111.6 Q320.0,110.1 319.8,108.6 Q319.7,107.0 322.4,105.8 Q325.2,104.6 328.8,105.2 Q332.4,105.7 335.6,106.7 Q338.7,107.6 336.3,109.4Z"/>
<path d="M286.1,113.5 Q287.3,115.0 286.3,116.6 Q285.2,118.3 281.2,119.3 Q277.2,120.2 275.5,118.3 Q273.9,116.3 271.5,114.4 Q269.0,112.6 273.4,111.8 Q277.7,111.0 281.3,111.4 Q284.9,111.9 286.1,113.5Z"/>
<path d="M382.0,92.6 Q384.3,93.6 383.6,95.3 Q383.0,96.9 379.5,97.1 Q376.0,97.3 373.9,96.8 Q371.7,96.2 367.9,96.6 Q364.1,96.9 362.2,95.2 Q360.3,93.6 361.4,91.7 Q362.4,89.8 366.1,89.1 Q369.8,88.3 373.4,88.4 Q377.0,88.6 378.3,90.1 Q379.7,91.5 382.0,92.6Z"/>
<path d="M274.0,143.6 Q276.9,144.5 274.9,145.7 Q272.8,146.9 270.3,146.9 Q267.7,147.0 265.8,146.9 Q264.0,146.8 263.2,146.0 Q262.3,145.3 260.2,144.1 Q258.0,143.0 261.3,142.9 Q264.6,142.7 266.6,141.3 Q268.5,139.8 269.8,141.3 Q271.1,142.8 274.0,143.6Z"/>
<path d="M112.4,71.6 Q113.3,72.3 113.0,73.1 Q112.7,74.0 111.6,75.1 Q110.5,76.3 108.3,75.4 Q106.2,74.5 104.5,74.2 Q102.8,74.0 102.2,73.1 Q101.5,72.3 101.8,71.3 Q102.2,70.4 104.1,70.1 Q106.0,69.8 108.3,69.0 Q110.5,68.2 111.0,69.6 Q111.5,71.0 112.4,71.6Z"/>
<path d="M371.6,92.6 Q375.7,95.2 370.0,96.9 Q364.2,98.6 360.3,99.1 Q356.4,99.7 353.3,98.4 Q350.2,97.1 350.2,95.2 Q350.1,93.3 352.5,90.5 Q354.9,87.7 361.2,88.8 Q367.4,90.0 371.6,92.6Z"/>
<path d="M162.3,101.8 Q165.6,103.3 161.3,104.3 Q157.1,105.3 154.4,106.5 Q151.7,107.6 148.8,106.4 Q145.9,105.1 144.4,103.0 Q142.8,100.8 147.5,100.5 Q152.3,100.2 155.6,100.2 Q159.0,100.2 162.3,101.8Z"/>
<path d="M217.4,123.5 Q218.4,124.5 217.9,125.7 Q217.4,126.9 214.4,126.7 Q211.4,126.5 209.9,127.3 Q208.5,128.0 205.3,128.3 Q202.1,128.6 201.1,127.2 Q200.1,125.9 199.7,124.5 Q199.3,123.1 201.9,122.5 Q204.5,121.8 206.2,120.5 Q207.9,119.2 209.7,120.8 Q211.6,122.4 214.0,122.4 Q216.4,122.5 217.4,123.5Z"/>
<path d="M158.9,95.4 Q157.5,97.2 156.3,98.1 Q155.0,99.1 153.9,100.5 Q152.8,101.9 149.9,101.5 Q147.0,101.0 143.3,100.8 Q139.7,100.6 138.8,98.9 Q137.8,97.2 139.1,95.7 Q140.5,94.1 143.0,92.7 Q145.6,91.4 149.3,91.7 Q153.1,92.1 156.7,92.9 Q160.2,93.6 158.9,95.4Z"/>
<path d="M336.5,74.1 Q337.4,75.4 335.5,76.2 Q333.5,77.1 331.7,78.4 Q329.9,79.7 326.4,79.2 Q322.9,78.7 321.2,77.0 Q319.5,75.4 320.6,73.5 Q321.7,71.5 325.8,70.8 Q329.9,70.1 332.7,71.4 Q335.6,72.7 336.5,74.1Z"/>
<path d="M202.6,127.2 Q203.3,128.3 202.1,129.1 Q200.9,130.0 199.1,130.3 Q197.4,130.6 195.9,130.3 Q194.5,130.0 193.6,129.4 Q192.7,128.9 191.1,128.0 Q189.5,127.1 191.9,126.8 Q194.3,126.5 195.7,126.6 Q197.1,126.7 199.4,126.5 Q201.8,126.2 202.6,127.2Z"/>
<path d="M196.0,148.0 Q202.0,132.0 208.0,130.0 Q214.0,128.0 220.0,130.5 Q226.0,133.0 229.0,140.5 L232.0,148.0"/>
<path d="M236.0,98.0 Q246.0,112.0 254.0,116.0 Q262.0,120.0 269.0,122.0 Q276.0,124.0 280.0,128.0 Q284.0,132.0 291.0,130.0 Q298.0,128.0 302.0,131.0 Q306.0,134.0 312.0,141.0 L318.0,148.0"/>
<path d="M322.0,104.0 Q336.0,114.0 343.0,117.0 Q350.0,120.0 358.0,123.0 Q366.0,126.0 375.0,128.0 Q384.0,130.0 391.0,129.0 L398.0,128.0"/>
<path d="M0.0,92.0 Q14.0,104.0 20.0,102.0 Q26.0,100.0 33.0,104.0 Q40.0,108.0 46.0,114.0 L52.0,120.0"/>
<path d="M138.0,82.0 Q150.0,92.0 156.0,89.0 Q162.0,86.0 168.0,91.0 Q174.0,96.0 180.0,93.0 L186.0,90.0"/>
<path d="M60.0,96.0 Q72.0,112.0 79.0,115.0 Q86.0,118.0 91.0,124.0 L96.0,130.0"/>
</g>
<g filter="url(#soft)">
<path d="M259.1,65.2 L257.6,70.5 L257.7,75.2 L258.8,78.6" fill="none" stroke="#a6e4d4" stroke-width="1.0" stroke-opacity="0.55"/>
<path d="M313.3,70.2 L313.5,75.5 L312.6,79.4" fill="none" stroke="#a6e4d4" stroke-width="1.0" stroke-opacity="0.55"/>
<path d="M363.9,55.6 L365.1,59.0 L364.1,64.6 L363.7,68.5" fill="none" stroke="#a6e4d4" stroke-width="1.0" stroke-opacity="0.55"/>
<path d="M337.6,66.6 L338.6,72.1 L338.1,76.0 L337.1,79.3 L338.5,85.2 L336.9,89.4 L335.9,92.5" fill="none" stroke="#a6e4d4" stroke-width="1.0" stroke-opacity="0.55"/>
<path d="M389.1,69.7 L389.2,73.5 L387.7,77.0 L388.9,80.1 L387.7,85.1 L387.2,89.8" fill="none" stroke="#a6e4d4" stroke-width="1.0" stroke-opacity="0.55"/>
<path d="M76.3,61.3 L76.8,64.4 L75.5,68.2 L75.6,72.9 L76.4,77.9 L76.6,82.1 L77.2,85.4" fill="none" stroke="#a6e4d4" stroke-width="1.0" stroke-opacity="0.55"/>
<path d="M262.6,69.2 L262.2,72.8 L263.5,77.2" fill="none" stroke="#a6e4d4" stroke-width="1.0" stroke-opacity="0.55"/>
<path d="M29.9,57.9 L28.8,62.7 L28.5,65.8 L28.2,68.9 L28.0,73.9 L27.2,78.4 L28.2,83.3" fill="none" stroke="#a6e4d4" stroke-width="1.0" stroke-opacity="0.55"/>
<path d="M285.9,68.7 L285.8,72.4 L286.1,77.1 L285.8,81.4 L286.3,86.8 L285.7,90.1 L285.5,95.0" fill="none" stroke="#a6e4d4" stroke-width="1.0" stroke-opacity="0.55"/>
<path d="M47.0,71.2 L48.4,76.8 L49.8,80.7 L49.0,85.2 L48.2,90.6 L46.9,94.1 L46.9,97.5" fill="none" stroke="#a6e4d4" stroke-width="1.0" stroke-opacity="0.55"/>
<path d="M216.1,54.5 L215.9,59.7 L217.2,65.6 L218.4,69.4 L217.4,73.6 L218.7,77.6 L217.4,82.3" fill="none" stroke="#a6e4d4" stroke-width="1.0" stroke-opacity="0.55"/>
<path d="M87.0,67.8 L85.8,72.4 L86.3,76.1 L85.0,81.6" fill="none" stroke="#a6e4d4" stroke-width="1.0" stroke-opacity="0.55"/>
<path d="M374.1,55.4 L373.6,60.6 L374.4,63.6 L373.8,66.8 L374.4,71.4 L375.4,77.1 L375.3,82.9" fill="none" stroke="#a6e4d4" stroke-width="1.0" stroke-opacity="0.55"/>
<path d="M96.1,64.1 L95.3,69.9 L95.3,73.0 L96.2,76.7 L95.6,82.0" fill="none" stroke="#a6e4d4" stroke-width="1.0" stroke-opacity="0.55"/>
<path d="M109.7,62.9 L108.4,67.5 L106.9,72.6" fill="none" stroke="#a6e4d4" stroke-width="1.0" stroke-opacity="0.55"/>
<path d="M56.2,61.2 L57.3,65.1 L55.8,71.1 L54.5,76.2 L55.6,81.7 L55.2,84.9" fill="none" stroke="#a6e4d4" stroke-width="1.0" stroke-opacity="0.55"/>
<path d="M83.0,63.0 L83.2,66.6 L82.3,69.7 L81.4,74.2 L80.6,79.0 L80.4,84.3" fill="none" stroke="#a6e4d4" stroke-width="1.0" stroke-opacity="0.55"/>
<path d="M317.4,52.8 L316.8,58.5 L316.2,63.8 L315.2,67.4" fill="none" stroke="#a6e4d4" stroke-width="1.0" stroke-opacity="0.55"/>
<path d="M188.2,53.2 L189.1,56.4 L188.7,60.2 L188.8,63.4 L189.5,67.1" fill="none" stroke="#a6e4d4" stroke-width="1.0" stroke-opacity="0.55"/>
<path d="M337.3,55.0 L336.2,60.1 L337.6,63.8 L337.5,67.3 L338.3,72.6 L337.4,77.5" fill="none" stroke="#a6e4d4" stroke-width="1.0" stroke-opacity="0.55"/>
<path d="M319.5,73.9 L319.0,78.9 L317.5,83.4 L318.9,88.1 L318.6,91.6 L317.3,96.2" fill="none" stroke="#a6e4d4" stroke-width="1.0" stroke-opacity="0.55"/>
<path d="M116.8,68.6 L115.7,72.6 L116.1,76.2 L114.6,79.5 L115.0,83.4 L114.9,89.3 L114.5,92.8 L115.6,96.3" fill="none" stroke="#a6e4d4" stroke-width="1.0" stroke-opacity="0.55"/>
<path d="M332.2,71.4 L332.3,75.6 L331.7,80.5 L331.4,86.2" fill="none" stroke="#a6e4d4" stroke-width="1.0" stroke-opacity="0.55"/>
<path d="M206.7,59.9 L206.7,63.6 L207.9,68.5 L206.4,73.5 L207.1,78.5 L207.8,83.7" fill="none" stroke="#a6e4d4" stroke-width="1.0" stroke-opacity="0.55"/>
<path d="M298.2,64.5 L297.1,68.8 L295.6,72.6 L296.2,75.9 L297.2,81.8 L297.0,87.5 L297.4,93.4" fill="none" stroke="#a6e4d4" stroke-width="1.0" stroke-opacity="0.55"/>
<path d="M375.8,67.8 L375.5,71.5 L375.8,75.3 L377.1,78.4" fill="none" stroke="#a6e4d4" stroke-width="1.0" stroke-opacity="0.55"/>
<path d="M115.0,74.6 L116.1,80.6 L114.8,83.7 L113.4,87.7 L113.3,90.7 L113.3,93.9" fill="none" stroke="#d8a8c8" stroke-width="1.0" stroke-opacity="0.5"/>
<path d="M205.4,60.5 L205.4,65.8 L207.2,71.2 L206.3,74.8" fill="none" stroke="#d8a8c8" stroke-width="1.0" stroke-opacity="0.5"/>
<path d="M42.8,56.3 L43.0,60.0 L42.5,65.5 L42.0,71.3 L42.6,77.2" fill="none" stroke="#d8a8c8" stroke-width="1.0" stroke-opacity="0.5"/>
<path d="M63.9,58.1 L64.1,62.2 L64.1,67.9 L65.4,73.8" fill="none" stroke="#d8a8c8" stroke-width="1.0" stroke-opacity="0.5"/>
<path d="M272.1,65.7 L272.5,71.6 L270.9,77.1 L270.1,82.1" fill="none" stroke="#d8a8c8" stroke-width="1.0" stroke-opacity="0.5"/>
<path d="M280.7,63.2 L279.5,68.0 L280.4,72.4" fill="none" stroke="#d8a8c8" stroke-width="1.0" stroke-opacity="0.5"/>
<path d="M196.2,47.9 L195.9,52.3 L195.5,58.1 L195.4,63.4" fill="none" stroke="#d8a8c8" stroke-width="1.0" stroke-opacity="0.5"/>
<path d="M147.0,68.2 L146.8,72.5 L147.6,75.6 L147.5,79.8 L148.4,85.8" fill="none" stroke="#d8a8c8" stroke-width="1.0" stroke-opacity="0.5"/>
<path d="M191.7,61.6 L192.4,66.7 L192.4,72.4 L192.9,77.6" fill="none" stroke="#d8a8c8" stroke-width="1.0" stroke-opacity="0.5"/>
<path d="M261.4,58.4 L260.9,62.0 L262.6,67.3" fill="none" stroke="#d8a8c8" stroke-width="1.0" stroke-opacity="0.5"/>
<path d="M300.2,75.2 L300.3,79.1 L301.3,83.4 L301.8,89.0 L302.6,93.5" fill="none" stroke="#d8a8c8" stroke-width="1.0" stroke-opacity="0.5"/>
<path d="M304.6,68.0 L305.8,73.3 L304.8,78.8" fill="none" stroke="#d8a8c8" stroke-width="1.0" stroke-opacity="0.5"/>
<path d="M274.6,71.7 L274.7,75.6 L273.3,78.7 L273.6,82.4 L274.1,87.4 L272.8,92.1" fill="none" stroke="#d8a8c8" stroke-width="1.0" stroke-opacity="0.5"/>
<path d="M233.7,65.4 L234.2,68.5 L234.1,73.4 L235.0,76.9 L235.8,82.4" fill="none" stroke="#d8a8c8" stroke-width="1.0" stroke-opacity="0.5"/>
</g>
</g></g>
<rect x="949.7" y="269.1" width="23.5" height="149.4" fill="url(#cb2)" stroke="#3a3a20" stroke-opacity="0.28" stroke-width="0.9"/>
<text x="978.7" y="275.7" font-size="14.4" fill="#5a5a5a" textLength="22.0" lengthAdjust="spacingAndGlyphs">0.6</text>
<text x="978.7" y="310.6" font-size="14.4" fill="#5a5a5a" textLength="22.0" lengthAdjust="spacingAndGlyphs">0.4</text>
<text x="978.7" y="345.5" font-size="14.4" fill="#5a5a5a" textLength="22.0" lengthAdjust="spacingAndGlyphs">0.2</text>
<text x="978.7" y="380.4" font-size="14.4" fill="#5a5a5a" textLength="8.8" lengthAdjust="spacingAndGlyphs">0</text>
<text x="978.7" y="415.3" font-size="14.4" fill="#5a5a5a" textLength="27.3" lengthAdjust="spacingAndGlyphs">-0.2</text>
<text x="951.8" y="256.0" font-size="24.5" fill="#111" textLength="60" lengthAdjust="spacingAndGlyphs">&lt;s&#8217;<tspan dy="-7.5" font-size="17.5">2</tspan><tspan dy="7.5">&gt;</tspan></text>
<text x="524.2" y="304.7" font-size="15.6" fill="#5a5a5a" text-anchor="end" textLength="19.4" lengthAdjust="spacingAndGlyphs">80</text>
<text x="524.2" y="334.6" font-size="15.6" fill="#5a5a5a" text-anchor="end" textLength="19.4" lengthAdjust="spacingAndGlyphs">60</text>
<text x="524.2" y="364.6" font-size="15.6" fill="#5a5a5a" text-anchor="end" textLength="19.4" lengthAdjust="spacingAndGlyphs">40</text>
<text x="524.2" y="394.5" font-size="15.6" fill="#5a5a5a" text-anchor="end" textLength="19.4" lengthAdjust="spacingAndGlyphs">20</text>
<text x="530.4" y="438.5" font-size="15.6" fill="#5a5a5a" text-anchor="middle" textLength="28.2" lengthAdjust="spacingAndGlyphs">100</text>
<text x="662.6" y="438.5" font-size="15.6" fill="#5a5a5a" text-anchor="middle" textLength="28.2" lengthAdjust="spacingAndGlyphs">150</text>
<text x="794.8" y="438.5" font-size="15.6" fill="#5a5a5a" text-anchor="middle" textLength="28.2" lengthAdjust="spacingAndGlyphs">200</text>
<text x="927.0" y="438.5" font-size="15.6" fill="#5a5a5a" text-anchor="middle" textLength="28.2" lengthAdjust="spacingAndGlyphs">250</text>
<text x='696.7' y='458.8' font-size='20' fill='#666' font-family='"Liberation Serif", serif' textLength='62' lengthAdjust='spacingAndGlyphs'><tspan font-style='italic'>t</tspan> (min)</text>
<text x='495.0' y='367.1' font-size='19' fill='#6a6a6a' font-family='"Liberation Serif", serif' textLength='46' lengthAdjust='spacingAndGlyphs' transform='rotate(-90 495.0 367.1)'><tspan font-style='italic'>z</tspan> (m)</text>
<clipPath id="clip3"><rect x="408.1" y="484.6" width="392.6" height="147.2"/></clipPath>
<linearGradient id="bg3" x1="0" y1="0" x2="0" y2="1">
<stop offset="0%" stop-color="#4a6aba"/>
<stop offset="10%" stop-color="#4864b6"/>
<stop offset="40%" stop-color="#4866b8"/>
<stop offset="60%" stop-color="#4a6cbe"/>
<stop offset="100%" stop-color="#4a6cbc"/>
</linearGradient>
<rect x="408.1" y="484.6" width="392.6" height="147.2" fill="url(#bg3)"/>
<g clip-path="url(#clip3)"><g transform="translate(408 485)">
<rect x="-8" y="6" width="409" height="52" fill="#414ea8" fill-opacity="0.42" filter="url(#soft3)"/>
<rect x="-8" y="66" width="409" height="30" fill="#4486d6" fill-opacity="0.30" filter="url(#soft3)"/>
<g filter="url(#soft3)">
<ellipse cx="20" cy="70" rx="22" ry="12" fill="#3e9ce2" fill-opacity="0.5"/>
<ellipse cx="62" cy="74" rx="26" ry="16" fill="#3e9ce2" fill-opacity="0.5"/>
<ellipse cx="100" cy="70" rx="24" ry="18" fill="#3e9ce2" fill-opacity="0.5"/>
<ellipse cx="150" cy="72" rx="34" ry="18" fill="#3e9ce2" fill-opacity="0.5"/>
<ellipse cx="196" cy="74" rx="20" ry="14" fill="#3e9ce2" fill-opacity="0.5"/>
<ellipse cx="232" cy="70" rx="16" ry="12" fill="#3e9ce2" fill-opacity="0.5"/>
<ellipse cx="268" cy="76" rx="22" ry="14" fill="#3e9ce2" fill-opacity="0.5"/>
<ellipse cx="318" cy="72" rx="20" ry="14" fill="#3e9ce2" fill-opacity="0.5"/>
<ellipse cx="352" cy="76" rx="24" ry="14" fill="#3e9ce2" fill-opacity="0.5"/>
<ellipse cx="386" cy="74" rx="14" ry="14" fill="#3e9ce2" fill-opacity="0.5"/>
</g>
<g filter="url(#soft2)">
<polygon points="19.9,58.7 21.7,65.1 22.3,71.5 24.4,77.9 28.5,84.3 31.8,90.7 36.6,84.3 39.8,77.9 40.5,71.5 42.5,65.1 46.4,58.7" fill="#4240a2" fill-opacity="0.78"/>
<polygon points="127.7,49.3 128.4,56.5 131.3,63.7 132.7,70.9 135.0,78.1 140.0,85.3 141.4,78.1 145.7,70.9 147.1,63.7 149.0,56.5 150.2,49.3" fill="#4240a2" fill-opacity="0.78"/>
<polygon points="241.3,49.3 244.4,60.9 246.9,72.5 246.5,84.1 251.6,95.7 256.0,107.3 261.1,95.7 263.5,84.1 265.7,72.5 267.5,60.9 268.5,49.3" fill="#4240a2" fill-opacity="0.78"/>
<polygon points="299.2,54.4 300.1,61.2 301.4,68.0 303.4,74.8 306.8,81.6 311.0,88.4 316.9,81.6 316.8,74.8 320.7,68.0 322.0,61.2 324.9,54.4" fill="#4240a2" fill-opacity="0.78"/>
<polygon points="372.6,61.2 373.6,65.6 375.2,70.0 375.5,74.4 376.3,78.8 382.3,83.2 383.3,78.8 387.0,74.4 386.7,70.0 387.8,65.6 389.5,61.2" fill="#4240a2" fill-opacity="0.78"/>
<polygon points="82.8,51.0 85.1,55.8 85.4,60.6 86.2,65.4 87.8,70.2 88.5,75.0 93.5,70.2 95.6,65.4 95.9,60.6 97.1,55.8 99.1,51.0" fill="#4240a2" fill-opacity="0.78"/>
</g>
<g filter="url(#soft)">
<path d="M0 54h2v2h-2zM0 66h2v4h-2zM2 58h2v2h-2zM2 66h2v6h-2zM8 58h2v2h-2zM8 66h2v6h-2zM10 64h2v2h-2zM10 68h2v6h-2zM12 66h2v4h-2zM16 54h2v2h-2zM16 60h2v10h-2zM18 72h2v2h-2zM20 54h2v2h-2zM20 68h2v4h-2zM22 60h2v2h-2zM22 68h2v4h-2zM24 58h2v2h-2zM24 64h2v2h-2zM24 70h2v2h-2zM26 56h2v2h-2zM26 68h2v4h-2zM28 52h2v10h-2zM30 68h2v4h-2zM32 62h2v2h-2zM32 68h2v4h-2zM42 52h2v2h-2zM42 66h2v4h-2zM44 68h2v4h-2zM46 58h2v2h-2zM46 68h2v4h-2zM48 66h2v4h-2zM50 68h2v4h-2zM52 62h2v2h-2zM52 70h2v2h-2zM60 60h2v2h-2zM60 66h2v4h-2zM62 54h2v2h-2zM62 64h2v2h-2zM62 70h2v2h-2zM64 52h2v2h-2zM66 52h2v2h-2zM68 58h2v2h-2zM68 66h2v4h-2zM70 56h2v2h-2zM70 64h2v6h-2zM72 66h2v6h-2zM74 42h2v2h-2zM74 66h2v4h-2zM76 44h2v4h-2zM76 50h2v4h-2zM78 62h2v6h-2zM80 66h2v6h-2zM82 66h2v2h-2zM84 64h2v2h-2zM84 68h2v2h-2zM86 70h2v4h-2zM88 50h2v2h-2zM88 66h2v8h-2zM90 70h2v4h-2zM96 56h2v2h-2zM96 66h2v4h-2zM98 68h2v4h-2zM100 16h2v10h-2zM100 32h2v28h-2zM102 24h2v34h-2zM104 44h2v20h-2zM106 70h2v2h-2zM108 72h2v2h-2zM110 70h2v6h-2zM112 24h2v30h-2zM112 60h2v6h-2zM114 72h2v2h-2zM116 66h2v6h-2zM118 66h2v8h-2zM120 66h2v8h-2zM122 70h2v6h-2zM124 36h2v2h-2zM124 64h2v10h-2zM126 66h2v4h-2zM128 68h2v4h-2zM130 68h2v2h-2zM130 72h2v2h-2zM136 64h2v2h-2zM136 68h2v4h-2zM140 62h2v6h-2zM142 36h2v26h-2zM144 68h2v6h-2zM146 70h2v4h-2zM148 66h2v6h-2zM150 70h2v2h-2zM152 62h2v2h-2zM152 70h2v2h-2zM156 60h2v2h-2zM156 68h2v4h-2zM158 70h2v4h-2zM160 70h2v2h-2zM162 32h2v2h-2zM162 66h2v8h-2zM164 28h2v14h-2zM164 44h2v16h-2zM166 44h2v10h-2zM168 60h2v10h-2zM170 66h2v4h-2zM172 68h2v4h-2zM174 68h2v2h-2zM176 66h2v4h-2zM178 68h2v2h-2zM180 64h2v6h-2zM182 60h2v8h-2zM184 60h2v6h-2zM186 66h2v6h-2zM188 70h2v2h-2zM190 42h2v16h-2zM192 66h2v6h-2zM194 70h2v4h-2zM196 70h2v2h-2zM198 72h2v2h-2zM200 70h2v2h-2zM202 34h2v12h-2zM202 48h2v12h-2zM204 68h2v6h-2zM206 64h2v6h-2zM208 64h2v2h-2zM208 68h2v4h-2zM210 68h2v4h-2zM212 68h2v8h-2zM214 68h2v4h-2zM216 68h2v4h-2zM218 70h2v2h-2zM220 68h2v4h-2zM222 42h2v2h-2zM222 68h2v6h-2zM224 54h2v2h-2zM224 66h2v4h-2zM226 62h2v4h-2zM226 68h2v4h-2zM232 70h2v2h-2zM234 66h2v8h-2zM236 70h2v2h-2zM238 72h2v2h-2zM240 68h2v4h-2zM242 64h2v2h-2zM242 70h2v2h-2zM244 68h2v2h-2zM256 70h2v2h-2zM258 68h2v6h-2zM262 70h2v4h-2zM264 62h2v8h-2zM266 54h2v4h-2zM266 60h2v10h-2zM268 66h2v4h-2zM270 32h2v6h-2zM270 42h2v6h-2zM270 54h2v4h-2zM270 60h2v2h-2zM272 38h2v2h-2zM272 66h2v6h-2zM274 66h2v6h-2zM276 68h2v6h-2zM278 68h2v4h-2zM284 62h2v2h-2zM284 68h2v4h-2zM286 56h2v4h-2zM286 66h2v8h-2zM288 64h2v8h-2zM290 56h2v2h-2zM290 64h2v2h-2zM290 68h2v4h-2zM292 62h2v2h-2zM292 66h2v6h-2zM294 56h2v2h-2zM294 62h2v4h-2zM294 68h2v4h-2zM302 66h2v6h-2zM304 68h2v4h-2zM306 60h2v2h-2zM306 66h2v6h-2zM318 68h2v2h-2zM318 72h2v2h-2zM322 66h2v4h-2zM324 64h2v2h-2zM324 68h2v2h-2zM326 64h2v6h-2zM328 66h2v2h-2zM330 62h2v4h-2zM330 68h2v2h-2zM332 70h2v2h-2zM334 44h2v2h-2zM334 66h2v6h-2zM336 48h2v2h-2zM336 68h2v4h-2zM338 60h2v2h-2zM338 68h2v4h-2zM346 58h2v2h-2zM346 68h2v4h-2zM348 52h2v2h-2zM348 68h2v4h-2zM350 52h2v2h-2zM350 66h2v4h-2zM352 56h2v4h-2zM352 64h2v2h-2zM352 70h2v2h-2zM354 46h2v2h-2zM354 68h2v4h-2zM356 66h2v8h-2zM358 46h2v2h-2zM358 66h2v4h-2zM360 62h2v8h-2zM362 56h2v2h-2zM362 68h2v4h-2zM364 64h2v2h-2zM364 68h2v4h-2zM376 62h2v4h-2zM376 68h2v6h-2zM378 58h2v2h-2zM378 68h2v4h-2zM380 60h2v2h-2zM380 70h2v2h-2zM386 62h2v8h-2zM388 60h2v2h-2zM388 66h2v6h-2zM390 68h2v4h-2z" fill="#3f8cd8"/>
<path d="M0 56h2v4h-2zM0 62h2v4h-2zM2 60h2v6h-2zM8 60h2v2h-2zM8 64h2v2h-2zM10 48h2v4h-2zM10 60h2v4h-2zM10 66h2v2h-2zM12 50h2v4h-2zM12 64h2v2h-2zM16 56h2v2h-2zM18 44h2v2h-2zM18 48h2v2h-2zM18 60h2v2h-2zM18 64h2v2h-2zM18 68h2v4h-2zM20 56h2v4h-2zM20 64h2v4h-2zM22 62h2v6h-2zM24 60h2v4h-2zM24 66h2v4h-2zM26 58h2v2h-2zM26 62h2v6h-2zM30 56h2v2h-2zM30 66h2v2h-2zM32 64h2v4h-2zM42 54h2v4h-2zM42 64h2v2h-2zM44 52h2v2h-2zM44 64h2v4h-2zM46 66h2v2h-2zM48 50h2v2h-2zM50 50h2v2h-2zM50 62h2v6h-2zM52 64h2v6h-2zM60 64h2v2h-2zM62 56h2v8h-2zM62 66h2v4h-2zM66 54h2v6h-2zM66 64h2v8h-2zM68 60h2v2h-2zM68 64h2v2h-2zM70 58h2v6h-2zM72 48h2v2h-2zM72 62h2v4h-2zM74 40h2v2h-2zM74 44h2v4h-2zM74 60h2v6h-2zM78 34h2v4h-2zM78 60h2v2h-2zM80 30h2v4h-2zM80 60h2v6h-2zM82 42h2v6h-2zM82 54h2v12h-2zM84 48h2v4h-2zM84 60h2v4h-2zM84 66h2v2h-2zM86 64h2v6h-2zM88 52h2v2h-2zM88 64h2v2h-2zM90 62h2v2h-2zM90 66h2v4h-2zM96 58h2v2h-2zM96 64h2v2h-2zM98 36h2v4h-2zM98 66h2v2h-2zM100 26h2v6h-2zM106 46h2v6h-2zM106 60h2v6h-2zM106 68h2v2h-2zM108 68h2v4h-2zM110 60h2v6h-2zM110 68h2v2h-2zM114 38h2v6h-2zM114 62h2v10h-2zM116 28h2v2h-2zM116 64h2v2h-2zM120 44h2v10h-2zM120 64h2v2h-2zM122 66h2v4h-2zM124 38h2v4h-2zM124 60h2v4h-2zM126 52h2v4h-2zM126 62h2v4h-2zM128 60h2v2h-2zM128 64h2v4h-2zM130 70h2v2h-2zM136 66h2v2h-2zM140 36h2v2h-2zM140 52h2v2h-2zM140 56h2v6h-2zM144 60h2v8h-2zM146 46h2v2h-2zM146 66h2v4h-2zM150 52h2v2h-2zM150 68h2v2h-2zM152 64h2v2h-2zM152 68h2v2h-2zM156 62h2v6h-2zM158 50h2v2h-2zM158 60h2v10h-2zM160 42h2v4h-2zM160 62h2v8h-2zM162 34h2v2h-2zM162 58h2v8h-2zM164 42h2v2h-2zM168 34h2v4h-2zM170 60h2v6h-2zM172 34h2v2h-2zM172 60h2v8h-2zM174 36h2v2h-2zM174 62h2v6h-2zM176 60h2v6h-2zM178 62h2v6h-2zM180 62h2v2h-2zM182 58h2v2h-2zM184 50h2v4h-2zM184 56h2v4h-2zM186 34h2v2h-2zM186 62h2v2h-2zM188 54h2v6h-2zM188 62h2v8h-2zM192 50h2v2h-2zM192 62h2v4h-2zM194 38h2v2h-2zM194 62h2v8h-2zM196 68h2v2h-2zM198 70h2v2h-2zM200 42h2v2h-2zM200 64h2v6h-2zM202 46h2v2h-2zM204 42h2v2h-2zM204 60h2v8h-2zM206 52h2v2h-2zM206 60h2v4h-2zM208 48h2v2h-2zM208 60h2v4h-2zM208 66h2v2h-2zM210 38h2v2h-2zM210 66h2v2h-2zM212 40h2v2h-2zM212 62h2v6h-2zM214 50h2v2h-2zM214 64h2v4h-2zM216 44h2v4h-2zM216 64h2v4h-2zM218 62h2v4h-2zM218 68h2v2h-2zM220 30h2v6h-2zM220 62h2v6h-2zM222 44h2v4h-2zM222 54h2v6h-2zM222 62h2v6h-2zM224 56h2v6h-2zM224 64h2v2h-2zM226 66h2v2h-2zM232 60h2v2h-2zM232 66h2v4h-2zM234 48h2v2h-2zM234 60h2v6h-2zM236 64h2v6h-2zM238 30h2v2h-2zM238 68h2v4h-2zM240 38h2v4h-2zM240 58h2v2h-2zM240 64h2v4h-2zM242 46h2v2h-2zM242 54h2v10h-2zM242 66h2v4h-2zM244 56h2v2h-2zM244 62h2v6h-2zM266 58h2v2h-2zM268 40h2v2h-2zM268 62h2v4h-2zM270 38h2v4h-2zM272 40h2v4h-2zM272 54h2v6h-2zM272 62h2v4h-2zM274 48h2v4h-2zM274 58h2v8h-2zM276 50h2v2h-2zM276 58h2v2h-2zM276 66h2v2h-2zM278 58h2v2h-2zM278 64h2v4h-2zM284 64h2v4h-2zM286 60h2v6h-2zM288 54h2v2h-2zM288 60h2v4h-2zM290 58h2v6h-2zM290 66h2v2h-2zM292 64h2v2h-2zM294 58h2v4h-2zM294 66h2v2h-2zM302 64h2v2h-2zM304 60h2v4h-2zM304 66h2v2h-2zM306 62h2v4h-2zM318 70h2v2h-2zM322 62h2v2h-2zM324 52h2v2h-2zM324 62h2v2h-2zM324 66h2v2h-2zM326 42h2v2h-2zM326 60h2v4h-2zM328 28h2v2h-2zM328 58h2v2h-2zM328 62h2v4h-2zM330 60h2v2h-2zM330 66h2v2h-2zM332 52h2v2h-2zM332 60h2v10h-2zM334 46h2v2h-2zM334 60h2v6h-2zM336 50h2v4h-2zM336 60h2v8h-2zM338 62h2v2h-2zM338 66h2v2h-2zM346 60h2v2h-2zM346 64h2v4h-2zM348 64h2v4h-2zM350 54h2v2h-2zM352 60h2v4h-2zM352 66h2v4h-2zM354 48h2v4h-2zM354 54h2v6h-2zM354 66h2v2h-2zM356 38h2v6h-2zM356 60h2v6h-2zM358 48h2v2h-2zM358 62h2v4h-2zM360 54h2v2h-2zM360 60h2v2h-2zM362 58h2v10h-2zM364 54h2v4h-2zM364 60h2v4h-2zM364 66h2v2h-2zM376 66h2v2h-2zM378 62h2v6h-2zM380 62h2v8h-2zM388 62h2v4h-2zM390 58h2v2h-2zM390 64h2v4h-2z" fill="#2ea2e0"/>
<path d="M0 60h2v2h-2zM8 62h2v2h-2zM10 52h2v2h-2zM12 54h2v10h-2zM16 58h2v2h-2zM18 46h2v2h-2zM18 50h2v2h-2zM18 56h2v4h-2zM18 62h2v2h-2zM18 66h2v2h-2zM20 60h2v4h-2zM26 60h2v2h-2zM30 62h2v4h-2zM42 58h2v6h-2zM44 54h2v6h-2zM44 62h2v2h-2zM46 62h2v4h-2zM48 52h2v2h-2zM48 60h2v6h-2zM50 60h2v2h-2zM60 62h2v2h-2zM66 60h2v4h-2zM68 62h2v2h-2zM72 46h2v2h-2zM72 50h2v4h-2zM72 60h2v2h-2zM74 48h2v6h-2zM78 38h2v8h-2zM78 50h2v10h-2zM80 34h2v6h-2zM80 54h2v6h-2zM82 48h2v2h-2zM82 52h2v2h-2zM84 52h2v2h-2zM84 56h2v4h-2zM86 38h2v2h-2zM86 42h2v2h-2zM86 60h2v4h-2zM88 60h2v4h-2zM96 60h2v4h-2zM98 40h2v4h-2zM98 58h2v2h-2zM98 62h2v4h-2zM106 52h2v2h-2zM106 58h2v2h-2zM106 66h2v2h-2zM108 36h2v4h-2zM108 42h2v6h-2zM108 52h2v2h-2zM108 64h2v4h-2zM110 18h2v2h-2zM110 54h2v6h-2zM110 66h2v2h-2zM114 44h2v2h-2zM114 48h2v2h-2zM114 52h2v2h-2zM114 56h2v2h-2zM114 60h2v2h-2zM116 30h2v2h-2zM116 36h2v2h-2zM116 50h2v14h-2zM118 32h2v4h-2zM118 54h2v6h-2zM118 62h2v4h-2zM120 56h2v8h-2zM122 36h2v2h-2zM122 42h2v2h-2zM122 52h2v14h-2zM124 42h2v2h-2zM124 52h2v8h-2zM126 56h2v6h-2zM128 62h2v2h-2zM140 38h2v6h-2zM140 48h2v4h-2zM140 54h2v2h-2zM144 48h2v4h-2zM144 54h2v6h-2zM146 48h2v2h-2zM146 64h2v2h-2zM148 42h2v2h-2zM148 62h2v4h-2zM150 54h2v2h-2zM150 58h2v2h-2zM150 64h2v4h-2zM152 66h2v2h-2zM158 52h2v4h-2zM158 58h2v2h-2zM160 46h2v2h-2zM160 54h2v8h-2zM162 42h2v6h-2zM162 54h2v4h-2zM168 38h2v2h-2zM168 42h2v2h-2zM168 50h2v4h-2zM168 56h2v4h-2zM170 26h2v4h-2zM170 50h2v2h-2zM170 58h2v2h-2zM172 36h2v6h-2zM172 52h2v2h-2zM174 42h2v4h-2zM174 56h2v6h-2zM176 24h2v2h-2zM176 54h2v6h-2zM178 58h2v4h-2zM180 38h2v4h-2zM180 60h2v2h-2zM182 32h2v6h-2zM182 52h2v6h-2zM184 24h2v4h-2zM184 30h2v2h-2zM184 48h2v2h-2zM184 54h2v2h-2zM186 36h2v4h-2zM186 64h2v2h-2zM188 40h2v4h-2zM188 60h2v2h-2zM192 52h2v4h-2zM192 58h2v4h-2zM194 40h2v2h-2zM194 54h2v8h-2zM196 30h2v2h-2zM196 56h2v12h-2zM198 32h2v2h-2zM198 36h2v2h-2zM198 58h2v12h-2zM200 40h2v2h-2zM200 44h2v2h-2zM200 60h2v4h-2zM204 44h2v4h-2zM204 54h2v6h-2zM206 54h2v6h-2zM208 50h2v4h-2zM208 56h2v4h-2zM210 40h2v6h-2zM210 58h2v2h-2zM210 62h2v4h-2zM212 42h2v4h-2zM212 60h2v2h-2zM214 52h2v2h-2zM214 62h2v2h-2zM216 60h2v4h-2zM218 32h2v2h-2zM218 36h2v2h-2zM218 58h2v4h-2zM218 66h2v2h-2zM220 36h2v2h-2zM220 42h2v6h-2zM220 56h2v6h-2zM222 48h2v6h-2zM222 60h2v2h-2zM224 62h2v2h-2zM232 62h2v2h-2zM234 50h2v2h-2zM236 34h2v8h-2zM236 58h2v6h-2zM238 32h2v4h-2zM238 62h2v6h-2zM240 42h2v2h-2zM240 52h2v6h-2zM240 60h2v4h-2zM244 58h2v4h-2zM268 42h2v2h-2zM268 48h2v6h-2zM268 56h2v6h-2zM272 44h2v4h-2zM272 60h2v2h-2zM274 46h2v2h-2zM274 52h2v6h-2zM276 52h2v6h-2zM276 60h2v6h-2zM278 60h2v4h-2zM288 56h2v4h-2zM304 64h2v2h-2zM324 54h2v2h-2zM324 58h2v4h-2zM326 40h2v2h-2zM326 44h2v4h-2zM328 30h2v8h-2zM328 54h2v4h-2zM328 60h2v2h-2zM330 44h2v4h-2zM330 58h2v2h-2zM332 54h2v2h-2zM332 58h2v2h-2zM334 58h2v2h-2zM336 54h2v6h-2zM338 64h2v2h-2zM346 62h2v2h-2zM348 54h2v10h-2zM350 56h2v4h-2zM350 64h2v2h-2zM354 52h2v2h-2zM354 60h2v6h-2zM356 44h2v2h-2zM356 48h2v12h-2zM358 50h2v2h-2zM358 56h2v6h-2zM360 56h2v4h-2zM364 58h2v2h-2zM378 60h2v2h-2zM390 60h2v4h-2z" fill="#25b2d6"/>
<path d="M10 58h2v2h-2zM18 52h2v4h-2zM30 58h2v4h-2zM44 60h2v2h-2zM46 60h2v2h-2zM48 54h2v6h-2zM50 52h2v2h-2zM72 54h2v6h-2zM74 54h2v6h-2zM78 48h2v2h-2zM80 40h2v2h-2zM80 44h2v4h-2zM80 50h2v4h-2zM82 50h2v2h-2zM84 54h2v2h-2zM86 40h2v2h-2zM86 44h2v4h-2zM86 58h2v2h-2zM90 64h2v2h-2zM98 54h2v4h-2zM98 60h2v2h-2zM106 54h2v4h-2zM108 40h2v2h-2zM108 48h2v4h-2zM108 60h2v4h-2zM110 20h2v2h-2zM110 44h2v4h-2zM110 52h2v2h-2zM114 46h2v2h-2zM114 50h2v2h-2zM114 54h2v2h-2zM114 58h2v2h-2zM116 32h2v4h-2zM116 38h2v2h-2zM116 48h2v2h-2zM118 60h2v2h-2zM120 54h2v2h-2zM122 38h2v4h-2zM122 44h2v2h-2zM122 48h2v4h-2zM124 44h2v8h-2zM140 44h2v4h-2zM144 52h2v2h-2zM146 50h2v2h-2zM146 56h2v8h-2zM148 44h2v4h-2zM148 56h2v6h-2zM150 56h2v2h-2zM150 60h2v2h-2zM158 56h2v2h-2zM160 48h2v6h-2zM162 36h2v2h-2zM162 50h2v4h-2zM168 40h2v2h-2zM168 48h2v2h-2zM168 54h2v2h-2zM170 48h2v2h-2zM170 52h2v6h-2zM172 48h2v4h-2zM172 56h2v4h-2zM174 38h2v4h-2zM174 46h2v2h-2zM174 54h2v2h-2zM176 26h2v4h-2zM176 52h2v2h-2zM178 24h2v2h-2zM178 50h2v8h-2zM180 42h2v4h-2zM180 48h2v2h-2zM180 52h2v2h-2zM180 58h2v2h-2zM182 38h2v4h-2zM184 28h2v2h-2zM184 32h2v4h-2zM184 42h2v4h-2zM186 40h2v6h-2zM186 50h2v12h-2zM188 44h2v4h-2zM188 52h2v2h-2zM192 56h2v2h-2zM194 42h2v4h-2zM196 32h2v2h-2zM196 54h2v2h-2zM198 34h2v2h-2zM198 38h2v2h-2zM198 54h2v4h-2zM200 46h2v14h-2zM204 48h2v2h-2zM204 52h2v2h-2zM208 54h2v2h-2zM210 46h2v2h-2zM210 52h2v6h-2zM210 60h2v2h-2zM212 46h2v2h-2zM212 50h2v2h-2zM212 58h2v2h-2zM214 60h2v2h-2zM216 48h2v2h-2zM216 54h2v2h-2zM218 34h2v2h-2zM218 38h2v4h-2zM218 48h2v10h-2zM220 38h2v4h-2zM220 54h2v2h-2zM232 64h2v2h-2zM234 52h2v2h-2zM234 58h2v2h-2zM236 52h2v6h-2zM238 60h2v2h-2zM240 44h2v8h-2zM242 48h2v2h-2zM268 44h2v4h-2zM268 54h2v2h-2zM272 52h2v2h-2zM322 64h2v2h-2zM324 56h2v2h-2zM326 56h2v4h-2zM328 38h2v4h-2zM328 52h2v2h-2zM330 48h2v2h-2zM330 54h2v4h-2zM332 56h2v2h-2zM334 48h2v2h-2zM334 54h2v4h-2zM350 60h2v4h-2zM356 46h2v2h-2zM358 52h2v4h-2z" fill="#34bcb4"/>
<path d="M10 54h2v4h-2zM50 58h2v2h-2zM78 46h2v2h-2zM80 42h2v2h-2zM80 48h2v2h-2zM86 52h2v2h-2zM86 56h2v2h-2zM98 44h2v4h-2zM98 50h2v2h-2zM108 54h2v6h-2zM110 22h2v6h-2zM110 36h2v8h-2zM110 48h2v4h-2zM116 40h2v2h-2zM116 44h2v4h-2zM118 36h2v2h-2zM118 42h2v2h-2zM118 46h2v2h-2zM122 46h2v2h-2zM146 52h2v4h-2zM148 52h2v4h-2zM150 62h2v2h-2zM162 38h2v2h-2zM162 48h2v2h-2zM168 44h2v4h-2zM170 36h2v6h-2zM172 42h2v2h-2zM172 54h2v2h-2zM174 48h2v6h-2zM176 30h2v6h-2zM176 38h2v2h-2zM176 48h2v2h-2zM178 26h2v8h-2zM180 46h2v2h-2zM180 50h2v2h-2zM180 54h2v4h-2zM182 42h2v2h-2zM182 46h2v6h-2zM184 46h2v2h-2zM186 46h2v4h-2zM188 48h2v4h-2zM194 46h2v2h-2zM196 34h2v4h-2zM196 52h2v2h-2zM198 40h2v2h-2zM198 50h2v4h-2zM204 50h2v2h-2zM210 48h2v2h-2zM212 48h2v2h-2zM212 52h2v6h-2zM214 58h2v2h-2zM216 50h2v2h-2zM216 56h2v4h-2zM220 48h2v6h-2zM234 54h2v4h-2zM236 50h2v2h-2zM238 36h2v2h-2zM238 40h2v2h-2zM238 52h2v2h-2zM238 58h2v2h-2zM242 50h2v4h-2zM272 48h2v4h-2zM326 54h2v2h-2zM328 42h2v10h-2zM330 50h2v4h-2zM334 50h2v2h-2z" fill="#5cc486"/>
<path d="M50 54h2v4h-2zM86 54h2v2h-2zM88 54h2v6h-2zM98 52h2v2h-2zM110 14h2v4h-2zM110 28h2v2h-2zM116 42h2v2h-2zM118 38h2v4h-2zM118 48h2v6h-2zM148 48h2v2h-2zM162 40h2v2h-2zM170 30h2v4h-2zM170 42h2v6h-2zM172 44h2v4h-2zM176 40h2v8h-2zM176 50h2v2h-2zM178 34h2v2h-2zM178 46h2v4h-2zM182 44h2v2h-2zM184 40h2v2h-2zM194 48h2v6h-2zM196 38h2v2h-2zM196 42h2v10h-2zM198 42h2v8h-2zM210 50h2v2h-2zM214 54h2v4h-2zM216 52h2v2h-2zM218 44h2v2h-2zM236 48h2v2h-2zM238 38h2v2h-2zM238 48h2v4h-2zM238 54h2v4h-2zM326 50h2v4h-2zM334 52h2v2h-2z" fill="#94cc52"/>
<path d="M86 50h2v2h-2zM98 48h2v2h-2zM118 44h2v2h-2zM148 50h2v2h-2zM170 34h2v2h-2zM176 36h2v2h-2zM178 42h2v4h-2zM184 36h2v4h-2zM196 40h2v2h-2zM218 42h2v2h-2zM236 44h2v2h-2zM238 46h2v2h-2zM326 48h2v2h-2z" fill="#c8d23c"/>
<path d="M86 48h2v2h-2zM110 30h2v6h-2zM178 36h2v6h-2zM218 46h2v2h-2zM236 42h2v2h-2zM236 46h2v2h-2zM238 42h2v4h-2z" fill="#ecd03a"/>
<rect x="0" y="56" width="4" height="15" fill="#e2c040"/>
</g>
<g filter="url(#soft)" fill="none" stroke="#5c92d8" stroke-opacity="0.32" stroke-width="1">
<path d="M0.0,14.0 L6.0,15.3 L12.0,16.2 L18.0,16.6 L24.0,16.4 L30.0,15.9 L36.0,15.3 L42.0,15.0 L48.0,15.0 L54.0,15.4 L60.0,15.8 L66.0,15.9 L72.0,15.5 L78.0,14.6 L84.0,13.3 L90.0,12.1 L96.0,11.2 L102.0,10.9 L108.0,11.2 L114.0,11.9 L120.0,12.7 L126.0,13.3 L132.0,13.5 L138.0,13.3 L144.0,13.0 L150.0,12.9 L156.0,13.3 L162.0,14.1 L168.0,15.2 L174.0,16.4 L180.0,17.2 L186.0,17.4 L192.0,16.9 L198.0,16.0 L204.0,15.0 L210.0,14.2 L216.0,13.8 L222.0,13.8 L228.0,14.1 L234.0,14.2 L240.0,14.0 L246.0,13.4 L252.0,12.4 L258.0,11.4 L264.0,10.8 L270.0,10.7 L276.0,11.3 L282.0,12.3 L288.0,13.5 L294.0,14.5 L300.0,15.0 L306.0,15.0 L312.0,14.8 L318.0,14.5 L324.0,14.6 L330.0,15.0 L336.0,15.8 L342.0,16.5 L348.0,17.0 L354.0,17.0 L360.0,16.3 L366.0,15.2 L372.0,13.9 L378.0,12.8 L384.0,12.2 L390.0,12.1 L396.0,12.5"/>
<path d="M0.0,28.7 L6.0,28.0 L12.0,27.3 L18.0,26.8 L24.0,26.6 L30.0,26.8 L36.0,27.1 L42.0,27.2 L48.0,26.8 L54.0,26.0 L60.0,24.8 L66.0,23.7 L72.0,22.9 L78.0,22.7 L84.0,23.1 L90.0,24.0 L96.0,24.9 L102.0,25.7 L108.0,26.1 L114.0,26.0 L120.0,25.8 L126.0,25.6 L132.0,25.9 L138.0,26.6 L144.0,27.6 L150.0,28.6 L156.0,29.3 L162.0,29.3 L168.0,28.8 L174.0,27.8 L180.0,26.6 L186.0,25.7 L192.0,25.2 L198.0,25.1 L204.0,25.4 L210.0,25.6 L216.0,25.5 L222.0,25.0 L228.0,24.2 L234.0,23.4 L240.0,22.9 L246.0,22.9 L252.0,23.6 L258.0,24.7 L264.0,26.0 L270.0,27.1 L276.0,27.7 L282.0,27.7 L288.0,27.4 L294.0,27.1 L300.0,26.9 L306.0,27.1 L312.0,27.7 L318.0,28.3 L324.0,28.7 L330.0,28.5 L336.0,27.8 L342.0,26.6 L348.0,25.3 L354.0,24.2 L360.0,23.6 L366.0,23.6 L372.0,24.0 L378.0,24.6 L384.0,25.0 L390.0,25.0 L396.0,24.7"/>
<path d="M0.0,37.9 L6.0,37.4 L12.0,37.3 L18.0,37.5 L24.0,37.8 L30.0,37.7 L36.0,37.2 L42.0,36.2 L48.0,35.1 L54.0,34.1 L60.0,33.6 L66.0,33.8 L72.0,34.5 L78.0,35.6 L84.0,36.6 L90.0,37.3 L96.0,37.5 L102.0,37.4 L108.0,37.1 L114.0,37.1 L120.0,37.4 L126.0,38.2 L132.0,39.1 L138.0,40.0 L144.0,40.3 L150.0,40.0 L156.0,39.1 L162.0,37.9 L168.0,36.8 L174.0,36.0 L180.0,35.7 L186.0,35.8 L192.0,36.1 L198.0,36.3 L204.0,36.2 L210.0,35.6 L216.0,34.9 L222.0,34.3 L228.0,34.0 L234.0,34.4 L240.0,35.4 L246.0,36.7 L252.0,37.9 L258.0,38.8 L264.0,39.1 L270.0,39.0 L276.0,38.5 L282.0,38.1 L288.0,38.0 L294.0,38.3 L300.0,38.8 L306.0,39.2 L312.0,39.4 L318.0,38.9 L324.0,38.0 L330.0,36.7 L336.0,35.4 L342.0,34.5 L348.0,34.2 L354.0,34.5 L360.0,35.1 L366.0,35.7 L372.0,36.1 L378.0,36.1 L384.0,35.8 L390.0,35.5 L396.0,35.4"/>
<path d="M0.0,48.4 L6.0,48.8 L12.0,48.6 L18.0,48.1 L24.0,47.4 L30.0,46.9 L36.0,46.8 L42.0,47.1 L48.0,47.4 L54.0,47.6 L60.0,47.3 L66.0,46.5 L72.0,45.3 L78.0,44.1 L84.0,43.1 L90.0,42.8 L96.0,43.0 L102.0,43.8 L108.0,44.7 L114.0,45.4 L120.0,45.7 L126.0,45.7 L132.0,45.4 L138.0,45.3 L144.0,45.5 L150.0,46.2 L156.0,47.2 L162.0,48.3 L168.0,49.2 L174.0,49.4 L180.0,49.0 L186.0,48.1 L192.0,47.0 L198.0,46.1 L204.0,45.6 L210.0,45.5 L216.0,45.7 L222.0,45.9 L228.0,45.8 L234.0,45.3 L240.0,44.4 L246.0,43.5 L252.0,42.9 L258.0,42.7 L264.0,43.3 L270.0,44.3 L276.0,45.5 L282.0,46.6 L288.0,47.2 L294.0,47.4 L300.0,47.1 L306.0,46.8 L312.0,46.7 L318.0,47.0 L324.0,47.6 L330.0,48.4 L336.0,48.9 L342.0,48.9 L348.0,48.2 L354.0,47.1 L360.0,45.8 L366.0,44.7 L372.0,44.0 L378.0,43.8 L384.0,44.1 L390.0,44.6 L396.0,45.0"/>
</g>
<g filter="url(#soft)" fill="none" stroke="#cbbde8" stroke-opacity="0.5" stroke-width="0.8">
<path d="M0.0,66.0 L2.5,60.1 L5.6,61.8 L9.1,66.7 L13.6,72.0 L19.2,69.6 L23.2,74.7 L27.3,73.5 L30.0,79.9 L33.7,81.7 L39.3,84.0 L45.2,84.0 L50.7,84.0 L56.6,78.7 L59.3,76.6 L63.6,71.8 L69.1,70.0 L72.1,72.6 L78.0,73.6 L82.2,77.9 L85.3,75.3 L89.4,76.5 L93.1,71.7 L96.4,67.6 L99.7,70.6 L105.0,71.0 L110.8,70.0 L114.9,65.2 L119.6,60.3 L123.0,65.2 L128.7,69.7 L132.7,72.5 L138.1,76.2 L143.3,79.7 L146.3,76.1 L151.2,75.3 L153.9,76.2 L157.1,69.8 L161.7,63.5 L164.5,59.3 L169.9,56.2 L175.6,56.0 L179.8,62.1 L184.8,63.0 L189.2,60.1 L194.7,56.0 L197.8,56.0 L201.4,56.0 L205.1,56.8 L207.6,63.1 L212.5,68.9 L215.2,68.8 L218.2,73.8 L224.1,71.3 L228.6,74.5 L232.9,74.5 L236.2,71.6 L241.4,66.7 L244.0,67.9 L248.9,73.5 L253.9,66.8 L256.5,72.2 L262.0,74.9 L267.6,73.1 L271.0,68.5 L276.4,62.2 L280.5,69.0 L285.7,67.6 L289.8,64.4 L293.8,59.7 L298.3,63.5 L301.9,62.2 L305.7,69.1 L309.0,72.1 L313.8,69.8 L317.9,68.4 L323.6,71.8 L327.2,74.0 L331.6,75.9 L334.5,70.2 L337.7,69.1 L342.0,65.9 L344.6,64.6 L347.5,67.9 L352.0,66.1 L357.2,70.1 L361.0,71.6 L365.4,75.9 L368.2,70.0 L372.2,74.1 L376.6,72.3 L379.8,71.0 L383.3,71.4 L386.4,75.7 L389.1,69.8"/>
<path d="M19.0,59.2 L21.4,64.6 L22.4,72.0 L24.8,78.5 L28.0,84.1 L32.4,91.3 L36.3,83.7 L39.0,77.0 L39.8,70.8 L43.2,65.6 L46.8,58.5"/>
<path d="M128.6,50.3 L128.3,57.3 L131.0,64.6 L133.5,71.0 L135.7,77.2 L140.7,85.2 L140.3,78.4 L145.8,70.9 L147.7,64.6 L148.6,56.6 L150.8,48.4"/>
<path d="M240.8,50.1 L245.1,61.7 L246.0,71.7 L246.2,85.0 L251.7,96.3 L256.3,107.0 L262.0,96.2 L264.2,84.0 L264.8,72.5 L267.2,61.7 L269.4,48.5"/>
<path d="M298.8,55.1 L299.3,61.4 L301.9,68.9 L302.6,74.5 L307.6,81.0 L310.7,87.5 L316.3,81.3 L317.2,75.6 L320.5,68.9 L322.0,60.3 L324.7,55.3"/>
<path d="M372.1,62.2 L374.5,66.2 L375.7,70.7 L375.4,74.5 L376.0,79.2 L381.3,82.8 L382.2,78.0 L386.0,74.4 L386.8,69.7 L387.6,65.9 L389.9,61.8"/>
<path d="M83.4,50.7 L84.7,55.4 L86.6,61.0 L85.5,65.5 L87.2,71.1 L88.8,74.5 L94.2,71.2 L95.1,66.3 L96.7,61.3 L96.1,56.4 L98.8,51.0"/>
</g>
</g></g>
<rect x="824.4" y="484.2" width="23.7" height="147.6" fill="url(#cb3)" stroke="#3a3a20" stroke-opacity="0.28" stroke-width="0.9"/>
<text x="853.1" y="506.6" font-size="14.4" fill="#5a5a5a" textLength="22.0" lengthAdjust="spacingAndGlyphs">0.6</text>
<text x="853.1" y="539.6" font-size="14.4" fill="#5a5a5a" textLength="22.0" lengthAdjust="spacingAndGlyphs">0.4</text>
<text x="853.1" y="572.0" font-size="14.4" fill="#5a5a5a" textLength="22.0" lengthAdjust="spacingAndGlyphs">0.2</text>
<text x="853.1" y="603.7" font-size="14.4" fill="#5a5a5a" textLength="8.8" lengthAdjust="spacingAndGlyphs">0</text>
<text x="812.7" y="473.6" font-size="24.5" fill="#111" textLength="60.5" lengthAdjust="spacingAndGlyphs">&lt;s&#8217;<tspan dy="-7.5" font-size="17.5">2</tspan><tspan dy="7.5">&gt;</tspan></text>
<text x="403.40000000000003" y="519.5" font-size="15.6" fill="#5a5a5a" text-anchor="end" textLength="19.4" lengthAdjust="spacingAndGlyphs">80</text>
<text x="403.40000000000003" y="549.0" font-size="15.6" fill="#5a5a5a" text-anchor="end" textLength="19.4" lengthAdjust="spacingAndGlyphs">60</text>
<text x="403.40000000000003" y="578.6" font-size="15.6" fill="#5a5a5a" text-anchor="end" textLength="19.4" lengthAdjust="spacingAndGlyphs">40</text>
<text x="403.40000000000003" y="608.1" font-size="15.6" fill="#5a5a5a" text-anchor="end" textLength="19.4" lengthAdjust="spacingAndGlyphs">20</text>
<text x="409.1" y="651.8" font-size="15.6" fill="#5a5a5a" text-anchor="middle" textLength="28.2" lengthAdjust="spacingAndGlyphs">100</text>
<text x="540.0" y="651.8" font-size="15.6" fill="#5a5a5a" text-anchor="middle" textLength="28.2" lengthAdjust="spacingAndGlyphs">150</text>
<text x="670.8" y="651.8" font-size="15.6" fill="#5a5a5a" text-anchor="middle" textLength="28.2" lengthAdjust="spacingAndGlyphs">200</text>
<text x="801.7" y="651.8" font-size="15.6" fill="#5a5a5a" text-anchor="middle" textLength="28.2" lengthAdjust="spacingAndGlyphs">250</text>
<text x='573.4' y='672.1' font-size='20' fill='#666' font-family='"Liberation Serif", serif' textLength='62' lengthAdjust='spacingAndGlyphs'><tspan font-style='italic'>t</tspan> (min)</text>
<text x='374.0' y='581.0' font-size='19' fill='#6a6a6a' font-family='"Liberation Serif", serif' textLength='46' lengthAdjust='spacingAndGlyphs' transform='rotate(-90 374.0 581.0)'><tspan font-style='italic'>z</tspan> (m)</text>
<rect x="444.8" y="476.3" width="3.2" height="1.2" fill="#555"/>
<line x1="111.6" y1="780.3" x2="111.6" y2="1063.7" stroke="#4d4d4d" stroke-width="1.8"/>
<line x1="111.6" y1="1062.7" x2="121.39999999999999" y2="1062.7" stroke="#4d4d4d" stroke-width="1.7"/>
<line x1="111.6" y1="1044.2" x2="116.89999999999999" y2="1044.2" stroke="#4d4d4d" stroke-width="1.7"/>
<line x1="111.6" y1="1026.8" x2="116.89999999999999" y2="1026.8" stroke="#4d4d4d" stroke-width="1.7"/>
<line x1="111.6" y1="1010.4" x2="116.89999999999999" y2="1010.4" stroke="#4d4d4d" stroke-width="1.7"/>
<line x1="111.6" y1="994.9" x2="116.89999999999999" y2="994.9" stroke="#4d4d4d" stroke-width="1.7"/>
<line x1="111.6" y1="980.1" x2="121.39999999999999" y2="980.1" stroke="#4d4d4d" stroke-width="1.7"/>
<line x1="111.6" y1="966.1" x2="116.89999999999999" y2="966.1" stroke="#4d4d4d" stroke-width="1.7"/>
<line x1="111.6" y1="952.8" x2="116.89999999999999" y2="952.8" stroke="#4d4d4d" stroke-width="1.7"/>
<line x1="111.6" y1="940.0" x2="116.89999999999999" y2="940.0" stroke="#4d4d4d" stroke-width="1.7"/>
<line x1="111.6" y1="927.8" x2="116.89999999999999" y2="927.8" stroke="#4d4d4d" stroke-width="1.7"/>
<line x1="111.6" y1="916.1" x2="121.39999999999999" y2="916.1" stroke="#4d4d4d" stroke-width="1.7"/>
<line x1="111.6" y1="904.8" x2="116.89999999999999" y2="904.8" stroke="#4d4d4d" stroke-width="1.7"/>
<line x1="111.6" y1="894.0" x2="116.89999999999999" y2="894.0" stroke="#4d4d4d" stroke-width="1.7"/>
<line x1="111.6" y1="883.6" x2="116.89999999999999" y2="883.6" stroke="#4d4d4d" stroke-width="1.7"/>
<line x1="111.6" y1="873.5" x2="116.89999999999999" y2="873.5" stroke="#4d4d4d" stroke-width="1.7"/>
<line x1="111.6" y1="863.8" x2="121.39999999999999" y2="863.8" stroke="#4d4d4d" stroke-width="1.7"/>
<line x1="111.6" y1="854.4" x2="116.89999999999999" y2="854.4" stroke="#4d4d4d" stroke-width="1.7"/>
<line x1="111.6" y1="845.2" x2="116.89999999999999" y2="845.2" stroke="#4d4d4d" stroke-width="1.7"/>
<line x1="111.6" y1="836.4" x2="116.89999999999999" y2="836.4" stroke="#4d4d4d" stroke-width="1.7"/>
<line x1="111.6" y1="827.8" x2="116.89999999999999" y2="827.8" stroke="#4d4d4d" stroke-width="1.7"/>
<line x1="111.6" y1="819.5" x2="121.39999999999999" y2="819.5" stroke="#4d4d4d" stroke-width="1.7"/>
<line x1="111.6" y1="811.4" x2="116.89999999999999" y2="811.4" stroke="#4d4d4d" stroke-width="1.7"/>
<line x1="111.6" y1="803.6" x2="116.89999999999999" y2="803.6" stroke="#4d4d4d" stroke-width="1.7"/>
<line x1="111.6" y1="795.9" x2="116.89999999999999" y2="795.9" stroke="#4d4d4d" stroke-width="1.7"/>
<line x1="111.6" y1="788.5" x2="116.89999999999999" y2="788.5" stroke="#4d4d4d" stroke-width="1.7"/>
<line x1="111.6" y1="781.2" x2="121.39999999999999" y2="781.2" stroke="#4d4d4d" stroke-width="1.7"/>
<text x="101.4" y="1073.7" font-size="26.3" fill="#454545" text-anchor="end">30</text>
<text x="101.4" y="991.1" font-size="26.3" fill="#454545" text-anchor="end">40</text>
<text x="101.4" y="927.1" font-size="26.3" fill="#454545" text-anchor="end">50</text>
<text x="101.4" y="874.8" font-size="26.3" fill="#454545" text-anchor="end">60</text>
<text x="101.4" y="830.5" font-size="26.3" fill="#454545" text-anchor="end">70</text>
<text x="101.4" y="792.2" font-size="26.3" fill="#454545" text-anchor="end">80</text>
<line x1="110.5" y1="1062.7" x2="1060.8" y2="1062.7" stroke="#4d4d4d" stroke-width="2.2"/>
<text x="109.4" y="1100.4" font-size="26.5" fill="#454545" text-anchor="middle">0.02</text>
<line x1="206.4" y1="1062.7" x2="206.4" y2="1053.1" stroke="#4d4d4d" stroke-width="1.7"/>
<text x="204.2" y="1100.4" font-size="26.5" fill="#454545" text-anchor="middle">0.03</text>
<line x1="301.3" y1="1062.7" x2="301.3" y2="1053.1" stroke="#4d4d4d" stroke-width="1.7"/>
<text x="299.1" y="1100.4" font-size="26.5" fill="#454545" text-anchor="middle">0.04</text>
<line x1="396.1" y1="1062.7" x2="396.1" y2="1053.1" stroke="#4d4d4d" stroke-width="1.7"/>
<text x="393.9" y="1100.4" font-size="26.5" fill="#454545" text-anchor="middle">0.05</text>
<line x1="490.9" y1="1062.7" x2="490.9" y2="1053.1" stroke="#4d4d4d" stroke-width="1.7"/>
<text x="488.7" y="1100.4" font-size="26.5" fill="#454545" text-anchor="middle">0.06</text>
<line x1="585.8" y1="1062.7" x2="585.8" y2="1053.1" stroke="#4d4d4d" stroke-width="1.7"/>
<text x="583.5" y="1100.4" font-size="26.5" fill="#454545" text-anchor="middle">0.07</text>
<line x1="680.6" y1="1062.7" x2="680.6" y2="1053.1" stroke="#4d4d4d" stroke-width="1.7"/>
<text x="678.4" y="1100.4" font-size="26.5" fill="#454545" text-anchor="middle">0.08</text>
<line x1="775.4" y1="1062.7" x2="775.4" y2="1053.1" stroke="#4d4d4d" stroke-width="1.7"/>
<text x="773.2" y="1100.4" font-size="26.5" fill="#454545" text-anchor="middle">0.09</text>
<line x1="870.2" y1="1062.7" x2="870.2" y2="1053.1" stroke="#4d4d4d" stroke-width="1.7"/>
<text x="868.0" y="1100.4" font-size="26.5" fill="#454545" text-anchor="middle">0.1</text>
<line x1="965.1" y1="1062.7" x2="965.1" y2="1053.1" stroke="#4d4d4d" stroke-width="1.7"/>
<text x="962.9" y="1100.4" font-size="26.5" fill="#454545" text-anchor="middle">0.11</text>
<line x1="1059.9" y1="1062.7" x2="1059.9" y2="1053.1" stroke="#4d4d4d" stroke-width="1.7"/>
<text x="1057.7" y="1100.4" font-size="26.5" fill="#454545" text-anchor="middle">0.12</text>
<text x="59.9" y="1023.7" font-size="28.8" fill="#454545" textLength="82.9" lengthAdjust="spacingAndGlyphs" transform="rotate(-90 59.9 1023.7)">Mixing</text>
<text x="59.9" y="939.7" font-size="28.8" fill="#454545" textLength="57.0" lengthAdjust="spacingAndGlyphs" transform="rotate(-90 59.9 939.7)">layer</text>
<text x="59.9" y="878.7" font-size="28.8" fill="#454545" textLength="53.1" lengthAdjust="spacingAndGlyphs" transform="rotate(-90 59.9 878.7)">(m)</text>
<text x="563.2" y="1135.7" font-size="29.4" fill="#454545">Fr</text>
<text x="591.6" y="1150.2" font-size="24" fill="#454545">L</text>
<ellipse cx="428.1" cy="956.5" rx="199.6" ry="49" fill="none" stroke="#1f80c4" stroke-width="2" transform="rotate(-43.5 428.1 956.5)"/>
<ellipse cx="654.8" cy="931.2" rx="273" ry="50" fill="none" stroke="#ee1c25" stroke-width="2" transform="rotate(-30.1 654.8 931.2)"/>
<polygon points="320.2,1051.7 328.8,1062.7 320.2,1073.7 311.6,1062.7" fill="#ee1c25"/>
<polygon points="519.4,852.8 528.0,863.8 519.4,874.8 510.8,863.8" fill="#69bd45"/>
<circle cx="519.4" cy="980.1" r="9.1" fill="#3953a4"/>
<circle cx="595.2" cy="916.1" r="9.1" fill="#000000"/>
<circle cx="813.3" cy="863.8" r="9.1" fill="#b9529f"/>
<circle cx="453.0" cy="1062.7" r="9.1" fill="#6dcfe0"/>
<text x="193.6" y="980.6" font-size="36" fill="#4472c4" textLength="93" lengthAdjust="spacingAndGlyphs">Wide</text>
<text x="194.2" y="1032.5" font-size="36" fill="#4472c4" textLength="97.5" lengthAdjust="spacingAndGlyphs">Ridge</text>
<text x="757" y="975" font-size="36" fill="#ee1c25" textLength="134" lengthAdjust="spacingAndGlyphs">Narrow</text>
<text x="757.5" y="1027.2" font-size="36" fill="#ee1c25" textLength="98.5" lengthAdjust="spacingAndGlyphs">Ridge</text>
<rect x="904.8" y="849.4" width="130.2" height="195.8" fill="#fff" stroke="#4d4d4d" stroke-width="1.7"/>
<polygon points="957.1,857.3 965.7,868.3 957.1,879.3 948.5,868.3" fill="#ee1c25"/>
<text x="1005.3" y="876.9" font-size="23.6" fill="#1a1a1a">A</text>
<polygon points="957.1,889.0 965.7,900.0 957.1,911.0 948.5,900.0" fill="#69bd45"/>
<text x="1005.3" y="908.6" font-size="23.6" fill="#1a1a1a">B</text>
<circle cx="957.1" cy="931.3" r="9.1" fill="#3953a4"/>
<text x="1005.3" y="939.9" font-size="23.6" fill="#1a1a1a">C</text>
<circle cx="957.1" cy="962.9" r="9.1" fill="#b9529f"/>
<text x="1005.3" y="971.5" font-size="23.6" fill="#1a1a1a">D</text>
<circle cx="957.1" cy="994.6" r="9.1" fill="#6dcfe0"/>
<text x="1005.3" y="1003.2" font-size="23.6" fill="#1a1a1a">F</text>
<circle cx="957.1" cy="1026.2" r="9.1" fill="#000000"/>
<text x="1005.3" y="1034.8" font-size="23.6" fill="#1a1a1a">G</text>
<line x1="111.6" y1="1195.5" x2="111.6" y2="1478.6" stroke="#4d4d4d" stroke-width="1.8"/>
<line x1="111.6" y1="1447.2" x2="121.39999999999999" y2="1447.2" stroke="#4d4d4d" stroke-width="1.7"/>
<line x1="111.6" y1="1421.7" x2="116.89999999999999" y2="1421.7" stroke="#4d4d4d" stroke-width="1.7"/>
<line x1="111.6" y1="1400.1" x2="116.89999999999999" y2="1400.1" stroke="#4d4d4d" stroke-width="1.7"/>
<line x1="111.6" y1="1381.4" x2="116.89999999999999" y2="1381.4" stroke="#4d4d4d" stroke-width="1.7"/>
<line x1="111.6" y1="1365.0" x2="116.89999999999999" y2="1365.0" stroke="#4d4d4d" stroke-width="1.7"/>
<line x1="111.6" y1="1350.2" x2="121.39999999999999" y2="1350.2" stroke="#4d4d4d" stroke-width="1.7"/>
<line x1="111.6" y1="1336.9" x2="116.89999999999999" y2="1336.9" stroke="#4d4d4d" stroke-width="1.7"/>
<line x1="111.6" y1="1324.7" x2="116.89999999999999" y2="1324.7" stroke="#4d4d4d" stroke-width="1.7"/>
<line x1="111.6" y1="1313.5" x2="116.89999999999999" y2="1313.5" stroke="#4d4d4d" stroke-width="1.7"/>
<line x1="111.6" y1="1303.1" x2="116.89999999999999" y2="1303.1" stroke="#4d4d4d" stroke-width="1.7"/>
<line x1="111.6" y1="1293.4" x2="121.39999999999999" y2="1293.4" stroke="#4d4d4d" stroke-width="1.7"/>
<line x1="111.6" y1="1284.4" x2="116.89999999999999" y2="1284.4" stroke="#4d4d4d" stroke-width="1.7"/>
<line x1="111.6" y1="1275.9" x2="116.89999999999999" y2="1275.9" stroke="#4d4d4d" stroke-width="1.7"/>
<line x1="111.6" y1="1267.9" x2="116.89999999999999" y2="1267.9" stroke="#4d4d4d" stroke-width="1.7"/>
<line x1="111.6" y1="1260.3" x2="116.89999999999999" y2="1260.3" stroke="#4d4d4d" stroke-width="1.7"/>
<line x1="111.6" y1="1253.2" x2="121.39999999999999" y2="1253.2" stroke="#4d4d4d" stroke-width="1.7"/>
<line x1="111.6" y1="1246.3" x2="116.89999999999999" y2="1246.3" stroke="#4d4d4d" stroke-width="1.7"/>
<line x1="111.6" y1="1239.8" x2="116.89999999999999" y2="1239.8" stroke="#4d4d4d" stroke-width="1.7"/>
<line x1="111.6" y1="1233.6" x2="116.89999999999999" y2="1233.6" stroke="#4d4d4d" stroke-width="1.7"/>
<line x1="111.6" y1="1227.6" x2="116.89999999999999" y2="1227.6" stroke="#4d4d4d" stroke-width="1.7"/>
<line x1="111.6" y1="1221.9" x2="121.39999999999999" y2="1221.9" stroke="#4d4d4d" stroke-width="1.7"/>
<line x1="111.6" y1="1216.4" x2="116.89999999999999" y2="1216.4" stroke="#4d4d4d" stroke-width="1.7"/>
<line x1="111.6" y1="1211.2" x2="116.89999999999999" y2="1211.2" stroke="#4d4d4d" stroke-width="1.7"/>
<line x1="111.6" y1="1206.1" x2="116.89999999999999" y2="1206.1" stroke="#4d4d4d" stroke-width="1.7"/>
<line x1="111.6" y1="1201.1" x2="116.89999999999999" y2="1201.1" stroke="#4d4d4d" stroke-width="1.7"/>
<line x1="111.6" y1="1196.4" x2="121.39999999999999" y2="1196.4" stroke="#4d4d4d" stroke-width="1.7"/>
<text x="101.4" y="1457.8" font-size="26.3" fill="#454545" text-anchor="end">5</text>
<text x="101.4" y="1360.8" font-size="26.3" fill="#454545" text-anchor="end">10</text>
<text x="101.4" y="1304.0" font-size="26.3" fill="#454545" text-anchor="end">15</text>
<text x="101.4" y="1263.8" font-size="26.3" fill="#454545" text-anchor="end">20</text>
<text x="101.4" y="1232.5" font-size="26.3" fill="#454545" text-anchor="end">25</text>
<text x="101.4" y="1207.0" font-size="26.3" fill="#454545" text-anchor="end">30</text>
<line x1="110.7" y1="1477.8" x2="1060.8" y2="1477.8" stroke="#4d4d4d" stroke-width="1.8"/>
<text x="109.4" y="1514.3" font-size="26.5" fill="#454545" text-anchor="middle">0.02</text>
<line x1="206.4" y1="1477.8" x2="206.4" y2="1468.2" stroke="#4d4d4d" stroke-width="1.7"/>
<text x="204.2" y="1514.3" font-size="26.5" fill="#454545" text-anchor="middle">0.03</text>
<line x1="301.3" y1="1477.8" x2="301.3" y2="1468.2" stroke="#4d4d4d" stroke-width="1.7"/>
<text x="299.1" y="1514.3" font-size="26.5" fill="#454545" text-anchor="middle">0.04</text>
<line x1="396.1" y1="1477.8" x2="396.1" y2="1468.2" stroke="#4d4d4d" stroke-width="1.7"/>
<text x="393.9" y="1514.3" font-size="26.5" fill="#454545" text-anchor="middle">0.05</text>
<line x1="490.9" y1="1477.8" x2="490.9" y2="1468.2" stroke="#4d4d4d" stroke-width="1.7"/>
<text x="488.7" y="1514.3" font-size="26.5" fill="#454545" text-anchor="middle">0.06</text>
<line x1="585.8" y1="1477.8" x2="585.8" y2="1468.2" stroke="#4d4d4d" stroke-width="1.7"/>
<text x="583.5" y="1514.3" font-size="26.5" fill="#454545" text-anchor="middle">0.07</text>
<line x1="680.6" y1="1477.8" x2="680.6" y2="1468.2" stroke="#4d4d4d" stroke-width="1.7"/>
<text x="678.4" y="1514.3" font-size="26.5" fill="#454545" text-anchor="middle">0.08</text>
<line x1="775.4" y1="1477.8" x2="775.4" y2="1468.2" stroke="#4d4d4d" stroke-width="1.7"/>
<text x="773.2" y="1514.3" font-size="26.5" fill="#454545" text-anchor="middle">0.09</text>
<line x1="870.2" y1="1477.8" x2="870.2" y2="1468.2" stroke="#4d4d4d" stroke-width="1.7"/>
<text x="868.0" y="1514.3" font-size="26.5" fill="#454545" text-anchor="middle">0.1</text>
<line x1="965.1" y1="1477.8" x2="965.1" y2="1468.2" stroke="#4d4d4d" stroke-width="1.7"/>
<text x="962.9" y="1514.3" font-size="26.5" fill="#454545" text-anchor="middle">0.11</text>
<line x1="1059.9" y1="1477.8" x2="1059.9" y2="1468.2" stroke="#4d4d4d" stroke-width="1.7"/>
<text x="1057.7" y="1514.3" font-size="26.5" fill="#454545" text-anchor="middle">0.12</text>
<text x="59.9" y="1415.3" font-size="28.8" fill="#454545" textLength="85.8" lengthAdjust="spacingAndGlyphs" transform="rotate(-90 59.9 1415.3)">Period</text>
<text x="59.9" y="1322.5" font-size="28.8" fill="#454545" textLength="63.7" lengthAdjust="spacingAndGlyphs" transform="rotate(-90 59.9 1322.5)">(min)</text>
<text x="563.2" y="1551.7" font-size="29.4" fill="#454545">Fr</text>
<text x="591.6" y="1565.6" font-size="24" fill="#454545">L</text>
<ellipse cx="420.2" cy="1341.4" rx="178.4" ry="37.5" fill="none" stroke="#1f80c4" stroke-width="2" transform="rotate(45 420.2 1341.4)"/>
<ellipse cx="631.4" cy="1369.1" rx="272" ry="49.5" fill="none" stroke="#ee1c25" stroke-width="2" transform="rotate(30 631.4 1369.1)"/>
<polygon points="320.2,1242.2 328.8,1253.2 320.2,1264.2 311.6,1253.2" fill="#ee1c25"/>
<circle cx="453.0" cy="1267.9" r="9.1" fill="#6dcfe0"/>
<circle cx="519.4" cy="1293.4" r="9.1" fill="#3953a4"/>
<circle cx="595.2" cy="1350.2" r="9.1" fill="#000000"/>
<polygon points="519.4,1436.2 528.0,1447.2 519.4,1458.2 510.8,1447.2" fill="#69bd45"/>
<circle cx="813.3" cy="1478.5" r="9.1" fill="#b9529f"/>
<text x="218.8" y="1332" font-size="36" fill="#4472c4" textLength="93" lengthAdjust="spacingAndGlyphs">Wide</text>
<text x="219" y="1384.2" font-size="36" fill="#4472c4" textLength="97.5" lengthAdjust="spacingAndGlyphs">Ridge</text>
<text x="744.4" y="1319.4" font-size="36" fill="#ee1c25" textLength="134" lengthAdjust="spacingAndGlyphs">Narrow</text>
<text x="745" y="1371.3" font-size="36" fill="#ee1c25" textLength="98.5" lengthAdjust="spacingAndGlyphs">Ridge</text>
<rect x="904.8" y="1264.9" width="130.2" height="195.8" fill="#fff" stroke="#4d4d4d" stroke-width="1.7"/>
<polygon points="957.1,1272.8 965.7,1283.8 957.1,1294.8 948.5,1283.8" fill="#ee1c25"/>
<text x="1005.3" y="1292.3999999999999" font-size="23.6" fill="#1a1a1a">A</text>
<polygon points="957.1,1304.5 965.7,1315.5 957.1,1326.5 948.5,1315.5" fill="#69bd45"/>
<text x="1005.3" y="1324.1" font-size="23.6" fill="#1a1a1a">B</text>
<circle cx="957.1" cy="1346.8" r="9.1" fill="#3953a4"/>
<text x="1005.3" y="1355.3999999999999" font-size="23.6" fill="#1a1a1a">C</text>
<circle cx="957.1" cy="1378.4" r="9.1" fill="#b9529f"/>
<text x="1005.3" y="1387.0" font-size="23.6" fill="#1a1a1a">D</text>
<circle cx="957.1" cy="1410.1" r="9.1" fill="#6dcfe0"/>
<text x="1005.3" y="1418.6999999999998" font-size="23.6" fill="#1a1a1a">F</text>
<circle cx="957.1" cy="1441.7" r="9.1" fill="#000000"/>
<text x="1005.3" y="1450.3" font-size="23.6" fill="#1a1a1a">G</text>
</svg></body></html>
